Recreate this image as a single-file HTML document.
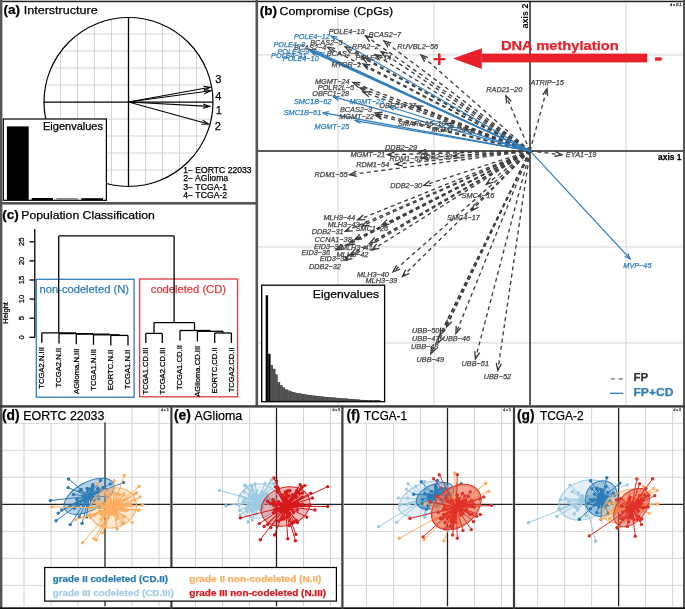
<!DOCTYPE html>
<html><head><meta charset="utf-8"><style>
html,body{margin:0;padding:0;background:#fff;}
svg{display:block;font-family:"Liberation Sans",Arial,sans-serif;}
</style></head><body>
<svg width="685" height="609" viewBox="0 0 685 609">
<rect width="685" height="609" fill="#fff"/>
<clipPath id="cc"><circle cx="128.5" cy="102.0" r="84.5"/></clipPath>
<g clip-path="url(#cc)">
<line x1="43.5" y1="17.5" x2="43.5" y2="186.5" stroke="#d4d4d4" stroke-width="1"/>
<line x1="44.0" y1="17.0" x2="213.0" y2="17.0" stroke="#d4d4d4" stroke-width="1"/>
<line x1="60.5" y1="17.5" x2="60.5" y2="186.5" stroke="#d4d4d4" stroke-width="1"/>
<line x1="44.0" y1="34.0" x2="213.0" y2="34.0" stroke="#d4d4d4" stroke-width="1"/>
<line x1="77.5" y1="17.5" x2="77.5" y2="186.5" stroke="#d4d4d4" stroke-width="1"/>
<line x1="44.0" y1="51.0" x2="213.0" y2="51.0" stroke="#d4d4d4" stroke-width="1"/>
<line x1="94.5" y1="17.5" x2="94.5" y2="186.5" stroke="#d4d4d4" stroke-width="1"/>
<line x1="44.0" y1="68.0" x2="213.0" y2="68.0" stroke="#d4d4d4" stroke-width="1"/>
<line x1="111.5" y1="17.5" x2="111.5" y2="186.5" stroke="#d4d4d4" stroke-width="1"/>
<line x1="44.0" y1="85.0" x2="213.0" y2="85.0" stroke="#d4d4d4" stroke-width="1"/>
<line x1="145.5" y1="17.5" x2="145.5" y2="186.5" stroke="#d4d4d4" stroke-width="1"/>
<line x1="44.0" y1="119.0" x2="213.0" y2="119.0" stroke="#d4d4d4" stroke-width="1"/>
<line x1="162.5" y1="17.5" x2="162.5" y2="186.5" stroke="#d4d4d4" stroke-width="1"/>
<line x1="44.0" y1="136.0" x2="213.0" y2="136.0" stroke="#d4d4d4" stroke-width="1"/>
<line x1="179.5" y1="17.5" x2="179.5" y2="186.5" stroke="#d4d4d4" stroke-width="1"/>
<line x1="44.0" y1="153.0" x2="213.0" y2="153.0" stroke="#d4d4d4" stroke-width="1"/>
<line x1="196.5" y1="17.5" x2="196.5" y2="186.5" stroke="#d4d4d4" stroke-width="1"/>
<line x1="44.0" y1="170.0" x2="213.0" y2="170.0" stroke="#d4d4d4" stroke-width="1"/>
<line x1="213.5" y1="17.5" x2="213.5" y2="186.5" stroke="#d4d4d4" stroke-width="1"/>
<line x1="44.0" y1="187.0" x2="213.0" y2="187.0" stroke="#d4d4d4" stroke-width="1"/>
</g>
<circle cx="128.5" cy="102.0" r="84.5" fill="none" stroke="#000" stroke-width="1.2"/>
<line x1="44.0" y1="102.1" x2="213.0" y2="102.1" stroke="#000" stroke-width="1.4"/>
<line x1="128.5" y1="17.5" x2="128.5" y2="186.5" stroke="#000" stroke-width="1.3"/>
<line x1="128.5" y1="102.0" x2="210.2" y2="87.2" stroke="#000" stroke-width="1.1"/>
<polyline points="203.3,86.3 210.2,87.2 204.0,90.5" fill="none" stroke="#000" stroke-width="1.1"/>
<line x1="128.5" y1="102.0" x2="210.7" y2="90.7" stroke="#000" stroke-width="1.1"/>
<polyline points="203.8,89.5 210.7,90.7 204.4,93.7" fill="none" stroke="#000" stroke-width="1.1"/>
<line x1="128.5" y1="102.0" x2="209.7" y2="106.4" stroke="#000" stroke-width="1.1"/>
<polyline points="203.2,103.9 209.7,106.4 202.9,108.2" fill="none" stroke="#000" stroke-width="1.1"/>
<line x1="128.5" y1="102.0" x2="208.5" y2="124.0" stroke="#000" stroke-width="1.1"/>
<polyline points="202.7,120.1 208.5,124.0 201.5,124.3" fill="none" stroke="#000" stroke-width="1.1"/>
<text x="215.3" y="82.9" font-size="11" fill="#000" stroke="#000" stroke-width="0.25">3</text>
<text x="215.3" y="99.5" font-size="11" fill="#000" stroke="#000" stroke-width="0.25">4</text>
<text x="215.8" y="113.5" font-size="11" fill="#000" stroke="#000" stroke-width="0.25">1</text>
<text x="214.8" y="130.4" font-size="11" fill="#000" stroke="#000" stroke-width="0.25">2</text>
<text x="3.4" y="14.3" font-size="13.5" font-weight="bold" fill="#000" stroke="#000" stroke-width="0.25">(a)</text>
<text x="23.7" y="14.3" font-size="11.8" fill="#000" stroke="#000" stroke-width="0.25" textLength="74.0" lengthAdjust="spacingAndGlyphs">Interstructure</text>
<rect x="3.3" y="119.0" width="103.1" height="81.3" fill="#fff" stroke="#000" stroke-width="1.2"/>
<rect x="6.9" y="126.4" width="21.8" height="73.6" fill="#000" stroke="none" stroke-width="1"/>
<rect x="31.7" y="198.0" width="21.3" height="2.0" fill="#000" stroke="none" stroke-width="1"/>
<rect x="56.3" y="198.0" width="21.4" height="2.0" fill="#888" stroke="none" stroke-width="1"/>
<rect x="81.3" y="198.2" width="21.7" height="1.8" fill="#000" stroke="none" stroke-width="1"/>
<text x="43.0" y="130.2" font-size="10" fill="#000" stroke="#000" stroke-width="0.25" textLength="60.0" lengthAdjust="spacingAndGlyphs">Eigenvalues</text>
<text x="183.2" y="172.7" font-size="8.4" fill="#000" stroke="#000" stroke-width="0.25" textLength="68.4" lengthAdjust="spacingAndGlyphs">1− EORTC 22033</text>
<text x="183.2" y="181.4" font-size="8.4" fill="#000" stroke="#000" stroke-width="0.25" textLength="45.0" lengthAdjust="spacingAndGlyphs">2− AGlioma</text>
<text x="183.2" y="189.8" font-size="8.4" fill="#000" stroke="#000" stroke-width="0.25" textLength="44.0" lengthAdjust="spacingAndGlyphs">3− TCGA-1</text>
<text x="183.2" y="198.2" font-size="8.4" fill="#000" stroke="#000" stroke-width="0.25" textLength="44.0" lengthAdjust="spacingAndGlyphs">4− TCGA-2</text>
<text x="2.3" y="219.0" font-size="13.5" font-weight="bold" fill="#000" stroke="#000" stroke-width="0.25">(c)</text>
<text x="21.3" y="219.2" font-size="11.8" fill="#000" stroke="#000" stroke-width="0.25" textLength="133.5" lengthAdjust="spacingAndGlyphs">Population Classification</text>
<line x1="34.8" y1="229.0" x2="34.8" y2="337.3" stroke="#000" stroke-width="1.3"/>
<line x1="29.5" y1="337.3" x2="34.8" y2="337.3" stroke="#000" stroke-width="1.3"/>
<text transform="translate(24.2,337.3) rotate(-90)" font-size="7.6" text-anchor="middle" fill="#000" stroke="#000" stroke-width="0.25">0</text>
<line x1="29.5" y1="318.2" x2="34.8" y2="318.2" stroke="#000" stroke-width="1.3"/>
<text transform="translate(24.2,318.2) rotate(-90)" font-size="7.6" text-anchor="middle" fill="#000" stroke="#000" stroke-width="0.25">5</text>
<line x1="29.5" y1="299.1" x2="34.8" y2="299.1" stroke="#000" stroke-width="1.3"/>
<text transform="translate(24.2,299.1) rotate(-90)" font-size="7.6" text-anchor="middle" fill="#000" stroke="#000" stroke-width="0.25">10</text>
<line x1="29.5" y1="280.0" x2="34.8" y2="280.0" stroke="#000" stroke-width="1.3"/>
<text transform="translate(24.2,280.0) rotate(-90)" font-size="7.6" text-anchor="middle" fill="#000" stroke="#000" stroke-width="0.25">15</text>
<line x1="29.5" y1="260.9" x2="34.8" y2="260.9" stroke="#000" stroke-width="1.3"/>
<text transform="translate(24.2,260.9) rotate(-90)" font-size="7.6" text-anchor="middle" fill="#000" stroke="#000" stroke-width="0.25">20</text>
<line x1="29.5" y1="241.8" x2="34.8" y2="241.8" stroke="#000" stroke-width="1.3"/>
<text transform="translate(24.2,241.8) rotate(-90)" font-size="7.6" text-anchor="middle" fill="#000" stroke="#000" stroke-width="0.25">25</text>
<text transform="translate(8.4,312.9) rotate(-90)" font-size="7.5" text-anchor="middle" fill="#000" stroke="#000" stroke-width="0.25">Height</text>
<rect x="36.3" y="279.3" width="97.8" height="117.9" fill="none" stroke="#2f7dbd" stroke-width="1.3"/>
<rect x="139.6" y="279.0" width="98.0" height="117.8" fill="none" stroke="#e0393e" stroke-width="1.3"/>
<text x="39.5" y="293.0" font-size="11" fill="#2f7dbd" stroke="#2f7dbd" stroke-width="0.25" textLength="89.5" lengthAdjust="spacingAndGlyphs">non-codeleted (N)</text>
<text x="150.8" y="293.2" font-size="11" fill="#e0393e" stroke="#e0393e" stroke-width="0.25" textLength="75.2" lengthAdjust="spacingAndGlyphs">codeleted (CD)</text>
<line x1="58.7" y1="235.9" x2="174.1" y2="235.9" stroke="#000" stroke-width="1.3"/>
<line x1="58.7" y1="235.9" x2="58.7" y2="332.8" stroke="#000" stroke-width="1.3"/>
<line x1="174.1" y1="235.9" x2="174.1" y2="322.7" stroke="#000" stroke-width="1.3"/>
<line x1="41.8" y1="332.8" x2="75.8" y2="332.8" stroke="#000" stroke-width="1.3"/>
<line x1="75.8" y1="332.8" x2="75.8" y2="333.6" stroke="#000" stroke-width="1.3"/>
<line x1="59.0" y1="333.6" x2="93.0" y2="333.6" stroke="#000" stroke-width="1.3"/>
<line x1="93.0" y1="333.6" x2="93.0" y2="334.2" stroke="#000" stroke-width="1.3"/>
<line x1="76.3" y1="334.2" x2="109.6" y2="334.2" stroke="#000" stroke-width="1.3"/>
<line x1="109.6" y1="334.2" x2="109.6" y2="334.8" stroke="#000" stroke-width="1.3"/>
<line x1="93.5" y1="334.8" x2="119.4" y2="334.8" stroke="#000" stroke-width="1.3"/>
<line x1="119.4" y1="334.8" x2="119.4" y2="335.4" stroke="#000" stroke-width="1.3"/>
<line x1="110.8" y1="335.4" x2="128.0" y2="335.4" stroke="#000" stroke-width="1.3"/>
<line x1="41.8" y1="332.8" x2="41.8" y2="342.8" stroke="#000" stroke-width="1.3"/>
<line x1="59.0" y1="333.6" x2="59.0" y2="343.6" stroke="#000" stroke-width="1.3"/>
<line x1="76.3" y1="334.2" x2="76.3" y2="344.2" stroke="#000" stroke-width="1.3"/>
<line x1="93.5" y1="334.8" x2="93.5" y2="344.8" stroke="#000" stroke-width="1.3"/>
<line x1="110.8" y1="335.4" x2="110.8" y2="345.4" stroke="#000" stroke-width="1.3"/>
<line x1="128.0" y1="335.4" x2="128.0" y2="345.4" stroke="#000" stroke-width="1.3"/>
<line x1="154.0" y1="322.7" x2="194.5" y2="322.7" stroke="#000" stroke-width="1.3"/>
<line x1="154.0" y1="322.7" x2="154.0" y2="333.4" stroke="#000" stroke-width="1.3"/>
<line x1="145.8" y1="333.4" x2="162.3" y2="333.4" stroke="#000" stroke-width="1.3"/>
<line x1="194.5" y1="322.7" x2="194.5" y2="330.5" stroke="#000" stroke-width="1.3"/>
<line x1="180.0" y1="330.5" x2="210.2" y2="330.5" stroke="#000" stroke-width="1.3"/>
<line x1="210.2" y1="330.5" x2="210.2" y2="331.3" stroke="#000" stroke-width="1.3"/>
<line x1="197.4" y1="331.3" x2="223.0" y2="331.3" stroke="#000" stroke-width="1.3"/>
<line x1="223.0" y1="331.3" x2="223.0" y2="333.0" stroke="#000" stroke-width="1.3"/>
<line x1="214.7" y1="333.0" x2="231.4" y2="333.0" stroke="#000" stroke-width="1.3"/>
<line x1="145.8" y1="333.4" x2="145.8" y2="343.1" stroke="#000" stroke-width="1.3"/>
<line x1="162.3" y1="333.4" x2="162.3" y2="343.1" stroke="#000" stroke-width="1.3"/>
<line x1="180.0" y1="330.5" x2="180.0" y2="340.8" stroke="#000" stroke-width="1.3"/>
<line x1="197.4" y1="331.3" x2="197.4" y2="341.5" stroke="#000" stroke-width="1.3"/>
<line x1="214.7" y1="333.0" x2="214.7" y2="343.0" stroke="#000" stroke-width="1.3"/>
<line x1="231.4" y1="333.0" x2="231.4" y2="343.0" stroke="#000" stroke-width="1.3"/>
<text transform="translate(44.0,347.1) rotate(-90)" font-size="7.65" text-anchor="end" fill="#000" stroke="#000" stroke-width="0.25">TCGA2.N.III</text>
<text transform="translate(61.2,347.9) rotate(-90)" font-size="7.65" text-anchor="end" fill="#000" stroke="#000" stroke-width="0.25">TCGA2.N.II</text>
<text transform="translate(78.5,348.5) rotate(-90)" font-size="7.65" text-anchor="end" fill="#000" stroke="#000" stroke-width="0.25">AGlioma.N.III</text>
<text transform="translate(95.7,349.1) rotate(-90)" font-size="7.65" text-anchor="end" fill="#000" stroke="#000" stroke-width="0.25">TCGA1.N.III</text>
<text transform="translate(113.0,349.7) rotate(-90)" font-size="7.65" text-anchor="end" fill="#000" stroke="#000" stroke-width="0.25">EORTC.N.II</text>
<text transform="translate(130.2,349.7) rotate(-90)" font-size="7.65" text-anchor="end" fill="#000" stroke="#000" stroke-width="0.25">TCGA1.N.II</text>
<text transform="translate(148.0,347.4) rotate(-90)" font-size="7.65" text-anchor="end" fill="#000" stroke="#000" stroke-width="0.25">TCGA1.CD.III</text>
<text transform="translate(164.5,347.4) rotate(-90)" font-size="7.65" text-anchor="end" fill="#000" stroke="#000" stroke-width="0.25">TCGA2.CD.III</text>
<text transform="translate(182.2,345.1) rotate(-90)" font-size="7.65" text-anchor="end" fill="#000" stroke="#000" stroke-width="0.25">TCGA1.CD.II</text>
<text transform="translate(199.6,345.8) rotate(-90)" font-size="7.65" text-anchor="end" fill="#000" stroke="#000" stroke-width="0.25">AGlioma.CD.III</text>
<text transform="translate(216.9,347.3) rotate(-90)" font-size="7.65" text-anchor="end" fill="#000" stroke="#000" stroke-width="0.25">EORTC.CD.II</text>
<text transform="translate(233.6,347.3) rotate(-90)" font-size="7.65" text-anchor="end" fill="#000" stroke="#000" stroke-width="0.25">TCGA2.CD.II</text>
<clipPath id="cb"><rect x="258.0" y="2.0" width="425.0" height="403.0"/></clipPath>
<g clip-path="url(#cb)">
<line x1="338.0" y1="2.0" x2="338.0" y2="405.0" stroke="#d4d4d4" stroke-width="1"/>
<line x1="434.0" y1="2.0" x2="434.0" y2="405.0" stroke="#d4d4d4" stroke-width="1"/>
<line x1="626.0" y1="2.0" x2="626.0" y2="405.0" stroke="#d4d4d4" stroke-width="1"/>
<line x1="258.0" y1="54.9" x2="683.0" y2="54.9" stroke="#d4d4d4" stroke-width="1"/>
<line x1="258.0" y1="246.9" x2="683.0" y2="246.9" stroke="#d4d4d4" stroke-width="1"/>
<line x1="258.0" y1="342.9" x2="683.0" y2="342.9" stroke="#d4d4d4" stroke-width="1"/>
</g>
<line x1="530.0" y1="2.0" x2="530.0" y2="405.0" stroke="#262626" stroke-width="1.5"/>
<line x1="258.0" y1="150.9" x2="683.0" y2="150.9" stroke="#262626" stroke-width="1.5"/>
<line x1="530.0" y1="150.9" x2="365.5" y2="35.8" stroke="#404040" stroke-width="1.35" stroke-dasharray="4,3.3"/>
<polyline points="369.8,41.9 365.5,35.8 372.7,37.7" fill="none" stroke="#383838" stroke-width="1.3"/>
<line x1="530.0" y1="150.9" x2="384.0" y2="41.0" stroke="#404040" stroke-width="1.35" stroke-dasharray="4,3.3"/>
<polyline points="388.1,47.3 384.0,41.0 391.2,43.2" fill="none" stroke="#383838" stroke-width="1.3"/>
<line x1="530.0" y1="150.9" x2="345.0" y2="46.6" stroke="#404040" stroke-width="1.35" stroke-dasharray="4,3.3"/>
<polyline points="349.9,52.3 345.0,46.6 352.4,47.8" fill="none" stroke="#383838" stroke-width="1.3"/>
<line x1="530.0" y1="150.9" x2="327.7" y2="47.4" stroke="#404040" stroke-width="1.35" stroke-dasharray="4,3.3"/>
<polyline points="332.8,52.9 327.7,47.4 335.1,48.3" fill="none" stroke="#383838" stroke-width="1.3"/>
<line x1="530.0" y1="150.9" x2="381.0" y2="51.5" stroke="#404040" stroke-width="1.35" stroke-dasharray="4,3.3"/>
<polyline points="385.4,57.5 381.0,51.5 388.3,53.3" fill="none" stroke="#383838" stroke-width="1.3"/>
<line x1="530.0" y1="150.9" x2="421.0" y2="55.0" stroke="#404040" stroke-width="1.35" stroke-dasharray="4,3.3"/>
<polyline points="424.6,61.6 421.0,55.0 428.0,57.7" fill="none" stroke="#383838" stroke-width="1.3"/>
<line x1="530.0" y1="150.9" x2="362.0" y2="57.5" stroke="#404040" stroke-width="1.35" stroke-dasharray="4,3.3"/>
<polyline points="366.9,63.2 362.0,57.5 369.4,58.7" fill="none" stroke="#383838" stroke-width="1.3"/>
<line x1="530.0" y1="150.9" x2="375.0" y2="54.5" stroke="#404040" stroke-width="1.35" stroke-dasharray="4,3.3"/>
<polyline points="379.6,60.4 375.0,54.5 382.3,56.0" fill="none" stroke="#383838" stroke-width="1.3"/>
<line x1="530.0" y1="150.9" x2="363.0" y2="64.0" stroke="#404040" stroke-width="1.35" stroke-dasharray="4,3.3"/>
<polyline points="368.1,69.5 363.0,64.0 370.4,65.0" fill="none" stroke="#383838" stroke-width="1.3"/>
<line x1="530.0" y1="150.9" x2="353.0" y2="82.5" stroke="#404040" stroke-width="1.35" stroke-dasharray="4,3.3"/>
<polyline points="358.6,87.4 353.0,82.5 360.5,82.6" fill="none" stroke="#383838" stroke-width="1.3"/>
<line x1="530.0" y1="150.9" x2="360.0" y2="88.0" stroke="#404040" stroke-width="1.35" stroke-dasharray="4,3.3"/>
<polyline points="365.7,92.9 360.0,88.0 367.5,88.0" fill="none" stroke="#383838" stroke-width="1.3"/>
<line x1="530.0" y1="150.9" x2="363.0" y2="92.0" stroke="#404040" stroke-width="1.35" stroke-dasharray="4,3.3"/>
<polyline points="368.8,96.8 363.0,92.0 370.5,91.9" fill="none" stroke="#383838" stroke-width="1.3"/>
<line x1="530.0" y1="150.9" x2="375.0" y2="113.0" stroke="#404040" stroke-width="1.35" stroke-dasharray="4,3.3"/>
<polyline points="381.2,117.2 375.0,113.0 382.5,112.2" fill="none" stroke="#383838" stroke-width="1.3"/>
<line x1="530.0" y1="150.9" x2="375.3" y2="115.3" stroke="#404040" stroke-width="1.35" stroke-dasharray="4,3.3"/>
<polyline points="381.6,119.4 375.3,115.3 382.7,114.4" fill="none" stroke="#383838" stroke-width="1.3"/>
<line x1="530.0" y1="150.9" x2="416.0" y2="106.0" stroke="#404040" stroke-width="1.35" stroke-dasharray="4,3.3"/>
<polyline points="421.6,111.0 416.0,106.0 423.5,106.2" fill="none" stroke="#383838" stroke-width="1.3"/>
<line x1="530.0" y1="150.9" x2="446.0" y2="123.5" stroke="#404040" stroke-width="1.35" stroke-dasharray="4,3.3"/>
<polyline points="451.9,128.1 446.0,123.5 453.5,123.2" fill="none" stroke="#383838" stroke-width="1.3"/>
<line x1="530.0" y1="150.9" x2="466.0" y2="130.0" stroke="#404040" stroke-width="1.35" stroke-dasharray="4,3.3"/>
<polyline points="471.9,134.6 466.0,130.0 473.5,129.7" fill="none" stroke="#383838" stroke-width="1.3"/>
<line x1="530.0" y1="150.9" x2="506.0" y2="95.9" stroke="#404040" stroke-width="1.35" stroke-dasharray="4,3.3"/>
<polyline points="506.5,103.4 506.0,95.9 511.2,101.3" fill="none" stroke="#383838" stroke-width="1.3"/>
<line x1="530.0" y1="150.9" x2="547.0" y2="88.7" stroke="#404040" stroke-width="1.35" stroke-dasharray="4,3.3"/>
<polyline points="542.7,94.8 547.0,88.7 547.6,96.2" fill="none" stroke="#383838" stroke-width="1.3"/>
<line x1="530.0" y1="150.9" x2="419.0" y2="152.0" stroke="#404040" stroke-width="1.35" stroke-dasharray="4,3.3"/>
<polyline points="426.1,154.5 419.0,152.0 426.0,149.4" fill="none" stroke="#383838" stroke-width="1.3"/>
<line x1="530.0" y1="150.9" x2="387.6" y2="154.7" stroke="#404040" stroke-width="1.35" stroke-dasharray="4,3.3"/>
<polyline points="394.7,157.1 387.6,154.7 394.6,151.9" fill="none" stroke="#383838" stroke-width="1.3"/>
<line x1="530.0" y1="150.9" x2="422.0" y2="158.0" stroke="#404040" stroke-width="1.35" stroke-dasharray="4,3.3"/>
<polyline points="429.2,160.1 422.0,158.0 428.9,155.0" fill="none" stroke="#383838" stroke-width="1.3"/>
<line x1="530.0" y1="150.9" x2="453.0" y2="156.0" stroke="#404040" stroke-width="1.35" stroke-dasharray="4,3.3"/>
<polyline points="460.2,158.1 453.0,156.0 459.9,153.0" fill="none" stroke="#383838" stroke-width="1.3"/>
<line x1="530.0" y1="150.9" x2="395.6" y2="164.2" stroke="#404040" stroke-width="1.35" stroke-dasharray="4,3.3"/>
<polyline points="402.9,166.1 395.6,164.2 402.4,161.0" fill="none" stroke="#383838" stroke-width="1.3"/>
<line x1="530.0" y1="150.9" x2="349.6" y2="174.7" stroke="#404040" stroke-width="1.35" stroke-dasharray="4,3.3"/>
<polyline points="356.9,176.3 349.6,174.7 356.3,171.2" fill="none" stroke="#383838" stroke-width="1.3"/>
<line x1="530.0" y1="150.9" x2="423.8" y2="185.4" stroke="#404040" stroke-width="1.35" stroke-dasharray="4,3.3"/>
<polyline points="431.3,185.7 423.8,185.4 429.7,180.8" fill="none" stroke="#383838" stroke-width="1.3"/>
<line x1="530.0" y1="150.9" x2="486.3" y2="184.3" stroke="#404040" stroke-width="1.35" stroke-dasharray="4,3.3"/>
<polyline points="493.5,182.1 486.3,184.3 490.3,178.0" fill="none" stroke="#383838" stroke-width="1.3"/>
<line x1="530.0" y1="150.9" x2="471.5" y2="210.6" stroke="#404040" stroke-width="1.35" stroke-dasharray="4,3.3"/>
<polyline points="478.3,207.4 471.5,210.6 474.6,203.8" fill="none" stroke="#383838" stroke-width="1.3"/>
<line x1="530.0" y1="150.9" x2="357.7" y2="219.9" stroke="#404040" stroke-width="1.35" stroke-dasharray="4,3.3"/>
<polyline points="365.2,219.7 357.7,219.9 363.3,214.9" fill="none" stroke="#383838" stroke-width="1.3"/>
<line x1="530.0" y1="150.9" x2="362.0" y2="226.0" stroke="#404040" stroke-width="1.35" stroke-dasharray="4,3.3"/>
<polyline points="369.5,225.5 362.0,226.0 367.4,220.8" fill="none" stroke="#383838" stroke-width="1.3"/>
<line x1="530.0" y1="150.9" x2="382.0" y2="225.0" stroke="#404040" stroke-width="1.35" stroke-dasharray="4,3.3"/>
<polyline points="389.5,224.1 382.0,225.0 387.2,219.6" fill="none" stroke="#383838" stroke-width="1.3"/>
<line x1="530.0" y1="150.9" x2="345.3" y2="231.3" stroke="#404040" stroke-width="1.35" stroke-dasharray="4,3.3"/>
<polyline points="352.8,230.8 345.3,231.3 350.7,226.1" fill="none" stroke="#383838" stroke-width="1.3"/>
<line x1="530.0" y1="150.9" x2="354.7" y2="239.7" stroke="#404040" stroke-width="1.35" stroke-dasharray="4,3.3"/>
<polyline points="362.1,238.8 354.7,239.7 359.8,234.2" fill="none" stroke="#383838" stroke-width="1.3"/>
<line x1="530.0" y1="150.9" x2="348.0" y2="245.0" stroke="#404040" stroke-width="1.35" stroke-dasharray="4,3.3"/>
<polyline points="355.4,244.0 348.0,245.0 353.1,239.5" fill="none" stroke="#383838" stroke-width="1.3"/>
<line x1="530.0" y1="150.9" x2="370.0" y2="243.0" stroke="#404040" stroke-width="1.35" stroke-dasharray="4,3.3"/>
<polyline points="377.4,241.7 370.0,243.0 374.8,237.3" fill="none" stroke="#383838" stroke-width="1.3"/>
<line x1="530.0" y1="150.9" x2="336.0" y2="250.0" stroke="#404040" stroke-width="1.35" stroke-dasharray="4,3.3"/>
<polyline points="343.4,249.1 336.0,250.0 341.1,244.5" fill="none" stroke="#383838" stroke-width="1.3"/>
<line x1="530.0" y1="150.9" x2="372.0" y2="250.0" stroke="#404040" stroke-width="1.35" stroke-dasharray="4,3.3"/>
<polyline points="379.3,248.4 372.0,250.0 376.6,244.1" fill="none" stroke="#383838" stroke-width="1.3"/>
<line x1="530.0" y1="150.9" x2="350.0" y2="255.0" stroke="#404040" stroke-width="1.35" stroke-dasharray="4,3.3"/>
<polyline points="357.4,253.7 350.0,255.0 354.8,249.3" fill="none" stroke="#383838" stroke-width="1.3"/>
<line x1="530.0" y1="150.9" x2="345.0" y2="260.0" stroke="#404040" stroke-width="1.35" stroke-dasharray="4,3.3"/>
<polyline points="352.4,258.6 345.0,260.0 349.8,254.2" fill="none" stroke="#383838" stroke-width="1.3"/>
<line x1="530.0" y1="150.9" x2="393.1" y2="271.8" stroke="#404040" stroke-width="1.35" stroke-dasharray="4,3.3"/>
<polyline points="400.1,269.1 393.1,271.8 396.7,265.2" fill="none" stroke="#383838" stroke-width="1.3"/>
<line x1="530.0" y1="150.9" x2="402.5" y2="276.5" stroke="#404040" stroke-width="1.35" stroke-dasharray="4,3.3"/>
<polyline points="409.3,273.4 402.5,276.5 405.7,269.7" fill="none" stroke="#383838" stroke-width="1.3"/>
<line x1="530.0" y1="150.9" x2="446.5" y2="327.0" stroke="#404040" stroke-width="1.35" stroke-dasharray="4,3.3"/>
<polyline points="451.8,321.7 446.5,327.0 447.2,319.5" fill="none" stroke="#383838" stroke-width="1.3"/>
<line x1="530.0" y1="150.9" x2="440.0" y2="335.0" stroke="#404040" stroke-width="1.35" stroke-dasharray="4,3.3"/>
<polyline points="445.4,329.8 440.0,335.0 440.8,327.5" fill="none" stroke="#383838" stroke-width="1.3"/>
<line x1="530.0" y1="150.9" x2="455.9" y2="333.4" stroke="#404040" stroke-width="1.35" stroke-dasharray="4,3.3"/>
<polyline points="460.9,327.8 455.9,333.4 456.2,325.9" fill="none" stroke="#383838" stroke-width="1.3"/>
<line x1="530.0" y1="150.9" x2="438.0" y2="343.0" stroke="#404040" stroke-width="1.35" stroke-dasharray="4,3.3"/>
<polyline points="443.4,337.8 438.0,343.0 438.7,335.5" fill="none" stroke="#383838" stroke-width="1.3"/>
<line x1="530.0" y1="150.9" x2="430.8" y2="353.8" stroke="#404040" stroke-width="1.35" stroke-dasharray="4,3.3"/>
<polyline points="436.2,348.6 430.8,353.8 431.6,346.3" fill="none" stroke="#383838" stroke-width="1.3"/>
<line x1="530.0" y1="150.9" x2="475.4" y2="358.8" stroke="#404040" stroke-width="1.35" stroke-dasharray="4,3.3"/>
<polyline points="479.7,352.6 475.4,358.8 474.7,351.3" fill="none" stroke="#383838" stroke-width="1.3"/>
<line x1="530.0" y1="150.9" x2="497.8" y2="370.3" stroke="#404040" stroke-width="1.35" stroke-dasharray="4,3.3"/>
<polyline points="501.4,363.7 497.8,370.3 496.3,363.0" fill="none" stroke="#383838" stroke-width="1.3"/>
<line x1="530.0" y1="150.9" x2="561.8" y2="154.8" stroke="#404040" stroke-width="1.35" stroke-dasharray="4,3.3"/>
<polyline points="555.1,151.4 561.8,154.8 554.5,156.5" fill="none" stroke="#383838" stroke-width="1.3"/>
<line x1="530.0" y1="150.9" x2="331.2" y2="36.1" stroke="#2f7dbd" stroke-width="1.2"/>
<polyline points="335.1,40.7 331.2,36.1 337.1,37.1" fill="none" stroke="#2f7dbd" stroke-width="1.2"/>
<line x1="530.0" y1="150.9" x2="309.0" y2="49.5" stroke="#2f7dbd" stroke-width="1.2"/>
<polyline points="313.3,53.7 309.0,49.5 315.0,50.0" fill="none" stroke="#2f7dbd" stroke-width="1.2"/>
<line x1="530.0" y1="150.9" x2="313.0" y2="51.0" stroke="#2f7dbd" stroke-width="1.2"/>
<polyline points="317.3,55.2 313.0,51.0 319.0,51.5" fill="none" stroke="#2f7dbd" stroke-width="1.2"/>
<line x1="530.0" y1="150.9" x2="311.0" y2="51.5" stroke="#2f7dbd" stroke-width="1.2"/>
<polyline points="315.3,55.7 311.0,51.5 317.0,52.0" fill="none" stroke="#2f7dbd" stroke-width="1.2"/>
<line x1="530.0" y1="150.9" x2="319.0" y2="52.5" stroke="#2f7dbd" stroke-width="1.2"/>
<polyline points="323.2,56.7 319.0,52.5 325.0,53.0" fill="none" stroke="#2f7dbd" stroke-width="1.2"/>
<line x1="530.0" y1="150.9" x2="333.6" y2="96.9" stroke="#2f7dbd" stroke-width="1.2"/>
<polyline points="338.5,100.4 333.6,96.9 339.6,96.4" fill="none" stroke="#2f7dbd" stroke-width="1.2"/>
<line x1="530.0" y1="150.9" x2="323.0" y2="112.7" stroke="#2f7dbd" stroke-width="1.2"/>
<polyline points="328.2,115.7 323.0,112.7 328.9,111.7" fill="none" stroke="#2f7dbd" stroke-width="1.2"/>
<line x1="530.0" y1="150.9" x2="355.3" y2="120.6" stroke="#2f7dbd" stroke-width="1.2"/>
<polyline points="360.5,123.6 355.3,120.6 361.2,119.5" fill="none" stroke="#2f7dbd" stroke-width="1.2"/>
<line x1="530.0" y1="150.9" x2="389.0" y2="106.5" stroke="#2f7dbd" stroke-width="1.2"/>
<polyline points="393.8,110.2 389.0,106.5 395.0,106.2" fill="none" stroke="#2f7dbd" stroke-width="1.2"/>
<line x1="530.0" y1="150.9" x2="630.2" y2="258.9" stroke="#2f7dbd" stroke-width="1.2"/>
<polyline points="627.9,253.4 630.2,258.9 624.9,256.2" fill="none" stroke="#2f7dbd" stroke-width="1.2"/>
<text x="328.7" y="33.8" font-size="7.3" font-style="italic" fill="#444" stroke="#444" stroke-width="0.25">POLE4−13</text>
<text x="368.8" y="37.3" font-size="7.3" font-style="italic" fill="#444" stroke="#444" stroke-width="0.25">BCAS2−7</text>
<text x="310.2" y="45.3" font-size="7.3" font-style="italic" fill="#444" stroke="#444" stroke-width="0.25">BCAS2−5</text>
<text x="294.0" y="49.5" font-size="7.3" font-style="italic" fill="#444" stroke="#444" stroke-width="0.25">BCAS2−4</text>
<text x="351.9" y="48.6" font-size="7.3" font-style="italic" fill="#444" stroke="#444" stroke-width="0.25">RPA2−2</text>
<text x="397.3" y="49.3" font-size="7.3" font-style="italic" fill="#444" stroke="#444" stroke-width="0.25">RUVBL2−56</text>
<text x="326.8" y="55.6" font-size="7.3" font-style="italic" fill="#444" stroke="#444" stroke-width="0.25">BCAS2−6</text>
<text x="355.4" y="59.7" font-size="7.3" font-style="italic" fill="#444" stroke="#444" stroke-width="0.25">POLE4−14</text>
<text x="331.4" y="67.3" font-size="7.3" font-style="italic" fill="#444" stroke="#444" stroke-width="0.25">MTOR−1</text>
<text x="314.9" y="84.2" font-size="7.3" font-style="italic" fill="#444" stroke="#444" stroke-width="0.25">MGMT−24</text>
<text x="317.8" y="90.4" font-size="7.3" font-style="italic" fill="#444" stroke="#444" stroke-width="0.25">POLR2L−5</text>
<text x="312.3" y="96.0" font-size="7.3" font-style="italic" fill="#444" stroke="#444" stroke-width="0.25">OBFC1−28</text>
<text x="339.9" y="111.8" font-size="7.3" font-style="italic" fill="#444" stroke="#444" stroke-width="0.25">BCAS2−3</text>
<text x="339.2" y="118.9" font-size="7.3" font-style="italic" fill="#444" stroke="#444" stroke-width="0.25">MGMT−22</text>
<text x="379.3" y="108.1" font-size="7.3" font-style="italic" fill="#444" stroke="#444" stroke-width="0.25">OBFC1−27</text>
<text x="398.0" y="125.5" font-size="7.3" font-style="italic" fill="#444" stroke="#444" stroke-width="0.25">SMARCA5−10</text>
<text x="431.4" y="132.3" font-size="7.3" font-style="italic" fill="#444" stroke="#444" stroke-width="0.25">MGMT−26</text>
<text x="486.3" y="92.0" font-size="7.3" font-style="italic" fill="#444" stroke="#444" stroke-width="0.25">RAD21−20</text>
<text x="530.6" y="85.4" font-size="7.3" font-style="italic" fill="#444" stroke="#444" stroke-width="0.25">ATRIP−15</text>
<text x="385.1" y="149.6" font-size="7.3" font-style="italic" fill="#444" stroke="#444" stroke-width="0.25">DDB2−29</text>
<text x="350.4" y="157.3" font-size="7.3" font-style="italic" fill="#444" stroke="#444" stroke-width="0.25">MGMT−21</text>
<text x="389.5" y="161.3" font-size="7.3" font-style="italic" fill="#444" stroke="#444" stroke-width="0.25">RDM1−53</text>
<text x="420.1" y="159.1" font-size="7.3" font-style="italic" fill="#444" stroke="#444" stroke-width="0.25">DDB2−33</text>
<text x="356.2" y="166.8" font-size="7.3" font-style="italic" fill="#444" stroke="#444" stroke-width="0.25">RDM1−54</text>
<text x="314.6" y="177.3" font-size="7.3" font-style="italic" fill="#444" stroke="#444" stroke-width="0.25">RDM1−55</text>
<text x="390.2" y="187.6" font-size="7.3" font-style="italic" fill="#444" stroke="#444" stroke-width="0.25">DDB2−30</text>
<text x="461.6" y="197.5" font-size="7.3" font-style="italic" fill="#444" stroke="#444" stroke-width="0.25">SMC4−16</text>
<text x="447.1" y="220.0" font-size="7.3" font-style="italic" fill="#444" stroke="#444" stroke-width="0.25">SMC4−17</text>
<text x="323.4" y="219.6" font-size="7.3" font-style="italic" fill="#444" stroke="#444" stroke-width="0.25">MLH3−44</text>
<text x="327.7" y="226.6" font-size="7.3" font-style="italic" fill="#444" stroke="#444" stroke-width="0.25">MLH3−43</text>
<text x="355.5" y="231.0" font-size="7.3" font-style="italic" fill="#444" stroke="#444" stroke-width="0.25">SMC1−26</text>
<text x="311.7" y="233.5" font-size="7.3" font-style="italic" fill="#444" stroke="#444" stroke-width="0.25">DDB2−31</text>
<text x="314.6" y="241.5" font-size="7.3" font-style="italic" fill="#444" stroke="#444" stroke-width="0.25">CCNA1−38</text>
<text x="313.9" y="248.8" font-size="7.3" font-style="italic" fill="#444" stroke="#444" stroke-width="0.25">EID3−34</text>
<text x="340.9" y="249.5" font-size="7.3" font-style="italic" fill="#444" stroke="#444" stroke-width="0.25">MLH3−41</text>
<text x="301.5" y="254.9" font-size="7.3" font-style="italic" fill="#444" stroke="#444" stroke-width="0.25">EID3−36</text>
<text x="336.5" y="256.8" font-size="7.3" font-style="italic" fill="#444" stroke="#444" stroke-width="0.25">MLH3−42</text>
<text x="319.7" y="261.2" font-size="7.3" font-style="italic" fill="#444" stroke="#444" stroke-width="0.25">EID3−35</text>
<text x="309.0" y="269.3" font-size="7.3" font-style="italic" fill="#444" stroke="#444" stroke-width="0.25">DDB2−32</text>
<text x="357.0" y="276.8" font-size="7.3" font-style="italic" fill="#444" stroke="#444" stroke-width="0.25">MLH3−40</text>
<text x="365.5" y="282.8" font-size="7.3" font-style="italic" fill="#444" stroke="#444" stroke-width="0.25">MLH3−39</text>
<text x="412.0" y="332.7" font-size="7.3" font-style="italic" fill="#444" stroke="#444" stroke-width="0.25">UBB−50</text>
<text x="412.0" y="341.2" font-size="7.3" font-style="italic" fill="#444" stroke="#444" stroke-width="0.25">UBB−47</text>
<text x="442.7" y="341.2" font-size="7.3" font-style="italic" fill="#444" stroke="#444" stroke-width="0.25">UBB−46</text>
<text x="411.0" y="349.0" font-size="7.3" font-style="italic" fill="#444" stroke="#444" stroke-width="0.25">UBB−48</text>
<text x="416.6" y="361.6" font-size="7.3" font-style="italic" fill="#444" stroke="#444" stroke-width="0.25">UBB−49</text>
<text x="461.6" y="366.1" font-size="7.3" font-style="italic" fill="#444" stroke="#444" stroke-width="0.25">UBB−51</text>
<text x="483.7" y="378.6" font-size="7.3" font-style="italic" fill="#444" stroke="#444" stroke-width="0.25">UBB−52</text>
<text x="565.8" y="157.1" font-size="7.3" font-style="italic" fill="#444" stroke="#444" stroke-width="0.25">EYA1−19</text>
<text x="293.9" y="38.8" font-size="7.3" font-style="italic" fill="#2f7dbd" stroke="#2f7dbd" stroke-width="0.25">POLE4−12</text>
<text x="273.4" y="47.0" font-size="7.3" font-style="italic" fill="#2f7dbd" stroke="#2f7dbd" stroke-width="0.25">POLE4−8</text>
<text x="277.5" y="54.2" font-size="7.3" font-style="italic" fill="#2f7dbd" stroke="#2f7dbd" stroke-width="0.25">POLE4−9</text>
<text x="271.1" y="58.0" font-size="7.3" font-style="italic" fill="#2f7dbd" stroke="#2f7dbd" stroke-width="0.25">POLE4−11</text>
<text x="282.8" y="61.0" font-size="7.3" font-style="italic" fill="#2f7dbd" stroke="#2f7dbd" stroke-width="0.25">POLE4−10</text>
<text x="293.9" y="104.4" font-size="7.3" font-style="italic" fill="#2f7dbd" stroke="#2f7dbd" stroke-width="0.25">SMC1B−62</text>
<text x="283.7" y="115.3" font-size="7.3" font-style="italic" fill="#2f7dbd" stroke="#2f7dbd" stroke-width="0.25">SMC1B−61</text>
<text x="314.6" y="128.9" font-size="7.3" font-style="italic" fill="#2f7dbd" stroke="#2f7dbd" stroke-width="0.25">MGMT−25</text>
<text x="349.5" y="103.5" font-size="7.3" font-style="italic" fill="#2f7dbd" stroke="#2f7dbd" stroke-width="0.25">MGMT−23</text>
<text x="623.3" y="268.1" font-size="7.3" font-style="italic" fill="#2f7dbd" stroke="#2f7dbd" stroke-width="0.25">MVP−45</text>
<rect x="481.8" y="53.6" width="165.4" height="8.8" fill="#e8202a"/>
<polygon points="453.0,58.5 481.8,48.2 481.8,69.1" fill="#e8202a"/>
<rect x="433.5" y="58.0" width="11.7" height="2.3" fill="#e8202a" stroke="none" stroke-width="1"/>
<rect x="438.0" y="53.4" width="2.5" height="11.6" fill="#e8202a" stroke="none" stroke-width="1"/>
<rect x="655.1" y="57.3" width="6.6" height="3.4" fill="#e8202a" stroke="none" stroke-width="1"/>
<text x="500.9" y="49.8" font-size="13" font-weight="bold" fill="#e8202a" stroke="#e8202a" stroke-width="0.25" textLength="117.8" lengthAdjust="spacingAndGlyphs">DNA methylation</text>
<text transform="translate(528.3,28.5) rotate(-90)" font-size="9" font-weight="bold" fill="#000" textLength="24.9" lengthAdjust="spacingAndGlyphs">axis 2</text>
<text x="658.1" y="159.5" font-size="8.8" font-weight="bold" fill="#000" stroke="#000" stroke-width="0.25" textLength="23.3" lengthAdjust="spacingAndGlyphs">axis 1</text>
<rect x="668.5" y="2.2" width="14.5" height="5.2" fill="#fff" stroke="none" stroke-width="1"/>
<text x="669.9" y="6.0" font-size="3.6" fill="#333" stroke="#333" stroke-width="0.25" textLength="11.8" lengthAdjust="spacingAndGlyphs">d = 0.1</text>
<rect x="258.2" y="2.2" width="137.0" height="14.6" fill="#fff" stroke="none" stroke-width="1"/>
<text x="259.8" y="14.6" font-size="13.5" font-weight="bold" fill="#000" stroke="#000" stroke-width="0.25">(b)</text>
<text x="279.5" y="14.6" font-size="11.8" fill="#000" stroke="#000" stroke-width="0.25" textLength="113.6" lengthAdjust="spacingAndGlyphs">Compromise (CpGs)</text>
<rect x="261.7" y="285.2" width="122.9" height="116.5" fill="#fff" stroke="#000" stroke-width="1.3"/>
<rect x="265.90" y="295.5" width="2.05" height="105.5" fill="#000" stroke="#111" stroke-width="0.35"/>
<rect x="268.30" y="354.0" width="2.05" height="47.0" fill="#000" stroke="#111" stroke-width="0.35"/>
<rect x="270.70" y="365.2" width="2.05" height="35.8" fill="#555" stroke="#111" stroke-width="0.35"/>
<rect x="273.10" y="369.0" width="2.05" height="32.0" fill="#555" stroke="#111" stroke-width="0.35"/>
<rect x="275.50" y="374.8" width="2.05" height="26.2" fill="#555" stroke="#111" stroke-width="0.35"/>
<rect x="277.90" y="382.4" width="2.05" height="18.6" fill="#555" stroke="#111" stroke-width="0.35"/>
<rect x="280.30" y="385.5" width="2.05" height="15.5" fill="#555" stroke="#111" stroke-width="0.35"/>
<rect x="282.70" y="387.6" width="2.05" height="13.4" fill="#555" stroke="#111" stroke-width="0.35"/>
<rect x="285.10" y="389.7" width="2.05" height="11.3" fill="#555" stroke="#111" stroke-width="0.35"/>
<rect x="287.50" y="390.8" width="2.05" height="10.2" fill="#555" stroke="#111" stroke-width="0.35"/>
<rect x="289.90" y="391.6" width="2.05" height="9.4" fill="#555" stroke="#111" stroke-width="0.35"/>
<rect x="292.30" y="392.3" width="2.05" height="8.7" fill="#555" stroke="#111" stroke-width="0.35"/>
<rect x="294.70" y="392.9" width="2.05" height="8.1" fill="#555" stroke="#111" stroke-width="0.35"/>
<rect x="297.10" y="393.4" width="2.05" height="7.6" fill="#555" stroke="#111" stroke-width="0.35"/>
<rect x="299.50" y="393.8" width="2.05" height="7.2" fill="#555" stroke="#111" stroke-width="0.35"/>
<rect x="301.90" y="394.2" width="2.05" height="6.8" fill="#555" stroke="#111" stroke-width="0.35"/>
<rect x="304.30" y="394.6" width="2.05" height="6.4" fill="#555" stroke="#111" stroke-width="0.35"/>
<rect x="306.70" y="395.0" width="2.05" height="6.0" fill="#555" stroke="#111" stroke-width="0.35"/>
<rect x="309.10" y="395.3" width="2.05" height="5.7" fill="#555" stroke="#111" stroke-width="0.35"/>
<rect x="311.50" y="395.6" width="2.05" height="5.4" fill="#555" stroke="#111" stroke-width="0.35"/>
<rect x="313.90" y="395.9" width="2.05" height="5.1" fill="#555" stroke="#111" stroke-width="0.35"/>
<rect x="316.30" y="396.2" width="2.05" height="4.8" fill="#555" stroke="#111" stroke-width="0.35"/>
<rect x="318.70" y="396.5" width="2.05" height="4.5" fill="#555" stroke="#111" stroke-width="0.35"/>
<rect x="321.10" y="396.8" width="2.05" height="4.2" fill="#555" stroke="#111" stroke-width="0.35"/>
<rect x="323.50" y="397.0" width="2.05" height="4.0" fill="#555" stroke="#111" stroke-width="0.35"/>
<rect x="325.90" y="397.2" width="2.05" height="3.8" fill="#555" stroke="#111" stroke-width="0.35"/>
<rect x="328.30" y="397.4" width="2.05" height="3.6" fill="#555" stroke="#111" stroke-width="0.35"/>
<rect x="330.70" y="397.6" width="2.05" height="3.4" fill="#555" stroke="#111" stroke-width="0.35"/>
<rect x="333.10" y="397.8" width="2.05" height="3.2" fill="#555" stroke="#111" stroke-width="0.35"/>
<rect x="335.50" y="398.0" width="2.05" height="3.0" fill="#555" stroke="#111" stroke-width="0.35"/>
<rect x="337.90" y="398.2" width="2.05" height="2.8" fill="#555" stroke="#111" stroke-width="0.35"/>
<rect x="340.30" y="398.4" width="2.05" height="2.6" fill="#555" stroke="#111" stroke-width="0.35"/>
<rect x="342.70" y="398.6" width="2.05" height="2.4" fill="#555" stroke="#111" stroke-width="0.35"/>
<rect x="345.10" y="398.8" width="2.05" height="2.2" fill="#555" stroke="#111" stroke-width="0.35"/>
<rect x="347.50" y="399.0" width="2.05" height="2.0" fill="#555" stroke="#111" stroke-width="0.35"/>
<rect x="349.90" y="399.2" width="2.05" height="1.8" fill="#555" stroke="#111" stroke-width="0.35"/>
<rect x="352.30" y="399.4" width="2.05" height="1.6" fill="#555" stroke="#111" stroke-width="0.35"/>
<rect x="354.70" y="399.6" width="2.05" height="1.4" fill="#555" stroke="#111" stroke-width="0.35"/>
<rect x="357.10" y="399.8" width="2.05" height="1.2" fill="#555" stroke="#111" stroke-width="0.35"/>
<rect x="359.50" y="400.0" width="2.05" height="1.0" fill="#555" stroke="#111" stroke-width="0.35"/>
<rect x="361.90" y="400.1" width="2.05" height="0.9" fill="#555" stroke="#111" stroke-width="0.35"/>
<rect x="364.30" y="400.2" width="2.05" height="0.8" fill="#555" stroke="#111" stroke-width="0.35"/>
<rect x="366.70" y="400.3" width="2.05" height="0.7" fill="#555" stroke="#111" stroke-width="0.35"/>
<rect x="369.10" y="400.4" width="2.05" height="0.6" fill="#555" stroke="#111" stroke-width="0.35"/>
<rect x="371.50" y="400.5" width="2.05" height="0.5" fill="#555" stroke="#111" stroke-width="0.35"/>
<rect x="373.90" y="400.6" width="2.05" height="0.4" fill="#555" stroke="#111" stroke-width="0.35"/>
<rect x="376.30" y="400.7" width="2.05" height="0.3" fill="#555" stroke="#111" stroke-width="0.35"/>
<rect x="378.70" y="400.8" width="2.05" height="0.2" fill="#555" stroke="#111" stroke-width="0.35"/>
<text x="312.8" y="297.6" font-size="11.5" fill="#000" stroke="#000" stroke-width="0.25" textLength="66.2" lengthAdjust="spacingAndGlyphs">Eigenvalues</text>
<line x1="610.9" y1="378.9" x2="614.9" y2="378.9" stroke="#666" stroke-width="1.2"/>
<line x1="618.6" y1="378.9" x2="622.7" y2="378.9" stroke="#666" stroke-width="1.2"/>
<text x="633.5" y="381.3" font-size="11.3" font-weight="bold" fill="#333" stroke="#333" stroke-width="0.25" textLength="14.6" lengthAdjust="spacingAndGlyphs">FP</text>
<line x1="609.9" y1="393.3" x2="623.2" y2="393.3" stroke="#2f7dbd" stroke-width="1.3"/>
<text x="633.5" y="396.0" font-size="11.3" font-weight="bold" fill="#2f7dbd" stroke="#2f7dbd" stroke-width="0.25" textLength="39.9" lengthAdjust="spacingAndGlyphs">FP+CD</text>
<clipPath id="cpd"><rect x="2.0" y="407.5" width="168.5" height="199.0"/></clipPath>
<g clip-path="url(#cpd)">
<line x1="-3.0" y1="407.5" x2="-3.0" y2="606.5" stroke="#d4d4d4" stroke-width="1"/>
<line x1="24.0" y1="407.5" x2="24.0" y2="606.5" stroke="#d4d4d4" stroke-width="1"/>
<line x1="51.0" y1="407.5" x2="51.0" y2="606.5" stroke="#d4d4d4" stroke-width="1"/>
<line x1="78.0" y1="407.5" x2="78.0" y2="606.5" stroke="#d4d4d4" stroke-width="1"/>
<line x1="132.0" y1="407.5" x2="132.0" y2="606.5" stroke="#d4d4d4" stroke-width="1"/>
<line x1="159.0" y1="407.5" x2="159.0" y2="606.5" stroke="#d4d4d4" stroke-width="1"/>
<line x1="186.0" y1="407.5" x2="186.0" y2="606.5" stroke="#d4d4d4" stroke-width="1"/>
<line x1="2.0" y1="396.3" x2="170.5" y2="396.3" stroke="#d4d4d4" stroke-width="1"/>
<line x1="2.0" y1="423.3" x2="170.5" y2="423.3" stroke="#d4d4d4" stroke-width="1"/>
<line x1="2.0" y1="450.3" x2="170.5" y2="450.3" stroke="#d4d4d4" stroke-width="1"/>
<line x1="2.0" y1="477.3" x2="170.5" y2="477.3" stroke="#d4d4d4" stroke-width="1"/>
<line x1="2.0" y1="531.3" x2="170.5" y2="531.3" stroke="#d4d4d4" stroke-width="1"/>
<line x1="2.0" y1="558.3" x2="170.5" y2="558.3" stroke="#d4d4d4" stroke-width="1"/>
<line x1="2.0" y1="585.3" x2="170.5" y2="585.3" stroke="#d4d4d4" stroke-width="1"/>
<line x1="105.0" y1="407.5" x2="105.0" y2="606.5" stroke="#222" stroke-width="1.3"/>
<line x1="2.0" y1="504.3" x2="170.5" y2="504.3" stroke="#222" stroke-width="1.3"/>
</g>
<clipPath id="cpe"><rect x="172.3" y="407.5" width="169.7" height="199.0"/></clipPath>
<g clip-path="url(#cpe)">
<line x1="168.5" y1="407.5" x2="168.5" y2="606.5" stroke="#d4d4d4" stroke-width="1"/>
<line x1="195.5" y1="407.5" x2="195.5" y2="606.5" stroke="#d4d4d4" stroke-width="1"/>
<line x1="222.5" y1="407.5" x2="222.5" y2="606.5" stroke="#d4d4d4" stroke-width="1"/>
<line x1="249.5" y1="407.5" x2="249.5" y2="606.5" stroke="#d4d4d4" stroke-width="1"/>
<line x1="303.5" y1="407.5" x2="303.5" y2="606.5" stroke="#d4d4d4" stroke-width="1"/>
<line x1="330.5" y1="407.5" x2="330.5" y2="606.5" stroke="#d4d4d4" stroke-width="1"/>
<line x1="357.5" y1="407.5" x2="357.5" y2="606.5" stroke="#d4d4d4" stroke-width="1"/>
<line x1="172.3" y1="396.3" x2="342.0" y2="396.3" stroke="#d4d4d4" stroke-width="1"/>
<line x1="172.3" y1="423.3" x2="342.0" y2="423.3" stroke="#d4d4d4" stroke-width="1"/>
<line x1="172.3" y1="450.3" x2="342.0" y2="450.3" stroke="#d4d4d4" stroke-width="1"/>
<line x1="172.3" y1="477.3" x2="342.0" y2="477.3" stroke="#d4d4d4" stroke-width="1"/>
<line x1="172.3" y1="531.3" x2="342.0" y2="531.3" stroke="#d4d4d4" stroke-width="1"/>
<line x1="172.3" y1="558.3" x2="342.0" y2="558.3" stroke="#d4d4d4" stroke-width="1"/>
<line x1="172.3" y1="585.3" x2="342.0" y2="585.3" stroke="#d4d4d4" stroke-width="1"/>
<line x1="276.5" y1="407.5" x2="276.5" y2="606.5" stroke="#222" stroke-width="1.3"/>
<line x1="172.3" y1="504.3" x2="342.0" y2="504.3" stroke="#222" stroke-width="1.3"/>
</g>
<clipPath id="cpf"><rect x="343.6" y="407.5" width="169.19999999999993" height="199.0"/></clipPath>
<g clip-path="url(#cpf)">
<line x1="339.5" y1="407.5" x2="339.5" y2="606.5" stroke="#d4d4d4" stroke-width="1"/>
<line x1="366.5" y1="407.5" x2="366.5" y2="606.5" stroke="#d4d4d4" stroke-width="1"/>
<line x1="393.5" y1="407.5" x2="393.5" y2="606.5" stroke="#d4d4d4" stroke-width="1"/>
<line x1="420.5" y1="407.5" x2="420.5" y2="606.5" stroke="#d4d4d4" stroke-width="1"/>
<line x1="474.5" y1="407.5" x2="474.5" y2="606.5" stroke="#d4d4d4" stroke-width="1"/>
<line x1="501.5" y1="407.5" x2="501.5" y2="606.5" stroke="#d4d4d4" stroke-width="1"/>
<line x1="528.5" y1="407.5" x2="528.5" y2="606.5" stroke="#d4d4d4" stroke-width="1"/>
<line x1="343.6" y1="396.3" x2="512.8" y2="396.3" stroke="#d4d4d4" stroke-width="1"/>
<line x1="343.6" y1="423.3" x2="512.8" y2="423.3" stroke="#d4d4d4" stroke-width="1"/>
<line x1="343.6" y1="450.3" x2="512.8" y2="450.3" stroke="#d4d4d4" stroke-width="1"/>
<line x1="343.6" y1="477.3" x2="512.8" y2="477.3" stroke="#d4d4d4" stroke-width="1"/>
<line x1="343.6" y1="531.3" x2="512.8" y2="531.3" stroke="#d4d4d4" stroke-width="1"/>
<line x1="343.6" y1="558.3" x2="512.8" y2="558.3" stroke="#d4d4d4" stroke-width="1"/>
<line x1="343.6" y1="585.3" x2="512.8" y2="585.3" stroke="#d4d4d4" stroke-width="1"/>
<line x1="447.5" y1="407.5" x2="447.5" y2="606.5" stroke="#222" stroke-width="1.3"/>
<line x1="343.6" y1="504.3" x2="512.8" y2="504.3" stroke="#222" stroke-width="1.3"/>
</g>
<clipPath id="cpg"><rect x="514.5" y="407.5" width="168.5" height="199.0"/></clipPath>
<g clip-path="url(#cpg)">
<line x1="510.6" y1="407.5" x2="510.6" y2="606.5" stroke="#d4d4d4" stroke-width="1"/>
<line x1="537.6" y1="407.5" x2="537.6" y2="606.5" stroke="#d4d4d4" stroke-width="1"/>
<line x1="564.6" y1="407.5" x2="564.6" y2="606.5" stroke="#d4d4d4" stroke-width="1"/>
<line x1="591.6" y1="407.5" x2="591.6" y2="606.5" stroke="#d4d4d4" stroke-width="1"/>
<line x1="645.6" y1="407.5" x2="645.6" y2="606.5" stroke="#d4d4d4" stroke-width="1"/>
<line x1="672.6" y1="407.5" x2="672.6" y2="606.5" stroke="#d4d4d4" stroke-width="1"/>
<line x1="699.6" y1="407.5" x2="699.6" y2="606.5" stroke="#d4d4d4" stroke-width="1"/>
<line x1="514.5" y1="396.3" x2="683.0" y2="396.3" stroke="#d4d4d4" stroke-width="1"/>
<line x1="514.5" y1="423.3" x2="683.0" y2="423.3" stroke="#d4d4d4" stroke-width="1"/>
<line x1="514.5" y1="450.3" x2="683.0" y2="450.3" stroke="#d4d4d4" stroke-width="1"/>
<line x1="514.5" y1="477.3" x2="683.0" y2="477.3" stroke="#d4d4d4" stroke-width="1"/>
<line x1="514.5" y1="531.3" x2="683.0" y2="531.3" stroke="#d4d4d4" stroke-width="1"/>
<line x1="514.5" y1="558.3" x2="683.0" y2="558.3" stroke="#d4d4d4" stroke-width="1"/>
<line x1="514.5" y1="585.3" x2="683.0" y2="585.3" stroke="#d4d4d4" stroke-width="1"/>
<line x1="618.6" y1="407.5" x2="618.6" y2="606.5" stroke="#222" stroke-width="1.3"/>
<line x1="514.5" y1="504.3" x2="683.0" y2="504.3" stroke="#222" stroke-width="1.3"/>
</g>
<ellipse cx="89.0" cy="496.3" rx="27.5" ry="14.0" transform="rotate(-29 89.0 496.3)" fill="#2c7bb6" fill-opacity="0.35" stroke="#2c7bb6" stroke-width="1"/>
<line x1="89.0" y1="496.3" x2="107.4" y2="496.6" stroke="#2c7bb6" stroke-width="1"/>
<line x1="89.0" y1="496.3" x2="87.4" y2="491.7" stroke="#2c7bb6" stroke-width="1"/>
<line x1="89.0" y1="496.3" x2="77.3" y2="503.0" stroke="#2c7bb6" stroke-width="1"/>
<line x1="89.0" y1="496.3" x2="73.5" y2="494.5" stroke="#2c7bb6" stroke-width="1"/>
<line x1="89.0" y1="496.3" x2="91.6" y2="495.8" stroke="#2c7bb6" stroke-width="1"/>
<line x1="89.0" y1="496.3" x2="92.1" y2="488.0" stroke="#2c7bb6" stroke-width="1"/>
<line x1="89.0" y1="496.3" x2="88.9" y2="495.9" stroke="#2c7bb6" stroke-width="1"/>
<line x1="89.0" y1="496.3" x2="74.3" y2="508.3" stroke="#2c7bb6" stroke-width="1"/>
<line x1="89.0" y1="496.3" x2="99.8" y2="507.5" stroke="#2c7bb6" stroke-width="1"/>
<line x1="89.0" y1="496.3" x2="90.8" y2="494.3" stroke="#2c7bb6" stroke-width="1"/>
<line x1="89.0" y1="496.3" x2="102.9" y2="490.0" stroke="#2c7bb6" stroke-width="1"/>
<line x1="89.0" y1="496.3" x2="97.7" y2="488.8" stroke="#2c7bb6" stroke-width="1"/>
<line x1="89.0" y1="496.3" x2="94.5" y2="500.6" stroke="#2c7bb6" stroke-width="1"/>
<line x1="89.0" y1="496.3" x2="96.9" y2="492.8" stroke="#2c7bb6" stroke-width="1"/>
<line x1="89.0" y1="496.3" x2="78.6" y2="505.2" stroke="#2c7bb6" stroke-width="1"/>
<line x1="89.0" y1="496.3" x2="92.0" y2="499.8" stroke="#2c7bb6" stroke-width="1"/>
<line x1="89.0" y1="496.3" x2="94.7" y2="501.0" stroke="#2c7bb6" stroke-width="1"/>
<line x1="89.0" y1="496.3" x2="89.1" y2="497.7" stroke="#2c7bb6" stroke-width="1"/>
<line x1="89.0" y1="496.3" x2="92.9" y2="486.3" stroke="#2c7bb6" stroke-width="1"/>
<line x1="89.0" y1="496.3" x2="83.1" y2="496.0" stroke="#2c7bb6" stroke-width="1"/>
<line x1="89.0" y1="496.3" x2="110.2" y2="483.9" stroke="#2c7bb6" stroke-width="1"/>
<line x1="89.0" y1="496.3" x2="98.0" y2="495.8" stroke="#2c7bb6" stroke-width="1"/>
<line x1="89.0" y1="496.3" x2="81.2" y2="489.4" stroke="#2c7bb6" stroke-width="1"/>
<line x1="89.0" y1="496.3" x2="98.2" y2="488.3" stroke="#2c7bb6" stroke-width="1"/>
<line x1="89.0" y1="496.3" x2="92.8" y2="484.8" stroke="#2c7bb6" stroke-width="1"/>
<line x1="89.0" y1="496.3" x2="88.1" y2="505.9" stroke="#2c7bb6" stroke-width="1"/>
<line x1="89.0" y1="496.3" x2="100.5" y2="480.5" stroke="#2c7bb6" stroke-width="1"/>
<line x1="89.0" y1="496.3" x2="74.4" y2="504.1" stroke="#2c7bb6" stroke-width="1"/>
<line x1="89.0" y1="496.3" x2="97.4" y2="492.8" stroke="#2c7bb6" stroke-width="1"/>
<line x1="89.0" y1="496.3" x2="89.3" y2="489.0" stroke="#2c7bb6" stroke-width="1"/>
<line x1="89.0" y1="496.3" x2="98.8" y2="498.9" stroke="#2c7bb6" stroke-width="1"/>
<line x1="89.0" y1="496.3" x2="79.9" y2="491.0" stroke="#2c7bb6" stroke-width="1"/>
<line x1="89.0" y1="496.3" x2="83.1" y2="505.0" stroke="#2c7bb6" stroke-width="1"/>
<line x1="89.0" y1="496.3" x2="70.0" y2="506.2" stroke="#2c7bb6" stroke-width="1"/>
<line x1="89.0" y1="496.3" x2="77.9" y2="501.5" stroke="#2c7bb6" stroke-width="1"/>
<line x1="89.0" y1="496.3" x2="86.4" y2="497.9" stroke="#2c7bb6" stroke-width="1"/>
<line x1="89.0" y1="496.3" x2="106.5" y2="489.6" stroke="#2c7bb6" stroke-width="1"/>
<line x1="89.0" y1="496.3" x2="103.0" y2="487.5" stroke="#2c7bb6" stroke-width="1"/>
<line x1="89.0" y1="496.3" x2="85.0" y2="501.3" stroke="#2c7bb6" stroke-width="1"/>
<line x1="89.0" y1="496.3" x2="58.2" y2="513.1" stroke="#2c7bb6" stroke-width="1"/>
<line x1="89.0" y1="496.3" x2="87.0" y2="488.5" stroke="#2c7bb6" stroke-width="1"/>
<line x1="89.0" y1="496.3" x2="92.3" y2="490.4" stroke="#2c7bb6" stroke-width="1"/>
<line x1="89.0" y1="496.3" x2="61.7" y2="509.9" stroke="#2c7bb6" stroke-width="1"/>
<line x1="89.0" y1="496.3" x2="76.8" y2="499.3" stroke="#2c7bb6" stroke-width="1"/>
<line x1="89.0" y1="496.3" x2="91.2" y2="504.1" stroke="#2c7bb6" stroke-width="1"/>
<line x1="89.0" y1="496.3" x2="68.6" y2="479.0" stroke="#2c7bb6" stroke-width="1"/>
<line x1="89.0" y1="496.3" x2="68.1" y2="487.6" stroke="#2c7bb6" stroke-width="1"/>
<line x1="89.0" y1="496.3" x2="50.4" y2="500.5" stroke="#2c7bb6" stroke-width="1"/>
<line x1="89.0" y1="496.3" x2="56.1" y2="520.7" stroke="#2c7bb6" stroke-width="1"/>
<line x1="89.0" y1="496.3" x2="70.2" y2="524.6" stroke="#2c7bb6" stroke-width="1"/>
<line x1="89.0" y1="496.3" x2="82.1" y2="523.4" stroke="#2c7bb6" stroke-width="1"/>
<line x1="89.0" y1="496.3" x2="79.3" y2="517.0" stroke="#2c7bb6" stroke-width="1"/>
<line x1="89.0" y1="496.3" x2="86.6" y2="517.0" stroke="#2c7bb6" stroke-width="1"/>
<line x1="89.0" y1="496.3" x2="123.5" y2="482.5" stroke="#2c7bb6" stroke-width="1"/>
<circle cx="107.4" cy="496.6" r="1.7" fill="#2c7bb6"/>
<circle cx="87.4" cy="491.7" r="1.7" fill="#2c7bb6"/>
<circle cx="77.3" cy="503.0" r="1.7" fill="#2c7bb6"/>
<circle cx="73.5" cy="494.5" r="1.7" fill="#2c7bb6"/>
<circle cx="91.6" cy="495.8" r="1.7" fill="#2c7bb6"/>
<circle cx="92.1" cy="488.0" r="1.7" fill="#2c7bb6"/>
<circle cx="88.9" cy="495.9" r="1.7" fill="#2c7bb6"/>
<circle cx="74.3" cy="508.3" r="1.7" fill="#2c7bb6"/>
<circle cx="99.8" cy="507.5" r="1.7" fill="#2c7bb6"/>
<circle cx="90.8" cy="494.3" r="1.7" fill="#2c7bb6"/>
<circle cx="102.9" cy="490.0" r="1.7" fill="#2c7bb6"/>
<circle cx="97.7" cy="488.8" r="1.7" fill="#2c7bb6"/>
<circle cx="94.5" cy="500.6" r="1.7" fill="#2c7bb6"/>
<circle cx="96.9" cy="492.8" r="1.7" fill="#2c7bb6"/>
<circle cx="78.6" cy="505.2" r="1.7" fill="#2c7bb6"/>
<circle cx="92.0" cy="499.8" r="1.7" fill="#2c7bb6"/>
<circle cx="94.7" cy="501.0" r="1.7" fill="#2c7bb6"/>
<circle cx="89.1" cy="497.7" r="1.7" fill="#2c7bb6"/>
<circle cx="92.9" cy="486.3" r="1.7" fill="#2c7bb6"/>
<circle cx="83.1" cy="496.0" r="1.7" fill="#2c7bb6"/>
<circle cx="110.2" cy="483.9" r="1.7" fill="#2c7bb6"/>
<circle cx="98.0" cy="495.8" r="1.7" fill="#2c7bb6"/>
<circle cx="81.2" cy="489.4" r="1.7" fill="#2c7bb6"/>
<circle cx="98.2" cy="488.3" r="1.7" fill="#2c7bb6"/>
<circle cx="92.8" cy="484.8" r="1.7" fill="#2c7bb6"/>
<circle cx="88.1" cy="505.9" r="1.7" fill="#2c7bb6"/>
<circle cx="100.5" cy="480.5" r="1.7" fill="#2c7bb6"/>
<circle cx="74.4" cy="504.1" r="1.7" fill="#2c7bb6"/>
<circle cx="97.4" cy="492.8" r="1.7" fill="#2c7bb6"/>
<circle cx="89.3" cy="489.0" r="1.7" fill="#2c7bb6"/>
<circle cx="98.8" cy="498.9" r="1.7" fill="#2c7bb6"/>
<circle cx="79.9" cy="491.0" r="1.7" fill="#2c7bb6"/>
<circle cx="83.1" cy="505.0" r="1.7" fill="#2c7bb6"/>
<circle cx="70.0" cy="506.2" r="1.7" fill="#2c7bb6"/>
<circle cx="77.9" cy="501.5" r="1.7" fill="#2c7bb6"/>
<circle cx="86.4" cy="497.9" r="1.7" fill="#2c7bb6"/>
<circle cx="106.5" cy="489.6" r="1.7" fill="#2c7bb6"/>
<circle cx="103.0" cy="487.5" r="1.7" fill="#2c7bb6"/>
<circle cx="85.0" cy="501.3" r="1.7" fill="#2c7bb6"/>
<circle cx="58.2" cy="513.1" r="1.7" fill="#2c7bb6"/>
<circle cx="87.0" cy="488.5" r="1.7" fill="#2c7bb6"/>
<circle cx="92.3" cy="490.4" r="1.7" fill="#2c7bb6"/>
<circle cx="61.7" cy="509.9" r="1.7" fill="#2c7bb6"/>
<circle cx="76.8" cy="499.3" r="1.7" fill="#2c7bb6"/>
<circle cx="91.2" cy="504.1" r="1.7" fill="#2c7bb6"/>
<circle cx="68.6" cy="479.0" r="1.7" fill="#2c7bb6"/>
<circle cx="68.1" cy="487.6" r="1.7" fill="#2c7bb6"/>
<circle cx="50.4" cy="500.5" r="1.7" fill="#2c7bb6"/>
<circle cx="56.1" cy="520.7" r="1.7" fill="#2c7bb6"/>
<circle cx="70.2" cy="524.6" r="1.7" fill="#2c7bb6"/>
<circle cx="82.1" cy="523.4" r="1.7" fill="#2c7bb6"/>
<circle cx="79.3" cy="517.0" r="1.7" fill="#2c7bb6"/>
<circle cx="86.6" cy="517.0" r="1.7" fill="#2c7bb6"/>
<circle cx="123.5" cy="482.5" r="1.7" fill="#2c7bb6"/>
<ellipse cx="113.0" cy="508.0" rx="24.0" ry="19.5" transform="rotate(-20 113.0 508.0)" fill="#fdae61" fill-opacity="0.3" stroke="#fdae61" stroke-width="1"/>
<line x1="113.0" y1="508.0" x2="134.7" y2="493.9" stroke="#fdae61" stroke-width="1"/>
<line x1="113.0" y1="508.0" x2="117.4" y2="507.7" stroke="#fdae61" stroke-width="1"/>
<line x1="113.0" y1="508.0" x2="117.3" y2="493.4" stroke="#fdae61" stroke-width="1"/>
<line x1="113.0" y1="508.0" x2="106.5" y2="503.3" stroke="#fdae61" stroke-width="1"/>
<line x1="113.0" y1="508.0" x2="99.6" y2="505.0" stroke="#fdae61" stroke-width="1"/>
<line x1="113.0" y1="508.0" x2="106.9" y2="507.5" stroke="#fdae61" stroke-width="1"/>
<line x1="113.0" y1="508.0" x2="105.1" y2="514.8" stroke="#fdae61" stroke-width="1"/>
<line x1="113.0" y1="508.0" x2="97.8" y2="483.7" stroke="#fdae61" stroke-width="1"/>
<line x1="113.0" y1="508.0" x2="123.9" y2="500.4" stroke="#fdae61" stroke-width="1"/>
<line x1="113.0" y1="508.0" x2="106.3" y2="513.0" stroke="#fdae61" stroke-width="1"/>
<line x1="113.0" y1="508.0" x2="115.5" y2="507.6" stroke="#fdae61" stroke-width="1"/>
<line x1="113.0" y1="508.0" x2="104.9" y2="512.7" stroke="#fdae61" stroke-width="1"/>
<line x1="113.0" y1="508.0" x2="101.7" y2="525.6" stroke="#fdae61" stroke-width="1"/>
<line x1="113.0" y1="508.0" x2="99.5" y2="511.0" stroke="#fdae61" stroke-width="1"/>
<line x1="113.0" y1="508.0" x2="113.9" y2="509.7" stroke="#fdae61" stroke-width="1"/>
<line x1="113.0" y1="508.0" x2="111.9" y2="512.9" stroke="#fdae61" stroke-width="1"/>
<line x1="113.0" y1="508.0" x2="75.4" y2="519.5" stroke="#fdae61" stroke-width="1"/>
<line x1="113.0" y1="508.0" x2="108.4" y2="504.4" stroke="#fdae61" stroke-width="1"/>
<line x1="113.0" y1="508.0" x2="123.9" y2="493.7" stroke="#fdae61" stroke-width="1"/>
<line x1="113.0" y1="508.0" x2="104.3" y2="490.9" stroke="#fdae61" stroke-width="1"/>
<line x1="113.0" y1="508.0" x2="109.2" y2="493.0" stroke="#fdae61" stroke-width="1"/>
<line x1="113.0" y1="508.0" x2="102.4" y2="532.8" stroke="#fdae61" stroke-width="1"/>
<line x1="113.0" y1="508.0" x2="118.4" y2="504.7" stroke="#fdae61" stroke-width="1"/>
<line x1="113.0" y1="508.0" x2="108.6" y2="494.8" stroke="#fdae61" stroke-width="1"/>
<line x1="113.0" y1="508.0" x2="101.8" y2="514.8" stroke="#fdae61" stroke-width="1"/>
<line x1="113.0" y1="508.0" x2="90.4" y2="517.6" stroke="#fdae61" stroke-width="1"/>
<line x1="113.0" y1="508.0" x2="93.8" y2="514.9" stroke="#fdae61" stroke-width="1"/>
<line x1="113.0" y1="508.0" x2="105.2" y2="526.2" stroke="#fdae61" stroke-width="1"/>
<line x1="113.0" y1="508.0" x2="120.1" y2="499.3" stroke="#fdae61" stroke-width="1"/>
<line x1="113.0" y1="508.0" x2="89.4" y2="507.9" stroke="#fdae61" stroke-width="1"/>
<line x1="113.0" y1="508.0" x2="107.7" y2="499.3" stroke="#fdae61" stroke-width="1"/>
<line x1="113.0" y1="508.0" x2="117.2" y2="514.6" stroke="#fdae61" stroke-width="1"/>
<line x1="113.0" y1="508.0" x2="109.4" y2="504.0" stroke="#fdae61" stroke-width="1"/>
<line x1="113.0" y1="508.0" x2="118.4" y2="502.0" stroke="#fdae61" stroke-width="1"/>
<line x1="113.0" y1="508.0" x2="119.1" y2="501.5" stroke="#fdae61" stroke-width="1"/>
<line x1="113.0" y1="508.0" x2="127.1" y2="499.0" stroke="#fdae61" stroke-width="1"/>
<line x1="113.0" y1="508.0" x2="100.7" y2="512.2" stroke="#fdae61" stroke-width="1"/>
<line x1="113.0" y1="508.0" x2="101.9" y2="501.9" stroke="#fdae61" stroke-width="1"/>
<line x1="113.0" y1="508.0" x2="112.3" y2="514.2" stroke="#fdae61" stroke-width="1"/>
<line x1="113.0" y1="508.0" x2="88.9" y2="515.2" stroke="#fdae61" stroke-width="1"/>
<line x1="113.0" y1="508.0" x2="109.3" y2="506.8" stroke="#fdae61" stroke-width="1"/>
<line x1="113.0" y1="508.0" x2="115.6" y2="493.5" stroke="#fdae61" stroke-width="1"/>
<line x1="113.0" y1="508.0" x2="117.5" y2="503.0" stroke="#fdae61" stroke-width="1"/>
<line x1="113.0" y1="508.0" x2="111.8" y2="505.2" stroke="#fdae61" stroke-width="1"/>
<line x1="113.0" y1="508.0" x2="106.4" y2="504.3" stroke="#fdae61" stroke-width="1"/>
<line x1="113.0" y1="508.0" x2="122.1" y2="523.5" stroke="#fdae61" stroke-width="1"/>
<line x1="113.0" y1="508.0" x2="124.9" y2="510.7" stroke="#fdae61" stroke-width="1"/>
<line x1="113.0" y1="508.0" x2="115.8" y2="501.4" stroke="#fdae61" stroke-width="1"/>
<line x1="113.0" y1="508.0" x2="124.1" y2="522.6" stroke="#fdae61" stroke-width="1"/>
<line x1="113.0" y1="508.0" x2="101.0" y2="519.3" stroke="#fdae61" stroke-width="1"/>
<line x1="113.0" y1="508.0" x2="123.0" y2="506.1" stroke="#fdae61" stroke-width="1"/>
<line x1="113.0" y1="508.0" x2="124.1" y2="516.3" stroke="#fdae61" stroke-width="1"/>
<line x1="113.0" y1="508.0" x2="138.6" y2="510.2" stroke="#fdae61" stroke-width="1"/>
<line x1="113.0" y1="508.0" x2="130.0" y2="504.2" stroke="#fdae61" stroke-width="1"/>
<line x1="113.0" y1="508.0" x2="121.0" y2="506.0" stroke="#fdae61" stroke-width="1"/>
<line x1="113.0" y1="508.0" x2="113.7" y2="502.7" stroke="#fdae61" stroke-width="1"/>
<line x1="113.0" y1="508.0" x2="123.5" y2="517.3" stroke="#fdae61" stroke-width="1"/>
<line x1="113.0" y1="508.0" x2="111.3" y2="510.4" stroke="#fdae61" stroke-width="1"/>
<line x1="113.0" y1="508.0" x2="118.7" y2="505.6" stroke="#fdae61" stroke-width="1"/>
<line x1="113.0" y1="508.0" x2="122.7" y2="506.4" stroke="#fdae61" stroke-width="1"/>
<line x1="113.0" y1="508.0" x2="97.2" y2="503.6" stroke="#fdae61" stroke-width="1"/>
<line x1="113.0" y1="508.0" x2="121.8" y2="510.3" stroke="#fdae61" stroke-width="1"/>
<line x1="113.0" y1="508.0" x2="124.5" y2="505.8" stroke="#fdae61" stroke-width="1"/>
<line x1="113.0" y1="508.0" x2="109.8" y2="493.9" stroke="#fdae61" stroke-width="1"/>
<line x1="113.0" y1="508.0" x2="124.0" y2="494.9" stroke="#fdae61" stroke-width="1"/>
<line x1="113.0" y1="508.0" x2="119.7" y2="494.4" stroke="#fdae61" stroke-width="1"/>
<line x1="113.0" y1="508.0" x2="106.2" y2="511.6" stroke="#fdae61" stroke-width="1"/>
<line x1="113.0" y1="508.0" x2="106.1" y2="503.6" stroke="#fdae61" stroke-width="1"/>
<line x1="113.0" y1="508.0" x2="123.8" y2="510.1" stroke="#fdae61" stroke-width="1"/>
<line x1="113.0" y1="508.0" x2="115.6" y2="503.6" stroke="#fdae61" stroke-width="1"/>
<line x1="113.0" y1="508.0" x2="102.7" y2="507.0" stroke="#fdae61" stroke-width="1"/>
<line x1="113.0" y1="508.0" x2="107.2" y2="509.6" stroke="#fdae61" stroke-width="1"/>
<line x1="113.0" y1="508.0" x2="120.0" y2="503.6" stroke="#fdae61" stroke-width="1"/>
<line x1="113.0" y1="508.0" x2="102.7" y2="505.7" stroke="#fdae61" stroke-width="1"/>
<line x1="113.0" y1="508.0" x2="126.3" y2="504.5" stroke="#fdae61" stroke-width="1"/>
<line x1="113.0" y1="508.0" x2="116.0" y2="509.4" stroke="#fdae61" stroke-width="1"/>
<line x1="113.0" y1="508.0" x2="119.3" y2="506.9" stroke="#fdae61" stroke-width="1"/>
<line x1="113.0" y1="508.0" x2="127.3" y2="510.3" stroke="#fdae61" stroke-width="1"/>
<line x1="113.0" y1="508.0" x2="83.5" y2="517.3" stroke="#fdae61" stroke-width="1"/>
<line x1="113.0" y1="508.0" x2="139.1" y2="486.4" stroke="#fdae61" stroke-width="1"/>
<line x1="113.0" y1="508.0" x2="117.4" y2="516.4" stroke="#fdae61" stroke-width="1"/>
<line x1="113.0" y1="508.0" x2="116.9" y2="519.1" stroke="#fdae61" stroke-width="1"/>
<line x1="113.0" y1="508.0" x2="96.3" y2="502.3" stroke="#fdae61" stroke-width="1"/>
<line x1="113.0" y1="508.0" x2="108.8" y2="502.6" stroke="#fdae61" stroke-width="1"/>
<line x1="113.0" y1="508.0" x2="103.7" y2="516.7" stroke="#fdae61" stroke-width="1"/>
<line x1="113.0" y1="508.0" x2="115.8" y2="507.1" stroke="#fdae61" stroke-width="1"/>
<line x1="113.0" y1="508.0" x2="109.7" y2="511.7" stroke="#fdae61" stroke-width="1"/>
<line x1="113.0" y1="508.0" x2="109.6" y2="502.4" stroke="#fdae61" stroke-width="1"/>
<line x1="113.0" y1="508.0" x2="119.3" y2="509.2" stroke="#fdae61" stroke-width="1"/>
<line x1="113.0" y1="508.0" x2="115.9" y2="513.4" stroke="#fdae61" stroke-width="1"/>
<line x1="113.0" y1="508.0" x2="124.3" y2="475.3" stroke="#fdae61" stroke-width="1"/>
<line x1="113.0" y1="508.0" x2="114.2" y2="480.6" stroke="#fdae61" stroke-width="1"/>
<line x1="113.0" y1="508.0" x2="52.0" y2="506.9" stroke="#fdae61" stroke-width="1"/>
<line x1="113.0" y1="508.0" x2="82.6" y2="542.7" stroke="#fdae61" stroke-width="1"/>
<line x1="113.0" y1="508.0" x2="93.8" y2="538.7" stroke="#fdae61" stroke-width="1"/>
<line x1="113.0" y1="508.0" x2="96.2" y2="540.0" stroke="#fdae61" stroke-width="1"/>
<line x1="113.0" y1="508.0" x2="132.3" y2="522.6" stroke="#fdae61" stroke-width="1"/>
<line x1="113.0" y1="508.0" x2="117.1" y2="529.0" stroke="#fdae61" stroke-width="1"/>
<line x1="113.0" y1="508.0" x2="136.4" y2="493.0" stroke="#fdae61" stroke-width="1"/>
<line x1="113.0" y1="508.0" x2="140.0" y2="497.0" stroke="#fdae61" stroke-width="1"/>
<line x1="113.0" y1="508.0" x2="142.8" y2="505.0" stroke="#fdae61" stroke-width="1"/>
<line x1="113.0" y1="508.0" x2="139.0" y2="510.0" stroke="#fdae61" stroke-width="1"/>
<line x1="113.0" y1="508.0" x2="135.0" y2="500.0" stroke="#fdae61" stroke-width="1"/>
<circle cx="134.7" cy="493.9" r="1.7" fill="#fdae61"/>
<circle cx="117.4" cy="507.7" r="1.7" fill="#fdae61"/>
<circle cx="117.3" cy="493.4" r="1.7" fill="#fdae61"/>
<circle cx="106.5" cy="503.3" r="1.7" fill="#fdae61"/>
<circle cx="99.6" cy="505.0" r="1.7" fill="#fdae61"/>
<circle cx="106.9" cy="507.5" r="1.7" fill="#fdae61"/>
<circle cx="105.1" cy="514.8" r="1.7" fill="#fdae61"/>
<circle cx="97.8" cy="483.7" r="1.7" fill="#fdae61"/>
<circle cx="123.9" cy="500.4" r="1.7" fill="#fdae61"/>
<circle cx="106.3" cy="513.0" r="1.7" fill="#fdae61"/>
<circle cx="115.5" cy="507.6" r="1.7" fill="#fdae61"/>
<circle cx="104.9" cy="512.7" r="1.7" fill="#fdae61"/>
<circle cx="101.7" cy="525.6" r="1.7" fill="#fdae61"/>
<circle cx="99.5" cy="511.0" r="1.7" fill="#fdae61"/>
<circle cx="113.9" cy="509.7" r="1.7" fill="#fdae61"/>
<circle cx="111.9" cy="512.9" r="1.7" fill="#fdae61"/>
<circle cx="75.4" cy="519.5" r="1.7" fill="#fdae61"/>
<circle cx="108.4" cy="504.4" r="1.7" fill="#fdae61"/>
<circle cx="123.9" cy="493.7" r="1.7" fill="#fdae61"/>
<circle cx="104.3" cy="490.9" r="1.7" fill="#fdae61"/>
<circle cx="109.2" cy="493.0" r="1.7" fill="#fdae61"/>
<circle cx="102.4" cy="532.8" r="1.7" fill="#fdae61"/>
<circle cx="118.4" cy="504.7" r="1.7" fill="#fdae61"/>
<circle cx="108.6" cy="494.8" r="1.7" fill="#fdae61"/>
<circle cx="101.8" cy="514.8" r="1.7" fill="#fdae61"/>
<circle cx="90.4" cy="517.6" r="1.7" fill="#fdae61"/>
<circle cx="93.8" cy="514.9" r="1.7" fill="#fdae61"/>
<circle cx="105.2" cy="526.2" r="1.7" fill="#fdae61"/>
<circle cx="120.1" cy="499.3" r="1.7" fill="#fdae61"/>
<circle cx="89.4" cy="507.9" r="1.7" fill="#fdae61"/>
<circle cx="107.7" cy="499.3" r="1.7" fill="#fdae61"/>
<circle cx="117.2" cy="514.6" r="1.7" fill="#fdae61"/>
<circle cx="109.4" cy="504.0" r="1.7" fill="#fdae61"/>
<circle cx="118.4" cy="502.0" r="1.7" fill="#fdae61"/>
<circle cx="119.1" cy="501.5" r="1.7" fill="#fdae61"/>
<circle cx="127.1" cy="499.0" r="1.7" fill="#fdae61"/>
<circle cx="100.7" cy="512.2" r="1.7" fill="#fdae61"/>
<circle cx="101.9" cy="501.9" r="1.7" fill="#fdae61"/>
<circle cx="112.3" cy="514.2" r="1.7" fill="#fdae61"/>
<circle cx="88.9" cy="515.2" r="1.7" fill="#fdae61"/>
<circle cx="109.3" cy="506.8" r="1.7" fill="#fdae61"/>
<circle cx="115.6" cy="493.5" r="1.7" fill="#fdae61"/>
<circle cx="117.5" cy="503.0" r="1.7" fill="#fdae61"/>
<circle cx="111.8" cy="505.2" r="1.7" fill="#fdae61"/>
<circle cx="106.4" cy="504.3" r="1.7" fill="#fdae61"/>
<circle cx="122.1" cy="523.5" r="1.7" fill="#fdae61"/>
<circle cx="124.9" cy="510.7" r="1.7" fill="#fdae61"/>
<circle cx="115.8" cy="501.4" r="1.7" fill="#fdae61"/>
<circle cx="124.1" cy="522.6" r="1.7" fill="#fdae61"/>
<circle cx="101.0" cy="519.3" r="1.7" fill="#fdae61"/>
<circle cx="123.0" cy="506.1" r="1.7" fill="#fdae61"/>
<circle cx="124.1" cy="516.3" r="1.7" fill="#fdae61"/>
<circle cx="138.6" cy="510.2" r="1.7" fill="#fdae61"/>
<circle cx="130.0" cy="504.2" r="1.7" fill="#fdae61"/>
<circle cx="121.0" cy="506.0" r="1.7" fill="#fdae61"/>
<circle cx="113.7" cy="502.7" r="1.7" fill="#fdae61"/>
<circle cx="123.5" cy="517.3" r="1.7" fill="#fdae61"/>
<circle cx="111.3" cy="510.4" r="1.7" fill="#fdae61"/>
<circle cx="118.7" cy="505.6" r="1.7" fill="#fdae61"/>
<circle cx="122.7" cy="506.4" r="1.7" fill="#fdae61"/>
<circle cx="97.2" cy="503.6" r="1.7" fill="#fdae61"/>
<circle cx="121.8" cy="510.3" r="1.7" fill="#fdae61"/>
<circle cx="124.5" cy="505.8" r="1.7" fill="#fdae61"/>
<circle cx="109.8" cy="493.9" r="1.7" fill="#fdae61"/>
<circle cx="124.0" cy="494.9" r="1.7" fill="#fdae61"/>
<circle cx="119.7" cy="494.4" r="1.7" fill="#fdae61"/>
<circle cx="106.2" cy="511.6" r="1.7" fill="#fdae61"/>
<circle cx="106.1" cy="503.6" r="1.7" fill="#fdae61"/>
<circle cx="123.8" cy="510.1" r="1.7" fill="#fdae61"/>
<circle cx="115.6" cy="503.6" r="1.7" fill="#fdae61"/>
<circle cx="102.7" cy="507.0" r="1.7" fill="#fdae61"/>
<circle cx="107.2" cy="509.6" r="1.7" fill="#fdae61"/>
<circle cx="120.0" cy="503.6" r="1.7" fill="#fdae61"/>
<circle cx="102.7" cy="505.7" r="1.7" fill="#fdae61"/>
<circle cx="126.3" cy="504.5" r="1.7" fill="#fdae61"/>
<circle cx="116.0" cy="509.4" r="1.7" fill="#fdae61"/>
<circle cx="119.3" cy="506.9" r="1.7" fill="#fdae61"/>
<circle cx="127.3" cy="510.3" r="1.7" fill="#fdae61"/>
<circle cx="83.5" cy="517.3" r="1.7" fill="#fdae61"/>
<circle cx="139.1" cy="486.4" r="1.7" fill="#fdae61"/>
<circle cx="117.4" cy="516.4" r="1.7" fill="#fdae61"/>
<circle cx="116.9" cy="519.1" r="1.7" fill="#fdae61"/>
<circle cx="96.3" cy="502.3" r="1.7" fill="#fdae61"/>
<circle cx="108.8" cy="502.6" r="1.7" fill="#fdae61"/>
<circle cx="103.7" cy="516.7" r="1.7" fill="#fdae61"/>
<circle cx="115.8" cy="507.1" r="1.7" fill="#fdae61"/>
<circle cx="109.7" cy="511.7" r="1.7" fill="#fdae61"/>
<circle cx="109.6" cy="502.4" r="1.7" fill="#fdae61"/>
<circle cx="119.3" cy="509.2" r="1.7" fill="#fdae61"/>
<circle cx="115.9" cy="513.4" r="1.7" fill="#fdae61"/>
<circle cx="124.3" cy="475.3" r="1.7" fill="#fdae61"/>
<circle cx="114.2" cy="480.6" r="1.7" fill="#fdae61"/>
<circle cx="52.0" cy="506.9" r="1.7" fill="#fdae61"/>
<circle cx="82.6" cy="542.7" r="1.7" fill="#fdae61"/>
<circle cx="93.8" cy="538.7" r="1.7" fill="#fdae61"/>
<circle cx="96.2" cy="540.0" r="1.7" fill="#fdae61"/>
<circle cx="132.3" cy="522.6" r="1.7" fill="#fdae61"/>
<circle cx="117.1" cy="529.0" r="1.7" fill="#fdae61"/>
<circle cx="136.4" cy="493.0" r="1.7" fill="#fdae61"/>
<circle cx="140.0" cy="497.0" r="1.7" fill="#fdae61"/>
<circle cx="142.8" cy="505.0" r="1.7" fill="#fdae61"/>
<circle cx="139.0" cy="510.0" r="1.7" fill="#fdae61"/>
<circle cx="135.0" cy="500.0" r="1.7" fill="#fdae61"/>
<ellipse cx="258.0" cy="501.0" rx="20.0" ry="17.0" transform="rotate(-10 258.0 501.0)" fill="#9ecae1" fill-opacity="0.25" stroke="#9ecae1" stroke-width="1"/>
<line x1="258.0" y1="501.0" x2="260.5" y2="510.3" stroke="#9ecae1" stroke-width="1"/>
<line x1="258.0" y1="501.0" x2="251.1" y2="509.9" stroke="#9ecae1" stroke-width="1"/>
<line x1="258.0" y1="501.0" x2="255.4" y2="499.4" stroke="#9ecae1" stroke-width="1"/>
<line x1="258.0" y1="501.0" x2="275.0" y2="499.2" stroke="#9ecae1" stroke-width="1"/>
<line x1="258.0" y1="501.0" x2="258.6" y2="506.6" stroke="#9ecae1" stroke-width="1"/>
<line x1="258.0" y1="501.0" x2="267.9" y2="499.0" stroke="#9ecae1" stroke-width="1"/>
<line x1="258.0" y1="501.0" x2="261.9" y2="492.7" stroke="#9ecae1" stroke-width="1"/>
<line x1="258.0" y1="501.0" x2="254.2" y2="498.3" stroke="#9ecae1" stroke-width="1"/>
<line x1="258.0" y1="501.0" x2="244.2" y2="491.7" stroke="#9ecae1" stroke-width="1"/>
<line x1="258.0" y1="501.0" x2="243.3" y2="501.7" stroke="#9ecae1" stroke-width="1"/>
<line x1="258.0" y1="501.0" x2="256.0" y2="498.9" stroke="#9ecae1" stroke-width="1"/>
<line x1="258.0" y1="501.0" x2="256.8" y2="490.8" stroke="#9ecae1" stroke-width="1"/>
<line x1="258.0" y1="501.0" x2="257.6" y2="502.9" stroke="#9ecae1" stroke-width="1"/>
<line x1="258.0" y1="501.0" x2="263.5" y2="493.5" stroke="#9ecae1" stroke-width="1"/>
<line x1="258.0" y1="501.0" x2="251.8" y2="486.4" stroke="#9ecae1" stroke-width="1"/>
<line x1="258.0" y1="501.0" x2="250.6" y2="485.2" stroke="#9ecae1" stroke-width="1"/>
<line x1="258.0" y1="501.0" x2="246.9" y2="511.5" stroke="#9ecae1" stroke-width="1"/>
<line x1="258.0" y1="501.0" x2="239.5" y2="510.5" stroke="#9ecae1" stroke-width="1"/>
<line x1="258.0" y1="501.0" x2="260.5" y2="498.1" stroke="#9ecae1" stroke-width="1"/>
<line x1="258.0" y1="501.0" x2="262.8" y2="504.3" stroke="#9ecae1" stroke-width="1"/>
<line x1="258.0" y1="501.0" x2="267.0" y2="497.6" stroke="#9ecae1" stroke-width="1"/>
<line x1="258.0" y1="501.0" x2="251.9" y2="497.4" stroke="#9ecae1" stroke-width="1"/>
<line x1="258.0" y1="501.0" x2="249.2" y2="502.2" stroke="#9ecae1" stroke-width="1"/>
<line x1="258.0" y1="501.0" x2="252.5" y2="510.3" stroke="#9ecae1" stroke-width="1"/>
<line x1="258.0" y1="501.0" x2="240.0" y2="495.7" stroke="#9ecae1" stroke-width="1"/>
<line x1="258.0" y1="501.0" x2="246.8" y2="486.7" stroke="#9ecae1" stroke-width="1"/>
<line x1="258.0" y1="501.0" x2="271.7" y2="479.9" stroke="#9ecae1" stroke-width="1"/>
<line x1="258.0" y1="501.0" x2="254.8" y2="497.5" stroke="#9ecae1" stroke-width="1"/>
<line x1="258.0" y1="501.0" x2="270.0" y2="483.5" stroke="#9ecae1" stroke-width="1"/>
<line x1="258.0" y1="501.0" x2="266.5" y2="493.8" stroke="#9ecae1" stroke-width="1"/>
<line x1="258.0" y1="501.0" x2="255.7" y2="496.2" stroke="#9ecae1" stroke-width="1"/>
<line x1="258.0" y1="501.0" x2="262.2" y2="491.4" stroke="#9ecae1" stroke-width="1"/>
<line x1="258.0" y1="501.0" x2="257.8" y2="503.8" stroke="#9ecae1" stroke-width="1"/>
<line x1="258.0" y1="501.0" x2="271.1" y2="480.0" stroke="#9ecae1" stroke-width="1"/>
<line x1="258.0" y1="501.0" x2="272.8" y2="505.8" stroke="#9ecae1" stroke-width="1"/>
<line x1="258.0" y1="501.0" x2="254.1" y2="504.1" stroke="#9ecae1" stroke-width="1"/>
<line x1="258.0" y1="501.0" x2="256.1" y2="514.1" stroke="#9ecae1" stroke-width="1"/>
<line x1="258.0" y1="501.0" x2="259.6" y2="499.0" stroke="#9ecae1" stroke-width="1"/>
<line x1="258.0" y1="501.0" x2="255.7" y2="499.9" stroke="#9ecae1" stroke-width="1"/>
<line x1="258.0" y1="501.0" x2="255.3" y2="494.7" stroke="#9ecae1" stroke-width="1"/>
<line x1="258.0" y1="501.0" x2="273.7" y2="483.4" stroke="#9ecae1" stroke-width="1"/>
<line x1="258.0" y1="501.0" x2="225.9" y2="505.7" stroke="#9ecae1" stroke-width="1"/>
<line x1="258.0" y1="501.0" x2="257.2" y2="504.0" stroke="#9ecae1" stroke-width="1"/>
<line x1="258.0" y1="501.0" x2="256.0" y2="500.2" stroke="#9ecae1" stroke-width="1"/>
<line x1="258.0" y1="501.0" x2="262.2" y2="507.8" stroke="#9ecae1" stroke-width="1"/>
<line x1="258.0" y1="501.0" x2="253.5" y2="498.9" stroke="#9ecae1" stroke-width="1"/>
<line x1="258.0" y1="501.0" x2="275.9" y2="502.0" stroke="#9ecae1" stroke-width="1"/>
<line x1="258.0" y1="501.0" x2="252.4" y2="520.0" stroke="#9ecae1" stroke-width="1"/>
<line x1="258.0" y1="501.0" x2="264.1" y2="495.3" stroke="#9ecae1" stroke-width="1"/>
<line x1="258.0" y1="501.0" x2="248.0" y2="505.1" stroke="#9ecae1" stroke-width="1"/>
<line x1="258.0" y1="501.0" x2="249.2" y2="494.3" stroke="#9ecae1" stroke-width="1"/>
<line x1="258.0" y1="501.0" x2="245.8" y2="499.2" stroke="#9ecae1" stroke-width="1"/>
<line x1="258.0" y1="501.0" x2="267.2" y2="496.0" stroke="#9ecae1" stroke-width="1"/>
<line x1="258.0" y1="501.0" x2="246.0" y2="508.3" stroke="#9ecae1" stroke-width="1"/>
<line x1="258.0" y1="501.0" x2="259.7" y2="507.3" stroke="#9ecae1" stroke-width="1"/>
<line x1="258.0" y1="501.0" x2="268.4" y2="497.9" stroke="#9ecae1" stroke-width="1"/>
<line x1="258.0" y1="501.0" x2="256.7" y2="500.9" stroke="#9ecae1" stroke-width="1"/>
<line x1="258.0" y1="501.0" x2="248.8" y2="507.8" stroke="#9ecae1" stroke-width="1"/>
<line x1="258.0" y1="501.0" x2="270.4" y2="500.2" stroke="#9ecae1" stroke-width="1"/>
<line x1="258.0" y1="501.0" x2="255.6" y2="499.4" stroke="#9ecae1" stroke-width="1"/>
<line x1="258.0" y1="501.0" x2="250.0" y2="496.2" stroke="#9ecae1" stroke-width="1"/>
<line x1="258.0" y1="501.0" x2="253.3" y2="495.3" stroke="#9ecae1" stroke-width="1"/>
<line x1="258.0" y1="501.0" x2="252.0" y2="489.8" stroke="#9ecae1" stroke-width="1"/>
<line x1="258.0" y1="501.0" x2="261.2" y2="500.8" stroke="#9ecae1" stroke-width="1"/>
<line x1="258.0" y1="501.0" x2="244.7" y2="485.5" stroke="#9ecae1" stroke-width="1"/>
<line x1="258.0" y1="501.0" x2="259.4" y2="509.3" stroke="#9ecae1" stroke-width="1"/>
<line x1="258.0" y1="501.0" x2="250.9" y2="498.5" stroke="#9ecae1" stroke-width="1"/>
<line x1="258.0" y1="501.0" x2="253.8" y2="506.8" stroke="#9ecae1" stroke-width="1"/>
<line x1="258.0" y1="501.0" x2="251.2" y2="509.9" stroke="#9ecae1" stroke-width="1"/>
<line x1="258.0" y1="501.0" x2="256.5" y2="508.4" stroke="#9ecae1" stroke-width="1"/>
<line x1="258.0" y1="501.0" x2="258.0" y2="499.2" stroke="#9ecae1" stroke-width="1"/>
<line x1="258.0" y1="501.0" x2="244.0" y2="498.1" stroke="#9ecae1" stroke-width="1"/>
<line x1="258.0" y1="501.0" x2="256.6" y2="506.4" stroke="#9ecae1" stroke-width="1"/>
<line x1="258.0" y1="501.0" x2="259.2" y2="495.4" stroke="#9ecae1" stroke-width="1"/>
<line x1="258.0" y1="501.0" x2="262.9" y2="507.8" stroke="#9ecae1" stroke-width="1"/>
<line x1="258.0" y1="501.0" x2="256.1" y2="497.9" stroke="#9ecae1" stroke-width="1"/>
<line x1="258.0" y1="501.0" x2="255.6" y2="507.7" stroke="#9ecae1" stroke-width="1"/>
<line x1="258.0" y1="501.0" x2="261.5" y2="493.2" stroke="#9ecae1" stroke-width="1"/>
<line x1="258.0" y1="501.0" x2="260.7" y2="496.8" stroke="#9ecae1" stroke-width="1"/>
<line x1="258.0" y1="501.0" x2="253.0" y2="511.5" stroke="#9ecae1" stroke-width="1"/>
<line x1="258.0" y1="501.0" x2="219.5" y2="490.4" stroke="#9ecae1" stroke-width="1"/>
<line x1="258.0" y1="501.0" x2="238.5" y2="505.0" stroke="#9ecae1" stroke-width="1"/>
<line x1="258.0" y1="501.0" x2="240.0" y2="515.0" stroke="#9ecae1" stroke-width="1"/>
<line x1="258.0" y1="501.0" x2="248.0" y2="522.0" stroke="#9ecae1" stroke-width="1"/>
<line x1="258.0" y1="501.0" x2="245.0" y2="485.0" stroke="#9ecae1" stroke-width="1"/>
<line x1="258.0" y1="501.0" x2="255.0" y2="484.0" stroke="#9ecae1" stroke-width="1"/>
<line x1="258.0" y1="501.0" x2="265.0" y2="483.7" stroke="#9ecae1" stroke-width="1"/>
<line x1="258.0" y1="501.0" x2="275.0" y2="486.0" stroke="#9ecae1" stroke-width="1"/>
<circle cx="260.5" cy="510.3" r="1.7" fill="#9ecae1"/>
<circle cx="251.1" cy="509.9" r="1.7" fill="#9ecae1"/>
<circle cx="255.4" cy="499.4" r="1.7" fill="#9ecae1"/>
<circle cx="275.0" cy="499.2" r="1.7" fill="#9ecae1"/>
<circle cx="258.6" cy="506.6" r="1.7" fill="#9ecae1"/>
<circle cx="267.9" cy="499.0" r="1.7" fill="#9ecae1"/>
<circle cx="261.9" cy="492.7" r="1.7" fill="#9ecae1"/>
<circle cx="254.2" cy="498.3" r="1.7" fill="#9ecae1"/>
<circle cx="244.2" cy="491.7" r="1.7" fill="#9ecae1"/>
<circle cx="243.3" cy="501.7" r="1.7" fill="#9ecae1"/>
<circle cx="256.0" cy="498.9" r="1.7" fill="#9ecae1"/>
<circle cx="256.8" cy="490.8" r="1.7" fill="#9ecae1"/>
<circle cx="257.6" cy="502.9" r="1.7" fill="#9ecae1"/>
<circle cx="263.5" cy="493.5" r="1.7" fill="#9ecae1"/>
<circle cx="251.8" cy="486.4" r="1.7" fill="#9ecae1"/>
<circle cx="250.6" cy="485.2" r="1.7" fill="#9ecae1"/>
<circle cx="246.9" cy="511.5" r="1.7" fill="#9ecae1"/>
<circle cx="239.5" cy="510.5" r="1.7" fill="#9ecae1"/>
<circle cx="260.5" cy="498.1" r="1.7" fill="#9ecae1"/>
<circle cx="262.8" cy="504.3" r="1.7" fill="#9ecae1"/>
<circle cx="267.0" cy="497.6" r="1.7" fill="#9ecae1"/>
<circle cx="251.9" cy="497.4" r="1.7" fill="#9ecae1"/>
<circle cx="249.2" cy="502.2" r="1.7" fill="#9ecae1"/>
<circle cx="252.5" cy="510.3" r="1.7" fill="#9ecae1"/>
<circle cx="240.0" cy="495.7" r="1.7" fill="#9ecae1"/>
<circle cx="246.8" cy="486.7" r="1.7" fill="#9ecae1"/>
<circle cx="271.7" cy="479.9" r="1.7" fill="#9ecae1"/>
<circle cx="254.8" cy="497.5" r="1.7" fill="#9ecae1"/>
<circle cx="270.0" cy="483.5" r="1.7" fill="#9ecae1"/>
<circle cx="266.5" cy="493.8" r="1.7" fill="#9ecae1"/>
<circle cx="255.7" cy="496.2" r="1.7" fill="#9ecae1"/>
<circle cx="262.2" cy="491.4" r="1.7" fill="#9ecae1"/>
<circle cx="257.8" cy="503.8" r="1.7" fill="#9ecae1"/>
<circle cx="271.1" cy="480.0" r="1.7" fill="#9ecae1"/>
<circle cx="272.8" cy="505.8" r="1.7" fill="#9ecae1"/>
<circle cx="254.1" cy="504.1" r="1.7" fill="#9ecae1"/>
<circle cx="256.1" cy="514.1" r="1.7" fill="#9ecae1"/>
<circle cx="259.6" cy="499.0" r="1.7" fill="#9ecae1"/>
<circle cx="255.7" cy="499.9" r="1.7" fill="#9ecae1"/>
<circle cx="255.3" cy="494.7" r="1.7" fill="#9ecae1"/>
<circle cx="273.7" cy="483.4" r="1.7" fill="#9ecae1"/>
<circle cx="225.9" cy="505.7" r="1.7" fill="#9ecae1"/>
<circle cx="257.2" cy="504.0" r="1.7" fill="#9ecae1"/>
<circle cx="256.0" cy="500.2" r="1.7" fill="#9ecae1"/>
<circle cx="262.2" cy="507.8" r="1.7" fill="#9ecae1"/>
<circle cx="253.5" cy="498.9" r="1.7" fill="#9ecae1"/>
<circle cx="275.9" cy="502.0" r="1.7" fill="#9ecae1"/>
<circle cx="252.4" cy="520.0" r="1.7" fill="#9ecae1"/>
<circle cx="264.1" cy="495.3" r="1.7" fill="#9ecae1"/>
<circle cx="248.0" cy="505.1" r="1.7" fill="#9ecae1"/>
<circle cx="249.2" cy="494.3" r="1.7" fill="#9ecae1"/>
<circle cx="245.8" cy="499.2" r="1.7" fill="#9ecae1"/>
<circle cx="267.2" cy="496.0" r="1.7" fill="#9ecae1"/>
<circle cx="246.0" cy="508.3" r="1.7" fill="#9ecae1"/>
<circle cx="259.7" cy="507.3" r="1.7" fill="#9ecae1"/>
<circle cx="268.4" cy="497.9" r="1.7" fill="#9ecae1"/>
<circle cx="256.7" cy="500.9" r="1.7" fill="#9ecae1"/>
<circle cx="248.8" cy="507.8" r="1.7" fill="#9ecae1"/>
<circle cx="270.4" cy="500.2" r="1.7" fill="#9ecae1"/>
<circle cx="255.6" cy="499.4" r="1.7" fill="#9ecae1"/>
<circle cx="250.0" cy="496.2" r="1.7" fill="#9ecae1"/>
<circle cx="253.3" cy="495.3" r="1.7" fill="#9ecae1"/>
<circle cx="252.0" cy="489.8" r="1.7" fill="#9ecae1"/>
<circle cx="261.2" cy="500.8" r="1.7" fill="#9ecae1"/>
<circle cx="244.7" cy="485.5" r="1.7" fill="#9ecae1"/>
<circle cx="259.4" cy="509.3" r="1.7" fill="#9ecae1"/>
<circle cx="250.9" cy="498.5" r="1.7" fill="#9ecae1"/>
<circle cx="253.8" cy="506.8" r="1.7" fill="#9ecae1"/>
<circle cx="251.2" cy="509.9" r="1.7" fill="#9ecae1"/>
<circle cx="256.5" cy="508.4" r="1.7" fill="#9ecae1"/>
<circle cx="258.0" cy="499.2" r="1.7" fill="#9ecae1"/>
<circle cx="244.0" cy="498.1" r="1.7" fill="#9ecae1"/>
<circle cx="256.6" cy="506.4" r="1.7" fill="#9ecae1"/>
<circle cx="259.2" cy="495.4" r="1.7" fill="#9ecae1"/>
<circle cx="262.9" cy="507.8" r="1.7" fill="#9ecae1"/>
<circle cx="256.1" cy="497.9" r="1.7" fill="#9ecae1"/>
<circle cx="255.6" cy="507.7" r="1.7" fill="#9ecae1"/>
<circle cx="261.5" cy="493.2" r="1.7" fill="#9ecae1"/>
<circle cx="260.7" cy="496.8" r="1.7" fill="#9ecae1"/>
<circle cx="253.0" cy="511.5" r="1.7" fill="#9ecae1"/>
<circle cx="219.5" cy="490.4" r="1.7" fill="#9ecae1"/>
<circle cx="238.5" cy="505.0" r="1.7" fill="#9ecae1"/>
<circle cx="240.0" cy="515.0" r="1.7" fill="#9ecae1"/>
<circle cx="248.0" cy="522.0" r="1.7" fill="#9ecae1"/>
<circle cx="245.0" cy="485.0" r="1.7" fill="#9ecae1"/>
<circle cx="255.0" cy="484.0" r="1.7" fill="#9ecae1"/>
<circle cx="265.0" cy="483.7" r="1.7" fill="#9ecae1"/>
<circle cx="275.0" cy="486.0" r="1.7" fill="#9ecae1"/>
<ellipse cx="285.5" cy="506.5" rx="25.0" ry="19.0" transform="rotate(-20 285.5 506.5)" fill="#d7191c" fill-opacity="0.3" stroke="#d7191c" stroke-width="1"/>
<line x1="285.5" y1="506.5" x2="287.3" y2="510.1" stroke="#d7191c" stroke-width="1"/>
<line x1="285.5" y1="506.5" x2="281.7" y2="511.1" stroke="#d7191c" stroke-width="1"/>
<line x1="285.5" y1="506.5" x2="296.5" y2="506.2" stroke="#d7191c" stroke-width="1"/>
<line x1="285.5" y1="506.5" x2="299.4" y2="493.4" stroke="#d7191c" stroke-width="1"/>
<line x1="285.5" y1="506.5" x2="284.2" y2="500.6" stroke="#d7191c" stroke-width="1"/>
<line x1="285.5" y1="506.5" x2="276.7" y2="508.0" stroke="#d7191c" stroke-width="1"/>
<line x1="285.5" y1="506.5" x2="289.1" y2="509.0" stroke="#d7191c" stroke-width="1"/>
<line x1="285.5" y1="506.5" x2="297.4" y2="522.5" stroke="#d7191c" stroke-width="1"/>
<line x1="285.5" y1="506.5" x2="290.0" y2="490.4" stroke="#d7191c" stroke-width="1"/>
<line x1="285.5" y1="506.5" x2="285.8" y2="500.7" stroke="#d7191c" stroke-width="1"/>
<line x1="285.5" y1="506.5" x2="283.9" y2="519.0" stroke="#d7191c" stroke-width="1"/>
<line x1="285.5" y1="506.5" x2="277.4" y2="491.7" stroke="#d7191c" stroke-width="1"/>
<line x1="285.5" y1="506.5" x2="287.9" y2="503.0" stroke="#d7191c" stroke-width="1"/>
<line x1="285.5" y1="506.5" x2="270.4" y2="503.6" stroke="#d7191c" stroke-width="1"/>
<line x1="285.5" y1="506.5" x2="278.8" y2="508.7" stroke="#d7191c" stroke-width="1"/>
<line x1="285.5" y1="506.5" x2="281.2" y2="508.7" stroke="#d7191c" stroke-width="1"/>
<line x1="285.5" y1="506.5" x2="302.6" y2="493.0" stroke="#d7191c" stroke-width="1"/>
<line x1="285.5" y1="506.5" x2="276.2" y2="507.6" stroke="#d7191c" stroke-width="1"/>
<line x1="285.5" y1="506.5" x2="295.0" y2="496.6" stroke="#d7191c" stroke-width="1"/>
<line x1="285.5" y1="506.5" x2="296.8" y2="490.5" stroke="#d7191c" stroke-width="1"/>
<line x1="285.5" y1="506.5" x2="274.4" y2="510.0" stroke="#d7191c" stroke-width="1"/>
<line x1="285.5" y1="506.5" x2="274.6" y2="504.9" stroke="#d7191c" stroke-width="1"/>
<line x1="285.5" y1="506.5" x2="292.4" y2="510.6" stroke="#d7191c" stroke-width="1"/>
<line x1="285.5" y1="506.5" x2="285.9" y2="503.9" stroke="#d7191c" stroke-width="1"/>
<line x1="285.5" y1="506.5" x2="300.9" y2="504.6" stroke="#d7191c" stroke-width="1"/>
<line x1="285.5" y1="506.5" x2="286.6" y2="517.2" stroke="#d7191c" stroke-width="1"/>
<line x1="285.5" y1="506.5" x2="276.5" y2="511.3" stroke="#d7191c" stroke-width="1"/>
<line x1="285.5" y1="506.5" x2="292.4" y2="503.9" stroke="#d7191c" stroke-width="1"/>
<line x1="285.5" y1="506.5" x2="280.5" y2="511.5" stroke="#d7191c" stroke-width="1"/>
<line x1="285.5" y1="506.5" x2="278.0" y2="503.8" stroke="#d7191c" stroke-width="1"/>
<line x1="285.5" y1="506.5" x2="278.5" y2="520.9" stroke="#d7191c" stroke-width="1"/>
<line x1="285.5" y1="506.5" x2="283.1" y2="517.9" stroke="#d7191c" stroke-width="1"/>
<line x1="285.5" y1="506.5" x2="288.8" y2="502.9" stroke="#d7191c" stroke-width="1"/>
<line x1="285.5" y1="506.5" x2="293.4" y2="506.1" stroke="#d7191c" stroke-width="1"/>
<line x1="285.5" y1="506.5" x2="282.9" y2="494.9" stroke="#d7191c" stroke-width="1"/>
<line x1="285.5" y1="506.5" x2="288.9" y2="513.4" stroke="#d7191c" stroke-width="1"/>
<line x1="285.5" y1="506.5" x2="293.6" y2="512.6" stroke="#d7191c" stroke-width="1"/>
<line x1="285.5" y1="506.5" x2="302.5" y2="504.1" stroke="#d7191c" stroke-width="1"/>
<line x1="285.5" y1="506.5" x2="302.0" y2="486.7" stroke="#d7191c" stroke-width="1"/>
<line x1="285.5" y1="506.5" x2="275.6" y2="487.1" stroke="#d7191c" stroke-width="1"/>
<line x1="285.5" y1="506.5" x2="294.4" y2="504.1" stroke="#d7191c" stroke-width="1"/>
<line x1="285.5" y1="506.5" x2="302.3" y2="497.1" stroke="#d7191c" stroke-width="1"/>
<line x1="285.5" y1="506.5" x2="267.8" y2="524.6" stroke="#d7191c" stroke-width="1"/>
<line x1="285.5" y1="506.5" x2="267.6" y2="501.5" stroke="#d7191c" stroke-width="1"/>
<line x1="285.5" y1="506.5" x2="285.5" y2="512.2" stroke="#d7191c" stroke-width="1"/>
<line x1="285.5" y1="506.5" x2="280.7" y2="510.0" stroke="#d7191c" stroke-width="1"/>
<line x1="285.5" y1="506.5" x2="270.7" y2="527.6" stroke="#d7191c" stroke-width="1"/>
<line x1="285.5" y1="506.5" x2="285.1" y2="507.7" stroke="#d7191c" stroke-width="1"/>
<line x1="285.5" y1="506.5" x2="292.2" y2="505.6" stroke="#d7191c" stroke-width="1"/>
<line x1="285.5" y1="506.5" x2="284.9" y2="498.3" stroke="#d7191c" stroke-width="1"/>
<line x1="285.5" y1="506.5" x2="285.6" y2="510.5" stroke="#d7191c" stroke-width="1"/>
<line x1="285.5" y1="506.5" x2="296.2" y2="501.5" stroke="#d7191c" stroke-width="1"/>
<line x1="285.5" y1="506.5" x2="287.5" y2="508.9" stroke="#d7191c" stroke-width="1"/>
<line x1="285.5" y1="506.5" x2="292.1" y2="506.0" stroke="#d7191c" stroke-width="1"/>
<line x1="285.5" y1="506.5" x2="281.3" y2="503.4" stroke="#d7191c" stroke-width="1"/>
<line x1="285.5" y1="506.5" x2="298.2" y2="504.5" stroke="#d7191c" stroke-width="1"/>
<line x1="285.5" y1="506.5" x2="295.9" y2="534.4" stroke="#d7191c" stroke-width="1"/>
<line x1="285.5" y1="506.5" x2="297.3" y2="510.0" stroke="#d7191c" stroke-width="1"/>
<line x1="285.5" y1="506.5" x2="284.1" y2="497.8" stroke="#d7191c" stroke-width="1"/>
<line x1="285.5" y1="506.5" x2="297.3" y2="501.4" stroke="#d7191c" stroke-width="1"/>
<line x1="285.5" y1="506.5" x2="289.1" y2="514.5" stroke="#d7191c" stroke-width="1"/>
<line x1="285.5" y1="506.5" x2="297.0" y2="504.5" stroke="#d7191c" stroke-width="1"/>
<line x1="285.5" y1="506.5" x2="291.8" y2="523.3" stroke="#d7191c" stroke-width="1"/>
<line x1="285.5" y1="506.5" x2="288.6" y2="496.1" stroke="#d7191c" stroke-width="1"/>
<line x1="285.5" y1="506.5" x2="293.9" y2="504.8" stroke="#d7191c" stroke-width="1"/>
<line x1="285.5" y1="506.5" x2="287.8" y2="511.9" stroke="#d7191c" stroke-width="1"/>
<line x1="285.5" y1="506.5" x2="293.8" y2="521.7" stroke="#d7191c" stroke-width="1"/>
<line x1="285.5" y1="506.5" x2="288.4" y2="507.7" stroke="#d7191c" stroke-width="1"/>
<line x1="285.5" y1="506.5" x2="296.1" y2="497.5" stroke="#d7191c" stroke-width="1"/>
<line x1="285.5" y1="506.5" x2="296.0" y2="502.1" stroke="#d7191c" stroke-width="1"/>
<line x1="285.5" y1="506.5" x2="295.5" y2="495.1" stroke="#d7191c" stroke-width="1"/>
<line x1="285.5" y1="506.5" x2="285.3" y2="492.0" stroke="#d7191c" stroke-width="1"/>
<line x1="285.5" y1="506.5" x2="280.9" y2="508.3" stroke="#d7191c" stroke-width="1"/>
<line x1="285.5" y1="506.5" x2="296.5" y2="520.5" stroke="#d7191c" stroke-width="1"/>
<line x1="285.5" y1="506.5" x2="301.0" y2="488.7" stroke="#d7191c" stroke-width="1"/>
<line x1="285.5" y1="506.5" x2="281.2" y2="519.5" stroke="#d7191c" stroke-width="1"/>
<line x1="285.5" y1="506.5" x2="286.1" y2="493.8" stroke="#d7191c" stroke-width="1"/>
<line x1="285.5" y1="506.5" x2="287.3" y2="495.6" stroke="#d7191c" stroke-width="1"/>
<line x1="285.5" y1="506.5" x2="272.8" y2="499.7" stroke="#d7191c" stroke-width="1"/>
<line x1="285.5" y1="506.5" x2="289.3" y2="525.6" stroke="#d7191c" stroke-width="1"/>
<line x1="285.5" y1="506.5" x2="289.2" y2="504.2" stroke="#d7191c" stroke-width="1"/>
<line x1="285.5" y1="506.5" x2="310.7" y2="493.1" stroke="#d7191c" stroke-width="1"/>
<line x1="285.5" y1="506.5" x2="283.2" y2="505.0" stroke="#d7191c" stroke-width="1"/>
<line x1="285.5" y1="506.5" x2="289.0" y2="502.4" stroke="#d7191c" stroke-width="1"/>
<line x1="285.5" y1="506.5" x2="300.0" y2="498.6" stroke="#d7191c" stroke-width="1"/>
<line x1="285.5" y1="506.5" x2="292.1" y2="506.1" stroke="#d7191c" stroke-width="1"/>
<line x1="285.5" y1="506.5" x2="273.6" y2="502.0" stroke="#d7191c" stroke-width="1"/>
<line x1="285.5" y1="506.5" x2="278.3" y2="488.3" stroke="#d7191c" stroke-width="1"/>
<line x1="285.5" y1="506.5" x2="285.9" y2="507.1" stroke="#d7191c" stroke-width="1"/>
<line x1="285.5" y1="506.5" x2="286.8" y2="505.3" stroke="#d7191c" stroke-width="1"/>
<line x1="285.5" y1="506.5" x2="288.2" y2="502.3" stroke="#d7191c" stroke-width="1"/>
<line x1="285.5" y1="506.5" x2="287.5" y2="491.0" stroke="#d7191c" stroke-width="1"/>
<line x1="285.5" y1="506.5" x2="292.6" y2="495.9" stroke="#d7191c" stroke-width="1"/>
<line x1="285.5" y1="506.5" x2="289.3" y2="500.9" stroke="#d7191c" stroke-width="1"/>
<line x1="285.5" y1="506.5" x2="278.7" y2="501.8" stroke="#d7191c" stroke-width="1"/>
<line x1="285.5" y1="506.5" x2="296.5" y2="492.6" stroke="#d7191c" stroke-width="1"/>
<line x1="285.5" y1="506.5" x2="273.4" y2="512.9" stroke="#d7191c" stroke-width="1"/>
<line x1="285.5" y1="506.5" x2="288.4" y2="505.8" stroke="#d7191c" stroke-width="1"/>
<line x1="285.5" y1="506.5" x2="273.5" y2="505.0" stroke="#d7191c" stroke-width="1"/>
<line x1="285.5" y1="506.5" x2="292.0" y2="494.8" stroke="#d7191c" stroke-width="1"/>
<line x1="285.5" y1="506.5" x2="276.4" y2="480.9" stroke="#d7191c" stroke-width="1"/>
<line x1="285.5" y1="506.5" x2="327.7" y2="486.6" stroke="#d7191c" stroke-width="1"/>
<line x1="285.5" y1="506.5" x2="327.7" y2="506.5" stroke="#d7191c" stroke-width="1"/>
<line x1="285.5" y1="506.5" x2="240.4" y2="517.9" stroke="#d7191c" stroke-width="1"/>
<line x1="285.5" y1="506.5" x2="260.3" y2="539.7" stroke="#d7191c" stroke-width="1"/>
<line x1="285.5" y1="506.5" x2="274.5" y2="535.0" stroke="#d7191c" stroke-width="1"/>
<line x1="285.5" y1="506.5" x2="287.8" y2="538.8" stroke="#d7191c" stroke-width="1"/>
<line x1="285.5" y1="506.5" x2="295.4" y2="540.7" stroke="#d7191c" stroke-width="1"/>
<line x1="285.5" y1="506.5" x2="300.1" y2="484.7" stroke="#d7191c" stroke-width="1"/>
<line x1="285.5" y1="506.5" x2="304.9" y2="485.6" stroke="#d7191c" stroke-width="1"/>
<line x1="285.5" y1="506.5" x2="312.5" y2="498.0" stroke="#d7191c" stroke-width="1"/>
<line x1="285.5" y1="506.5" x2="306.8" y2="517.0" stroke="#d7191c" stroke-width="1"/>
<line x1="285.5" y1="506.5" x2="259.3" y2="523.6" stroke="#d7191c" stroke-width="1"/>
<line x1="285.5" y1="506.5" x2="264.1" y2="526.4" stroke="#d7191c" stroke-width="1"/>
<line x1="285.5" y1="506.5" x2="274.0" y2="478.0" stroke="#d7191c" stroke-width="1"/>
<line x1="285.5" y1="506.5" x2="310.0" y2="505.0" stroke="#d7191c" stroke-width="1"/>
<line x1="285.5" y1="506.5" x2="315.0" y2="510.0" stroke="#d7191c" stroke-width="1"/>
<circle cx="287.3" cy="510.1" r="1.7" fill="#d7191c"/>
<circle cx="281.7" cy="511.1" r="1.7" fill="#d7191c"/>
<circle cx="296.5" cy="506.2" r="1.7" fill="#d7191c"/>
<circle cx="299.4" cy="493.4" r="1.7" fill="#d7191c"/>
<circle cx="284.2" cy="500.6" r="1.7" fill="#d7191c"/>
<circle cx="276.7" cy="508.0" r="1.7" fill="#d7191c"/>
<circle cx="289.1" cy="509.0" r="1.7" fill="#d7191c"/>
<circle cx="297.4" cy="522.5" r="1.7" fill="#d7191c"/>
<circle cx="290.0" cy="490.4" r="1.7" fill="#d7191c"/>
<circle cx="285.8" cy="500.7" r="1.7" fill="#d7191c"/>
<circle cx="283.9" cy="519.0" r="1.7" fill="#d7191c"/>
<circle cx="277.4" cy="491.7" r="1.7" fill="#d7191c"/>
<circle cx="287.9" cy="503.0" r="1.7" fill="#d7191c"/>
<circle cx="270.4" cy="503.6" r="1.7" fill="#d7191c"/>
<circle cx="278.8" cy="508.7" r="1.7" fill="#d7191c"/>
<circle cx="281.2" cy="508.7" r="1.7" fill="#d7191c"/>
<circle cx="302.6" cy="493.0" r="1.7" fill="#d7191c"/>
<circle cx="276.2" cy="507.6" r="1.7" fill="#d7191c"/>
<circle cx="295.0" cy="496.6" r="1.7" fill="#d7191c"/>
<circle cx="296.8" cy="490.5" r="1.7" fill="#d7191c"/>
<circle cx="274.4" cy="510.0" r="1.7" fill="#d7191c"/>
<circle cx="274.6" cy="504.9" r="1.7" fill="#d7191c"/>
<circle cx="292.4" cy="510.6" r="1.7" fill="#d7191c"/>
<circle cx="285.9" cy="503.9" r="1.7" fill="#d7191c"/>
<circle cx="300.9" cy="504.6" r="1.7" fill="#d7191c"/>
<circle cx="286.6" cy="517.2" r="1.7" fill="#d7191c"/>
<circle cx="276.5" cy="511.3" r="1.7" fill="#d7191c"/>
<circle cx="292.4" cy="503.9" r="1.7" fill="#d7191c"/>
<circle cx="280.5" cy="511.5" r="1.7" fill="#d7191c"/>
<circle cx="278.0" cy="503.8" r="1.7" fill="#d7191c"/>
<circle cx="278.5" cy="520.9" r="1.7" fill="#d7191c"/>
<circle cx="283.1" cy="517.9" r="1.7" fill="#d7191c"/>
<circle cx="288.8" cy="502.9" r="1.7" fill="#d7191c"/>
<circle cx="293.4" cy="506.1" r="1.7" fill="#d7191c"/>
<circle cx="282.9" cy="494.9" r="1.7" fill="#d7191c"/>
<circle cx="288.9" cy="513.4" r="1.7" fill="#d7191c"/>
<circle cx="293.6" cy="512.6" r="1.7" fill="#d7191c"/>
<circle cx="302.5" cy="504.1" r="1.7" fill="#d7191c"/>
<circle cx="302.0" cy="486.7" r="1.7" fill="#d7191c"/>
<circle cx="275.6" cy="487.1" r="1.7" fill="#d7191c"/>
<circle cx="294.4" cy="504.1" r="1.7" fill="#d7191c"/>
<circle cx="302.3" cy="497.1" r="1.7" fill="#d7191c"/>
<circle cx="267.8" cy="524.6" r="1.7" fill="#d7191c"/>
<circle cx="267.6" cy="501.5" r="1.7" fill="#d7191c"/>
<circle cx="285.5" cy="512.2" r="1.7" fill="#d7191c"/>
<circle cx="280.7" cy="510.0" r="1.7" fill="#d7191c"/>
<circle cx="270.7" cy="527.6" r="1.7" fill="#d7191c"/>
<circle cx="285.1" cy="507.7" r="1.7" fill="#d7191c"/>
<circle cx="292.2" cy="505.6" r="1.7" fill="#d7191c"/>
<circle cx="284.9" cy="498.3" r="1.7" fill="#d7191c"/>
<circle cx="285.6" cy="510.5" r="1.7" fill="#d7191c"/>
<circle cx="296.2" cy="501.5" r="1.7" fill="#d7191c"/>
<circle cx="287.5" cy="508.9" r="1.7" fill="#d7191c"/>
<circle cx="292.1" cy="506.0" r="1.7" fill="#d7191c"/>
<circle cx="281.3" cy="503.4" r="1.7" fill="#d7191c"/>
<circle cx="298.2" cy="504.5" r="1.7" fill="#d7191c"/>
<circle cx="295.9" cy="534.4" r="1.7" fill="#d7191c"/>
<circle cx="297.3" cy="510.0" r="1.7" fill="#d7191c"/>
<circle cx="284.1" cy="497.8" r="1.7" fill="#d7191c"/>
<circle cx="297.3" cy="501.4" r="1.7" fill="#d7191c"/>
<circle cx="289.1" cy="514.5" r="1.7" fill="#d7191c"/>
<circle cx="297.0" cy="504.5" r="1.7" fill="#d7191c"/>
<circle cx="291.8" cy="523.3" r="1.7" fill="#d7191c"/>
<circle cx="288.6" cy="496.1" r="1.7" fill="#d7191c"/>
<circle cx="293.9" cy="504.8" r="1.7" fill="#d7191c"/>
<circle cx="287.8" cy="511.9" r="1.7" fill="#d7191c"/>
<circle cx="293.8" cy="521.7" r="1.7" fill="#d7191c"/>
<circle cx="288.4" cy="507.7" r="1.7" fill="#d7191c"/>
<circle cx="296.1" cy="497.5" r="1.7" fill="#d7191c"/>
<circle cx="296.0" cy="502.1" r="1.7" fill="#d7191c"/>
<circle cx="295.5" cy="495.1" r="1.7" fill="#d7191c"/>
<circle cx="285.3" cy="492.0" r="1.7" fill="#d7191c"/>
<circle cx="280.9" cy="508.3" r="1.7" fill="#d7191c"/>
<circle cx="296.5" cy="520.5" r="1.7" fill="#d7191c"/>
<circle cx="301.0" cy="488.7" r="1.7" fill="#d7191c"/>
<circle cx="281.2" cy="519.5" r="1.7" fill="#d7191c"/>
<circle cx="286.1" cy="493.8" r="1.7" fill="#d7191c"/>
<circle cx="287.3" cy="495.6" r="1.7" fill="#d7191c"/>
<circle cx="272.8" cy="499.7" r="1.7" fill="#d7191c"/>
<circle cx="289.3" cy="525.6" r="1.7" fill="#d7191c"/>
<circle cx="289.2" cy="504.2" r="1.7" fill="#d7191c"/>
<circle cx="310.7" cy="493.1" r="1.7" fill="#d7191c"/>
<circle cx="283.2" cy="505.0" r="1.7" fill="#d7191c"/>
<circle cx="289.0" cy="502.4" r="1.7" fill="#d7191c"/>
<circle cx="300.0" cy="498.6" r="1.7" fill="#d7191c"/>
<circle cx="292.1" cy="506.1" r="1.7" fill="#d7191c"/>
<circle cx="273.6" cy="502.0" r="1.7" fill="#d7191c"/>
<circle cx="278.3" cy="488.3" r="1.7" fill="#d7191c"/>
<circle cx="285.9" cy="507.1" r="1.7" fill="#d7191c"/>
<circle cx="286.8" cy="505.3" r="1.7" fill="#d7191c"/>
<circle cx="288.2" cy="502.3" r="1.7" fill="#d7191c"/>
<circle cx="287.5" cy="491.0" r="1.7" fill="#d7191c"/>
<circle cx="292.6" cy="495.9" r="1.7" fill="#d7191c"/>
<circle cx="289.3" cy="500.9" r="1.7" fill="#d7191c"/>
<circle cx="278.7" cy="501.8" r="1.7" fill="#d7191c"/>
<circle cx="296.5" cy="492.6" r="1.7" fill="#d7191c"/>
<circle cx="273.4" cy="512.9" r="1.7" fill="#d7191c"/>
<circle cx="288.4" cy="505.8" r="1.7" fill="#d7191c"/>
<circle cx="273.5" cy="505.0" r="1.7" fill="#d7191c"/>
<circle cx="292.0" cy="494.8" r="1.7" fill="#d7191c"/>
<circle cx="276.4" cy="480.9" r="1.7" fill="#d7191c"/>
<circle cx="327.7" cy="486.6" r="1.7" fill="#d7191c"/>
<circle cx="327.7" cy="506.5" r="1.7" fill="#d7191c"/>
<circle cx="240.4" cy="517.9" r="1.7" fill="#d7191c"/>
<circle cx="260.3" cy="539.7" r="1.7" fill="#d7191c"/>
<circle cx="274.5" cy="535.0" r="1.7" fill="#d7191c"/>
<circle cx="287.8" cy="538.8" r="1.7" fill="#d7191c"/>
<circle cx="295.4" cy="540.7" r="1.7" fill="#d7191c"/>
<circle cx="300.1" cy="484.7" r="1.7" fill="#d7191c"/>
<circle cx="304.9" cy="485.6" r="1.7" fill="#d7191c"/>
<circle cx="312.5" cy="498.0" r="1.7" fill="#d7191c"/>
<circle cx="306.8" cy="517.0" r="1.7" fill="#d7191c"/>
<circle cx="259.3" cy="523.6" r="1.7" fill="#d7191c"/>
<circle cx="264.1" cy="526.4" r="1.7" fill="#d7191c"/>
<circle cx="274.0" cy="478.0" r="1.7" fill="#d7191c"/>
<circle cx="310.0" cy="505.0" r="1.7" fill="#d7191c"/>
<circle cx="315.0" cy="510.0" r="1.7" fill="#d7191c"/>
<ellipse cx="424.0" cy="499.0" rx="27.0" ry="15.0" transform="rotate(-26 424.0 499.0)" fill="#9ecae1" fill-opacity="0.3" stroke="#9ecae1" stroke-width="1"/>
<line x1="424.0" y1="499.0" x2="407.7" y2="498.3" stroke="#9ecae1" stroke-width="1"/>
<line x1="424.0" y1="499.0" x2="424.5" y2="481.5" stroke="#9ecae1" stroke-width="1"/>
<line x1="424.0" y1="499.0" x2="415.8" y2="486.1" stroke="#9ecae1" stroke-width="1"/>
<line x1="424.0" y1="499.0" x2="436.6" y2="494.4" stroke="#9ecae1" stroke-width="1"/>
<line x1="424.0" y1="499.0" x2="437.3" y2="488.7" stroke="#9ecae1" stroke-width="1"/>
<line x1="424.0" y1="499.0" x2="427.5" y2="495.1" stroke="#9ecae1" stroke-width="1"/>
<line x1="424.0" y1="499.0" x2="416.4" y2="503.8" stroke="#9ecae1" stroke-width="1"/>
<line x1="424.0" y1="499.0" x2="409.2" y2="503.5" stroke="#9ecae1" stroke-width="1"/>
<line x1="424.0" y1="499.0" x2="431.8" y2="495.6" stroke="#9ecae1" stroke-width="1"/>
<line x1="424.0" y1="499.0" x2="426.0" y2="514.5" stroke="#9ecae1" stroke-width="1"/>
<line x1="424.0" y1="499.0" x2="422.9" y2="495.1" stroke="#9ecae1" stroke-width="1"/>
<line x1="424.0" y1="499.0" x2="424.2" y2="495.0" stroke="#9ecae1" stroke-width="1"/>
<line x1="424.0" y1="499.0" x2="418.8" y2="498.9" stroke="#9ecae1" stroke-width="1"/>
<line x1="424.0" y1="499.0" x2="446.2" y2="488.4" stroke="#9ecae1" stroke-width="1"/>
<line x1="424.0" y1="499.0" x2="427.9" y2="502.2" stroke="#9ecae1" stroke-width="1"/>
<line x1="424.0" y1="499.0" x2="445.4" y2="486.9" stroke="#9ecae1" stroke-width="1"/>
<line x1="424.0" y1="499.0" x2="424.5" y2="517.3" stroke="#9ecae1" stroke-width="1"/>
<line x1="424.0" y1="499.0" x2="407.0" y2="504.5" stroke="#9ecae1" stroke-width="1"/>
<line x1="424.0" y1="499.0" x2="438.0" y2="509.3" stroke="#9ecae1" stroke-width="1"/>
<line x1="424.0" y1="499.0" x2="406.4" y2="489.3" stroke="#9ecae1" stroke-width="1"/>
<line x1="424.0" y1="499.0" x2="429.7" y2="492.3" stroke="#9ecae1" stroke-width="1"/>
<line x1="424.0" y1="499.0" x2="421.1" y2="503.9" stroke="#9ecae1" stroke-width="1"/>
<line x1="424.0" y1="499.0" x2="427.3" y2="499.6" stroke="#9ecae1" stroke-width="1"/>
<line x1="424.0" y1="499.0" x2="423.1" y2="509.1" stroke="#9ecae1" stroke-width="1"/>
<line x1="424.0" y1="499.0" x2="440.5" y2="491.2" stroke="#9ecae1" stroke-width="1"/>
<line x1="424.0" y1="499.0" x2="421.2" y2="505.9" stroke="#9ecae1" stroke-width="1"/>
<line x1="424.0" y1="499.0" x2="426.1" y2="490.1" stroke="#9ecae1" stroke-width="1"/>
<line x1="424.0" y1="499.0" x2="422.1" y2="507.8" stroke="#9ecae1" stroke-width="1"/>
<line x1="424.0" y1="499.0" x2="422.0" y2="497.5" stroke="#9ecae1" stroke-width="1"/>
<line x1="424.0" y1="499.0" x2="426.2" y2="497.7" stroke="#9ecae1" stroke-width="1"/>
<line x1="424.0" y1="499.0" x2="378.5" y2="526.8" stroke="#9ecae1" stroke-width="1"/>
<line x1="424.0" y1="499.0" x2="396.6" y2="522.3" stroke="#9ecae1" stroke-width="1"/>
<line x1="424.0" y1="499.0" x2="408.0" y2="483.7" stroke="#9ecae1" stroke-width="1"/>
<line x1="424.0" y1="499.0" x2="398.1" y2="498.0" stroke="#9ecae1" stroke-width="1"/>
<line x1="424.0" y1="499.0" x2="400.0" y2="505.0" stroke="#9ecae1" stroke-width="1"/>
<circle cx="407.7" cy="498.3" r="1.7" fill="#9ecae1"/>
<circle cx="424.5" cy="481.5" r="1.7" fill="#9ecae1"/>
<circle cx="415.8" cy="486.1" r="1.7" fill="#9ecae1"/>
<circle cx="436.6" cy="494.4" r="1.7" fill="#9ecae1"/>
<circle cx="437.3" cy="488.7" r="1.7" fill="#9ecae1"/>
<circle cx="427.5" cy="495.1" r="1.7" fill="#9ecae1"/>
<circle cx="416.4" cy="503.8" r="1.7" fill="#9ecae1"/>
<circle cx="409.2" cy="503.5" r="1.7" fill="#9ecae1"/>
<circle cx="431.8" cy="495.6" r="1.7" fill="#9ecae1"/>
<circle cx="426.0" cy="514.5" r="1.7" fill="#9ecae1"/>
<circle cx="422.9" cy="495.1" r="1.7" fill="#9ecae1"/>
<circle cx="424.2" cy="495.0" r="1.7" fill="#9ecae1"/>
<circle cx="418.8" cy="498.9" r="1.7" fill="#9ecae1"/>
<circle cx="446.2" cy="488.4" r="1.7" fill="#9ecae1"/>
<circle cx="427.9" cy="502.2" r="1.7" fill="#9ecae1"/>
<circle cx="445.4" cy="486.9" r="1.7" fill="#9ecae1"/>
<circle cx="424.5" cy="517.3" r="1.7" fill="#9ecae1"/>
<circle cx="407.0" cy="504.5" r="1.7" fill="#9ecae1"/>
<circle cx="438.0" cy="509.3" r="1.7" fill="#9ecae1"/>
<circle cx="406.4" cy="489.3" r="1.7" fill="#9ecae1"/>
<circle cx="429.7" cy="492.3" r="1.7" fill="#9ecae1"/>
<circle cx="421.1" cy="503.9" r="1.7" fill="#9ecae1"/>
<circle cx="427.3" cy="499.6" r="1.7" fill="#9ecae1"/>
<circle cx="423.1" cy="509.1" r="1.7" fill="#9ecae1"/>
<circle cx="440.5" cy="491.2" r="1.7" fill="#9ecae1"/>
<circle cx="421.2" cy="505.9" r="1.7" fill="#9ecae1"/>
<circle cx="426.1" cy="490.1" r="1.7" fill="#9ecae1"/>
<circle cx="422.1" cy="507.8" r="1.7" fill="#9ecae1"/>
<circle cx="422.0" cy="497.5" r="1.7" fill="#9ecae1"/>
<circle cx="426.2" cy="497.7" r="1.7" fill="#9ecae1"/>
<circle cx="378.5" cy="526.8" r="1.7" fill="#9ecae1"/>
<circle cx="396.6" cy="522.3" r="1.7" fill="#9ecae1"/>
<circle cx="408.0" cy="483.7" r="1.7" fill="#9ecae1"/>
<circle cx="398.1" cy="498.0" r="1.7" fill="#9ecae1"/>
<circle cx="400.0" cy="505.0" r="1.7" fill="#9ecae1"/>
<ellipse cx="435.0" cy="495.5" rx="20.0" ry="11.0" transform="rotate(-25 435.0 495.5)" fill="#2c7bb6" fill-opacity="0.35" stroke="#2c7bb6" stroke-width="1"/>
<line x1="435.0" y1="495.5" x2="435.3" y2="485.6" stroke="#2c7bb6" stroke-width="1"/>
<line x1="435.0" y1="495.5" x2="428.8" y2="498.8" stroke="#2c7bb6" stroke-width="1"/>
<line x1="435.0" y1="495.5" x2="447.0" y2="489.9" stroke="#2c7bb6" stroke-width="1"/>
<line x1="435.0" y1="495.5" x2="422.1" y2="503.2" stroke="#2c7bb6" stroke-width="1"/>
<line x1="435.0" y1="495.5" x2="427.8" y2="505.6" stroke="#2c7bb6" stroke-width="1"/>
<line x1="435.0" y1="495.5" x2="436.6" y2="504.5" stroke="#2c7bb6" stroke-width="1"/>
<line x1="435.0" y1="495.5" x2="431.8" y2="491.4" stroke="#2c7bb6" stroke-width="1"/>
<line x1="435.0" y1="495.5" x2="422.3" y2="499.5" stroke="#2c7bb6" stroke-width="1"/>
<line x1="435.0" y1="495.5" x2="441.1" y2="499.1" stroke="#2c7bb6" stroke-width="1"/>
<line x1="435.0" y1="495.5" x2="435.6" y2="491.2" stroke="#2c7bb6" stroke-width="1"/>
<line x1="435.0" y1="495.5" x2="436.1" y2="487.2" stroke="#2c7bb6" stroke-width="1"/>
<line x1="435.0" y1="495.5" x2="437.5" y2="490.2" stroke="#2c7bb6" stroke-width="1"/>
<line x1="435.0" y1="495.5" x2="449.3" y2="494.3" stroke="#2c7bb6" stroke-width="1"/>
<line x1="435.0" y1="495.5" x2="435.9" y2="489.5" stroke="#2c7bb6" stroke-width="1"/>
<line x1="435.0" y1="495.5" x2="440.3" y2="495.1" stroke="#2c7bb6" stroke-width="1"/>
<line x1="435.0" y1="495.5" x2="429.2" y2="494.8" stroke="#2c7bb6" stroke-width="1"/>
<line x1="435.0" y1="495.5" x2="444.5" y2="488.9" stroke="#2c7bb6" stroke-width="1"/>
<line x1="435.0" y1="495.5" x2="441.5" y2="500.1" stroke="#2c7bb6" stroke-width="1"/>
<line x1="435.0" y1="495.5" x2="426.6" y2="509.2" stroke="#2c7bb6" stroke-width="1"/>
<line x1="435.0" y1="495.5" x2="441.9" y2="488.7" stroke="#2c7bb6" stroke-width="1"/>
<line x1="435.0" y1="495.5" x2="424.7" y2="493.6" stroke="#2c7bb6" stroke-width="1"/>
<line x1="435.0" y1="495.5" x2="437.2" y2="480.4" stroke="#2c7bb6" stroke-width="1"/>
<line x1="435.0" y1="495.5" x2="443.0" y2="492.7" stroke="#2c7bb6" stroke-width="1"/>
<line x1="435.0" y1="495.5" x2="428.4" y2="495.8" stroke="#2c7bb6" stroke-width="1"/>
<line x1="435.0" y1="495.5" x2="431.5" y2="495.9" stroke="#2c7bb6" stroke-width="1"/>
<line x1="435.0" y1="495.5" x2="440.5" y2="488.4" stroke="#2c7bb6" stroke-width="1"/>
<line x1="435.0" y1="495.5" x2="446.0" y2="495.8" stroke="#2c7bb6" stroke-width="1"/>
<line x1="435.0" y1="495.5" x2="434.2" y2="499.2" stroke="#2c7bb6" stroke-width="1"/>
<line x1="435.0" y1="495.5" x2="430.7" y2="497.8" stroke="#2c7bb6" stroke-width="1"/>
<line x1="435.0" y1="495.5" x2="443.1" y2="502.3" stroke="#2c7bb6" stroke-width="1"/>
<line x1="435.0" y1="495.5" x2="434.3" y2="495.0" stroke="#2c7bb6" stroke-width="1"/>
<line x1="435.0" y1="495.5" x2="434.9" y2="494.6" stroke="#2c7bb6" stroke-width="1"/>
<line x1="435.0" y1="495.5" x2="430.1" y2="508.0" stroke="#2c7bb6" stroke-width="1"/>
<line x1="435.0" y1="495.5" x2="428.7" y2="495.2" stroke="#2c7bb6" stroke-width="1"/>
<line x1="435.0" y1="495.5" x2="430.6" y2="501.3" stroke="#2c7bb6" stroke-width="1"/>
<line x1="435.0" y1="495.5" x2="421.2" y2="481.8" stroke="#2c7bb6" stroke-width="1"/>
<line x1="435.0" y1="495.5" x2="461.1" y2="483.7" stroke="#2c7bb6" stroke-width="1"/>
<line x1="435.0" y1="495.5" x2="413.7" y2="494.2" stroke="#2c7bb6" stroke-width="1"/>
<circle cx="435.3" cy="485.6" r="1.7" fill="#2c7bb6"/>
<circle cx="428.8" cy="498.8" r="1.7" fill="#2c7bb6"/>
<circle cx="447.0" cy="489.9" r="1.7" fill="#2c7bb6"/>
<circle cx="422.1" cy="503.2" r="1.7" fill="#2c7bb6"/>
<circle cx="427.8" cy="505.6" r="1.7" fill="#2c7bb6"/>
<circle cx="436.6" cy="504.5" r="1.7" fill="#2c7bb6"/>
<circle cx="431.8" cy="491.4" r="1.7" fill="#2c7bb6"/>
<circle cx="422.3" cy="499.5" r="1.7" fill="#2c7bb6"/>
<circle cx="441.1" cy="499.1" r="1.7" fill="#2c7bb6"/>
<circle cx="435.6" cy="491.2" r="1.7" fill="#2c7bb6"/>
<circle cx="436.1" cy="487.2" r="1.7" fill="#2c7bb6"/>
<circle cx="437.5" cy="490.2" r="1.7" fill="#2c7bb6"/>
<circle cx="449.3" cy="494.3" r="1.7" fill="#2c7bb6"/>
<circle cx="435.9" cy="489.5" r="1.7" fill="#2c7bb6"/>
<circle cx="440.3" cy="495.1" r="1.7" fill="#2c7bb6"/>
<circle cx="429.2" cy="494.8" r="1.7" fill="#2c7bb6"/>
<circle cx="444.5" cy="488.9" r="1.7" fill="#2c7bb6"/>
<circle cx="441.5" cy="500.1" r="1.7" fill="#2c7bb6"/>
<circle cx="426.6" cy="509.2" r="1.7" fill="#2c7bb6"/>
<circle cx="441.9" cy="488.7" r="1.7" fill="#2c7bb6"/>
<circle cx="424.7" cy="493.6" r="1.7" fill="#2c7bb6"/>
<circle cx="437.2" cy="480.4" r="1.7" fill="#2c7bb6"/>
<circle cx="443.0" cy="492.7" r="1.7" fill="#2c7bb6"/>
<circle cx="428.4" cy="495.8" r="1.7" fill="#2c7bb6"/>
<circle cx="431.5" cy="495.9" r="1.7" fill="#2c7bb6"/>
<circle cx="440.5" cy="488.4" r="1.7" fill="#2c7bb6"/>
<circle cx="446.0" cy="495.8" r="1.7" fill="#2c7bb6"/>
<circle cx="434.2" cy="499.2" r="1.7" fill="#2c7bb6"/>
<circle cx="430.7" cy="497.8" r="1.7" fill="#2c7bb6"/>
<circle cx="443.1" cy="502.3" r="1.7" fill="#2c7bb6"/>
<circle cx="434.3" cy="495.0" r="1.7" fill="#2c7bb6"/>
<circle cx="434.9" cy="494.6" r="1.7" fill="#2c7bb6"/>
<circle cx="430.1" cy="508.0" r="1.7" fill="#2c7bb6"/>
<circle cx="428.7" cy="495.2" r="1.7" fill="#2c7bb6"/>
<circle cx="430.6" cy="501.3" r="1.7" fill="#2c7bb6"/>
<circle cx="421.2" cy="481.8" r="1.7" fill="#2c7bb6"/>
<circle cx="461.1" cy="483.7" r="1.7" fill="#2c7bb6"/>
<circle cx="413.7" cy="494.2" r="1.7" fill="#2c7bb6"/>
<ellipse cx="456.0" cy="507.0" rx="26.0" ry="19.0" transform="rotate(-38 456.0 507.0)" fill="#fdae61" fill-opacity="0.3" stroke="#fdae61" stroke-width="1"/>
<line x1="456.0" y1="507.0" x2="456.3" y2="512.3" stroke="#fdae61" stroke-width="1"/>
<line x1="456.0" y1="507.0" x2="452.3" y2="506.5" stroke="#fdae61" stroke-width="1"/>
<line x1="456.0" y1="507.0" x2="446.3" y2="512.3" stroke="#fdae61" stroke-width="1"/>
<line x1="456.0" y1="507.0" x2="468.5" y2="501.8" stroke="#fdae61" stroke-width="1"/>
<line x1="456.0" y1="507.0" x2="466.9" y2="501.2" stroke="#fdae61" stroke-width="1"/>
<line x1="456.0" y1="507.0" x2="460.6" y2="505.4" stroke="#fdae61" stroke-width="1"/>
<line x1="456.0" y1="507.0" x2="445.1" y2="524.8" stroke="#fdae61" stroke-width="1"/>
<line x1="456.0" y1="507.0" x2="463.3" y2="506.7" stroke="#fdae61" stroke-width="1"/>
<line x1="456.0" y1="507.0" x2="431.2" y2="507.4" stroke="#fdae61" stroke-width="1"/>
<line x1="456.0" y1="507.0" x2="445.3" y2="510.3" stroke="#fdae61" stroke-width="1"/>
<line x1="456.0" y1="507.0" x2="458.6" y2="504.5" stroke="#fdae61" stroke-width="1"/>
<line x1="456.0" y1="507.0" x2="457.4" y2="498.9" stroke="#fdae61" stroke-width="1"/>
<line x1="456.0" y1="507.0" x2="460.9" y2="507.4" stroke="#fdae61" stroke-width="1"/>
<line x1="456.0" y1="507.0" x2="458.9" y2="523.3" stroke="#fdae61" stroke-width="1"/>
<line x1="456.0" y1="507.0" x2="467.4" y2="511.1" stroke="#fdae61" stroke-width="1"/>
<line x1="456.0" y1="507.0" x2="446.4" y2="506.5" stroke="#fdae61" stroke-width="1"/>
<line x1="456.0" y1="507.0" x2="452.3" y2="508.8" stroke="#fdae61" stroke-width="1"/>
<line x1="456.0" y1="507.0" x2="463.1" y2="504.1" stroke="#fdae61" stroke-width="1"/>
<line x1="456.0" y1="507.0" x2="446.8" y2="503.8" stroke="#fdae61" stroke-width="1"/>
<line x1="456.0" y1="507.0" x2="457.6" y2="519.0" stroke="#fdae61" stroke-width="1"/>
<line x1="456.0" y1="507.0" x2="449.8" y2="514.5" stroke="#fdae61" stroke-width="1"/>
<line x1="456.0" y1="507.0" x2="452.1" y2="493.9" stroke="#fdae61" stroke-width="1"/>
<line x1="456.0" y1="507.0" x2="463.3" y2="515.5" stroke="#fdae61" stroke-width="1"/>
<line x1="456.0" y1="507.0" x2="435.7" y2="519.3" stroke="#fdae61" stroke-width="1"/>
<line x1="456.0" y1="507.0" x2="450.7" y2="502.3" stroke="#fdae61" stroke-width="1"/>
<line x1="456.0" y1="507.0" x2="460.3" y2="503.0" stroke="#fdae61" stroke-width="1"/>
<line x1="456.0" y1="507.0" x2="446.9" y2="523.1" stroke="#fdae61" stroke-width="1"/>
<line x1="456.0" y1="507.0" x2="467.1" y2="508.6" stroke="#fdae61" stroke-width="1"/>
<line x1="456.0" y1="507.0" x2="471.2" y2="499.1" stroke="#fdae61" stroke-width="1"/>
<line x1="456.0" y1="507.0" x2="450.3" y2="497.4" stroke="#fdae61" stroke-width="1"/>
<line x1="456.0" y1="507.0" x2="458.5" y2="498.4" stroke="#fdae61" stroke-width="1"/>
<line x1="456.0" y1="507.0" x2="445.2" y2="501.7" stroke="#fdae61" stroke-width="1"/>
<line x1="456.0" y1="507.0" x2="444.3" y2="510.4" stroke="#fdae61" stroke-width="1"/>
<line x1="456.0" y1="507.0" x2="457.2" y2="484.0" stroke="#fdae61" stroke-width="1"/>
<line x1="456.0" y1="507.0" x2="443.8" y2="519.1" stroke="#fdae61" stroke-width="1"/>
<line x1="456.0" y1="507.0" x2="472.4" y2="500.5" stroke="#fdae61" stroke-width="1"/>
<line x1="456.0" y1="507.0" x2="425.2" y2="503.7" stroke="#fdae61" stroke-width="1"/>
<line x1="456.0" y1="507.0" x2="455.4" y2="499.5" stroke="#fdae61" stroke-width="1"/>
<line x1="456.0" y1="507.0" x2="450.8" y2="521.7" stroke="#fdae61" stroke-width="1"/>
<line x1="456.0" y1="507.0" x2="467.0" y2="500.1" stroke="#fdae61" stroke-width="1"/>
<line x1="456.0" y1="507.0" x2="399.4" y2="538.2" stroke="#fdae61" stroke-width="1"/>
<line x1="456.0" y1="507.0" x2="424.1" y2="539.7" stroke="#fdae61" stroke-width="1"/>
<line x1="456.0" y1="507.0" x2="444.0" y2="540.7" stroke="#fdae61" stroke-width="1"/>
<line x1="456.0" y1="507.0" x2="485.8" y2="483.2" stroke="#fdae61" stroke-width="1"/>
<line x1="456.0" y1="507.0" x2="488.6" y2="491.3" stroke="#fdae61" stroke-width="1"/>
<line x1="456.0" y1="507.0" x2="454.5" y2="472.9" stroke="#fdae61" stroke-width="1"/>
<circle cx="456.3" cy="512.3" r="1.7" fill="#fdae61"/>
<circle cx="452.3" cy="506.5" r="1.7" fill="#fdae61"/>
<circle cx="446.3" cy="512.3" r="1.7" fill="#fdae61"/>
<circle cx="468.5" cy="501.8" r="1.7" fill="#fdae61"/>
<circle cx="466.9" cy="501.2" r="1.7" fill="#fdae61"/>
<circle cx="460.6" cy="505.4" r="1.7" fill="#fdae61"/>
<circle cx="445.1" cy="524.8" r="1.7" fill="#fdae61"/>
<circle cx="463.3" cy="506.7" r="1.7" fill="#fdae61"/>
<circle cx="431.2" cy="507.4" r="1.7" fill="#fdae61"/>
<circle cx="445.3" cy="510.3" r="1.7" fill="#fdae61"/>
<circle cx="458.6" cy="504.5" r="1.7" fill="#fdae61"/>
<circle cx="457.4" cy="498.9" r="1.7" fill="#fdae61"/>
<circle cx="460.9" cy="507.4" r="1.7" fill="#fdae61"/>
<circle cx="458.9" cy="523.3" r="1.7" fill="#fdae61"/>
<circle cx="467.4" cy="511.1" r="1.7" fill="#fdae61"/>
<circle cx="446.4" cy="506.5" r="1.7" fill="#fdae61"/>
<circle cx="452.3" cy="508.8" r="1.7" fill="#fdae61"/>
<circle cx="463.1" cy="504.1" r="1.7" fill="#fdae61"/>
<circle cx="446.8" cy="503.8" r="1.7" fill="#fdae61"/>
<circle cx="457.6" cy="519.0" r="1.7" fill="#fdae61"/>
<circle cx="449.8" cy="514.5" r="1.7" fill="#fdae61"/>
<circle cx="452.1" cy="493.9" r="1.7" fill="#fdae61"/>
<circle cx="463.3" cy="515.5" r="1.7" fill="#fdae61"/>
<circle cx="435.7" cy="519.3" r="1.7" fill="#fdae61"/>
<circle cx="450.7" cy="502.3" r="1.7" fill="#fdae61"/>
<circle cx="460.3" cy="503.0" r="1.7" fill="#fdae61"/>
<circle cx="446.9" cy="523.1" r="1.7" fill="#fdae61"/>
<circle cx="467.1" cy="508.6" r="1.7" fill="#fdae61"/>
<circle cx="471.2" cy="499.1" r="1.7" fill="#fdae61"/>
<circle cx="450.3" cy="497.4" r="1.7" fill="#fdae61"/>
<circle cx="458.5" cy="498.4" r="1.7" fill="#fdae61"/>
<circle cx="445.2" cy="501.7" r="1.7" fill="#fdae61"/>
<circle cx="444.3" cy="510.4" r="1.7" fill="#fdae61"/>
<circle cx="457.2" cy="484.0" r="1.7" fill="#fdae61"/>
<circle cx="443.8" cy="519.1" r="1.7" fill="#fdae61"/>
<circle cx="472.4" cy="500.5" r="1.7" fill="#fdae61"/>
<circle cx="425.2" cy="503.7" r="1.7" fill="#fdae61"/>
<circle cx="455.4" cy="499.5" r="1.7" fill="#fdae61"/>
<circle cx="450.8" cy="521.7" r="1.7" fill="#fdae61"/>
<circle cx="467.0" cy="500.1" r="1.7" fill="#fdae61"/>
<circle cx="399.4" cy="538.2" r="1.7" fill="#fdae61"/>
<circle cx="424.1" cy="539.7" r="1.7" fill="#fdae61"/>
<circle cx="444.0" cy="540.7" r="1.7" fill="#fdae61"/>
<circle cx="485.8" cy="483.2" r="1.7" fill="#fdae61"/>
<circle cx="488.6" cy="491.3" r="1.7" fill="#fdae61"/>
<circle cx="454.5" cy="472.9" r="1.7" fill="#fdae61"/>
<ellipse cx="456.2" cy="507.0" rx="27.5" ry="19.5" transform="rotate(-38 456.2 507.0)" fill="#e0312a" fill-opacity="0.38" stroke="#e0312a" stroke-width="1"/>
<line x1="456.2" y1="507.0" x2="473.5" y2="521.7" stroke="#e0312a" stroke-width="1"/>
<line x1="456.2" y1="507.0" x2="472.9" y2="506.4" stroke="#e0312a" stroke-width="1"/>
<line x1="456.2" y1="507.0" x2="464.6" y2="504.7" stroke="#e0312a" stroke-width="1"/>
<line x1="456.2" y1="507.0" x2="462.9" y2="501.8" stroke="#e0312a" stroke-width="1"/>
<line x1="456.2" y1="507.0" x2="444.7" y2="506.3" stroke="#e0312a" stroke-width="1"/>
<line x1="456.2" y1="507.0" x2="447.1" y2="517.9" stroke="#e0312a" stroke-width="1"/>
<line x1="456.2" y1="507.0" x2="472.2" y2="514.1" stroke="#e0312a" stroke-width="1"/>
<line x1="456.2" y1="507.0" x2="464.3" y2="505.0" stroke="#e0312a" stroke-width="1"/>
<line x1="456.2" y1="507.0" x2="464.4" y2="501.7" stroke="#e0312a" stroke-width="1"/>
<line x1="456.2" y1="507.0" x2="445.0" y2="528.9" stroke="#e0312a" stroke-width="1"/>
<line x1="456.2" y1="507.0" x2="454.6" y2="512.1" stroke="#e0312a" stroke-width="1"/>
<line x1="456.2" y1="507.0" x2="471.3" y2="529.6" stroke="#e0312a" stroke-width="1"/>
<line x1="456.2" y1="507.0" x2="471.6" y2="500.9" stroke="#e0312a" stroke-width="1"/>
<line x1="456.2" y1="507.0" x2="451.5" y2="522.1" stroke="#e0312a" stroke-width="1"/>
<line x1="456.2" y1="507.0" x2="455.3" y2="522.2" stroke="#e0312a" stroke-width="1"/>
<line x1="456.2" y1="507.0" x2="442.2" y2="518.2" stroke="#e0312a" stroke-width="1"/>
<line x1="456.2" y1="507.0" x2="462.5" y2="493.5" stroke="#e0312a" stroke-width="1"/>
<line x1="456.2" y1="507.0" x2="460.0" y2="507.2" stroke="#e0312a" stroke-width="1"/>
<line x1="456.2" y1="507.0" x2="464.8" y2="496.0" stroke="#e0312a" stroke-width="1"/>
<line x1="456.2" y1="507.0" x2="476.6" y2="516.3" stroke="#e0312a" stroke-width="1"/>
<line x1="456.2" y1="507.0" x2="438.2" y2="512.5" stroke="#e0312a" stroke-width="1"/>
<line x1="456.2" y1="507.0" x2="459.0" y2="498.6" stroke="#e0312a" stroke-width="1"/>
<line x1="456.2" y1="507.0" x2="452.5" y2="527.8" stroke="#e0312a" stroke-width="1"/>
<line x1="456.2" y1="507.0" x2="474.1" y2="507.2" stroke="#e0312a" stroke-width="1"/>
<line x1="456.2" y1="507.0" x2="473.2" y2="503.6" stroke="#e0312a" stroke-width="1"/>
<line x1="456.2" y1="507.0" x2="436.5" y2="496.4" stroke="#e0312a" stroke-width="1"/>
<line x1="456.2" y1="507.0" x2="457.3" y2="495.2" stroke="#e0312a" stroke-width="1"/>
<line x1="456.2" y1="507.0" x2="460.9" y2="509.3" stroke="#e0312a" stroke-width="1"/>
<line x1="456.2" y1="507.0" x2="443.6" y2="514.5" stroke="#e0312a" stroke-width="1"/>
<line x1="456.2" y1="507.0" x2="480.3" y2="498.6" stroke="#e0312a" stroke-width="1"/>
<line x1="456.2" y1="507.0" x2="440.7" y2="518.3" stroke="#e0312a" stroke-width="1"/>
<line x1="456.2" y1="507.0" x2="461.5" y2="511.0" stroke="#e0312a" stroke-width="1"/>
<line x1="456.2" y1="507.0" x2="465.5" y2="500.5" stroke="#e0312a" stroke-width="1"/>
<line x1="456.2" y1="507.0" x2="460.8" y2="515.1" stroke="#e0312a" stroke-width="1"/>
<line x1="456.2" y1="507.0" x2="450.1" y2="526.5" stroke="#e0312a" stroke-width="1"/>
<line x1="456.2" y1="507.0" x2="458.8" y2="500.6" stroke="#e0312a" stroke-width="1"/>
<line x1="456.2" y1="507.0" x2="453.5" y2="513.2" stroke="#e0312a" stroke-width="1"/>
<line x1="456.2" y1="507.0" x2="429.9" y2="501.7" stroke="#e0312a" stroke-width="1"/>
<line x1="456.2" y1="507.0" x2="470.0" y2="514.4" stroke="#e0312a" stroke-width="1"/>
<line x1="456.2" y1="507.0" x2="456.5" y2="508.5" stroke="#e0312a" stroke-width="1"/>
<line x1="456.2" y1="507.0" x2="452.1" y2="500.1" stroke="#e0312a" stroke-width="1"/>
<line x1="456.2" y1="507.0" x2="466.3" y2="509.6" stroke="#e0312a" stroke-width="1"/>
<line x1="456.2" y1="507.0" x2="462.9" y2="513.2" stroke="#e0312a" stroke-width="1"/>
<line x1="456.2" y1="507.0" x2="448.5" y2="516.9" stroke="#e0312a" stroke-width="1"/>
<line x1="456.2" y1="507.0" x2="447.0" y2="509.3" stroke="#e0312a" stroke-width="1"/>
<line x1="456.2" y1="507.0" x2="460.9" y2="506.0" stroke="#e0312a" stroke-width="1"/>
<line x1="456.2" y1="507.0" x2="469.5" y2="505.0" stroke="#e0312a" stroke-width="1"/>
<line x1="456.2" y1="507.0" x2="452.5" y2="525.5" stroke="#e0312a" stroke-width="1"/>
<line x1="456.2" y1="507.0" x2="440.6" y2="518.6" stroke="#e0312a" stroke-width="1"/>
<line x1="456.2" y1="507.0" x2="459.4" y2="504.0" stroke="#e0312a" stroke-width="1"/>
<line x1="456.2" y1="507.0" x2="461.8" y2="503.2" stroke="#e0312a" stroke-width="1"/>
<line x1="456.2" y1="507.0" x2="451.2" y2="520.4" stroke="#e0312a" stroke-width="1"/>
<line x1="456.2" y1="507.0" x2="450.8" y2="500.8" stroke="#e0312a" stroke-width="1"/>
<line x1="456.2" y1="507.0" x2="456.8" y2="506.3" stroke="#e0312a" stroke-width="1"/>
<line x1="456.2" y1="507.0" x2="456.4" y2="500.2" stroke="#e0312a" stroke-width="1"/>
<line x1="456.2" y1="507.0" x2="457.0" y2="504.3" stroke="#e0312a" stroke-width="1"/>
<line x1="456.2" y1="507.0" x2="470.3" y2="491.9" stroke="#e0312a" stroke-width="1"/>
<line x1="456.2" y1="507.0" x2="468.6" y2="496.4" stroke="#e0312a" stroke-width="1"/>
<line x1="456.2" y1="507.0" x2="480.4" y2="514.6" stroke="#e0312a" stroke-width="1"/>
<line x1="456.2" y1="507.0" x2="453.2" y2="511.0" stroke="#e0312a" stroke-width="1"/>
<line x1="456.2" y1="507.0" x2="443.3" y2="509.1" stroke="#e0312a" stroke-width="1"/>
<line x1="456.2" y1="507.0" x2="451.2" y2="512.0" stroke="#e0312a" stroke-width="1"/>
<line x1="456.2" y1="507.0" x2="470.4" y2="506.1" stroke="#e0312a" stroke-width="1"/>
<line x1="456.2" y1="507.0" x2="452.2" y2="511.8" stroke="#e0312a" stroke-width="1"/>
<line x1="456.2" y1="507.0" x2="444.9" y2="522.5" stroke="#e0312a" stroke-width="1"/>
<line x1="456.2" y1="507.0" x2="447.9" y2="501.2" stroke="#e0312a" stroke-width="1"/>
<line x1="456.2" y1="507.0" x2="452.1" y2="516.7" stroke="#e0312a" stroke-width="1"/>
<line x1="456.2" y1="507.0" x2="460.7" y2="510.8" stroke="#e0312a" stroke-width="1"/>
<line x1="456.2" y1="507.0" x2="452.7" y2="511.5" stroke="#e0312a" stroke-width="1"/>
<line x1="456.2" y1="507.0" x2="445.4" y2="498.1" stroke="#e0312a" stroke-width="1"/>
<line x1="456.2" y1="507.0" x2="439.3" y2="474.8" stroke="#e0312a" stroke-width="1"/>
<line x1="456.2" y1="507.0" x2="457.3" y2="474.8" stroke="#e0312a" stroke-width="1"/>
<line x1="456.2" y1="507.0" x2="433.6" y2="478.6" stroke="#e0312a" stroke-width="1"/>
<line x1="456.2" y1="507.0" x2="491.5" y2="505.5" stroke="#e0312a" stroke-width="1"/>
<line x1="456.2" y1="507.0" x2="423.1" y2="536.9" stroke="#e0312a" stroke-width="1"/>
<line x1="456.2" y1="507.0" x2="452.6" y2="535.0" stroke="#e0312a" stroke-width="1"/>
<line x1="456.2" y1="507.0" x2="457.3" y2="538.2" stroke="#e0312a" stroke-width="1"/>
<line x1="456.2" y1="507.0" x2="463.0" y2="530.6" stroke="#e0312a" stroke-width="1"/>
<line x1="456.2" y1="507.0" x2="409.9" y2="518.5" stroke="#e0312a" stroke-width="1"/>
<line x1="456.2" y1="507.0" x2="483.9" y2="497.0" stroke="#e0312a" stroke-width="1"/>
<circle cx="473.5" cy="521.7" r="1.7" fill="#e0312a"/>
<circle cx="472.9" cy="506.4" r="1.7" fill="#e0312a"/>
<circle cx="464.6" cy="504.7" r="1.7" fill="#e0312a"/>
<circle cx="462.9" cy="501.8" r="1.7" fill="#e0312a"/>
<circle cx="444.7" cy="506.3" r="1.7" fill="#e0312a"/>
<circle cx="447.1" cy="517.9" r="1.7" fill="#e0312a"/>
<circle cx="472.2" cy="514.1" r="1.7" fill="#e0312a"/>
<circle cx="464.3" cy="505.0" r="1.7" fill="#e0312a"/>
<circle cx="464.4" cy="501.7" r="1.7" fill="#e0312a"/>
<circle cx="445.0" cy="528.9" r="1.7" fill="#e0312a"/>
<circle cx="454.6" cy="512.1" r="1.7" fill="#e0312a"/>
<circle cx="471.3" cy="529.6" r="1.7" fill="#e0312a"/>
<circle cx="471.6" cy="500.9" r="1.7" fill="#e0312a"/>
<circle cx="451.5" cy="522.1" r="1.7" fill="#e0312a"/>
<circle cx="455.3" cy="522.2" r="1.7" fill="#e0312a"/>
<circle cx="442.2" cy="518.2" r="1.7" fill="#e0312a"/>
<circle cx="462.5" cy="493.5" r="1.7" fill="#e0312a"/>
<circle cx="460.0" cy="507.2" r="1.7" fill="#e0312a"/>
<circle cx="464.8" cy="496.0" r="1.7" fill="#e0312a"/>
<circle cx="476.6" cy="516.3" r="1.7" fill="#e0312a"/>
<circle cx="438.2" cy="512.5" r="1.7" fill="#e0312a"/>
<circle cx="459.0" cy="498.6" r="1.7" fill="#e0312a"/>
<circle cx="452.5" cy="527.8" r="1.7" fill="#e0312a"/>
<circle cx="474.1" cy="507.2" r="1.7" fill="#e0312a"/>
<circle cx="473.2" cy="503.6" r="1.7" fill="#e0312a"/>
<circle cx="436.5" cy="496.4" r="1.7" fill="#e0312a"/>
<circle cx="457.3" cy="495.2" r="1.7" fill="#e0312a"/>
<circle cx="460.9" cy="509.3" r="1.7" fill="#e0312a"/>
<circle cx="443.6" cy="514.5" r="1.7" fill="#e0312a"/>
<circle cx="480.3" cy="498.6" r="1.7" fill="#e0312a"/>
<circle cx="440.7" cy="518.3" r="1.7" fill="#e0312a"/>
<circle cx="461.5" cy="511.0" r="1.7" fill="#e0312a"/>
<circle cx="465.5" cy="500.5" r="1.7" fill="#e0312a"/>
<circle cx="460.8" cy="515.1" r="1.7" fill="#e0312a"/>
<circle cx="450.1" cy="526.5" r="1.7" fill="#e0312a"/>
<circle cx="458.8" cy="500.6" r="1.7" fill="#e0312a"/>
<circle cx="453.5" cy="513.2" r="1.7" fill="#e0312a"/>
<circle cx="429.9" cy="501.7" r="1.7" fill="#e0312a"/>
<circle cx="470.0" cy="514.4" r="1.7" fill="#e0312a"/>
<circle cx="456.5" cy="508.5" r="1.7" fill="#e0312a"/>
<circle cx="452.1" cy="500.1" r="1.7" fill="#e0312a"/>
<circle cx="466.3" cy="509.6" r="1.7" fill="#e0312a"/>
<circle cx="462.9" cy="513.2" r="1.7" fill="#e0312a"/>
<circle cx="448.5" cy="516.9" r="1.7" fill="#e0312a"/>
<circle cx="447.0" cy="509.3" r="1.7" fill="#e0312a"/>
<circle cx="460.9" cy="506.0" r="1.7" fill="#e0312a"/>
<circle cx="469.5" cy="505.0" r="1.7" fill="#e0312a"/>
<circle cx="452.5" cy="525.5" r="1.7" fill="#e0312a"/>
<circle cx="440.6" cy="518.6" r="1.7" fill="#e0312a"/>
<circle cx="459.4" cy="504.0" r="1.7" fill="#e0312a"/>
<circle cx="461.8" cy="503.2" r="1.7" fill="#e0312a"/>
<circle cx="451.2" cy="520.4" r="1.7" fill="#e0312a"/>
<circle cx="450.8" cy="500.8" r="1.7" fill="#e0312a"/>
<circle cx="456.8" cy="506.3" r="1.7" fill="#e0312a"/>
<circle cx="456.4" cy="500.2" r="1.7" fill="#e0312a"/>
<circle cx="457.0" cy="504.3" r="1.7" fill="#e0312a"/>
<circle cx="470.3" cy="491.9" r="1.7" fill="#e0312a"/>
<circle cx="468.6" cy="496.4" r="1.7" fill="#e0312a"/>
<circle cx="480.4" cy="514.6" r="1.7" fill="#e0312a"/>
<circle cx="453.2" cy="511.0" r="1.7" fill="#e0312a"/>
<circle cx="443.3" cy="509.1" r="1.7" fill="#e0312a"/>
<circle cx="451.2" cy="512.0" r="1.7" fill="#e0312a"/>
<circle cx="470.4" cy="506.1" r="1.7" fill="#e0312a"/>
<circle cx="452.2" cy="511.8" r="1.7" fill="#e0312a"/>
<circle cx="444.9" cy="522.5" r="1.7" fill="#e0312a"/>
<circle cx="447.9" cy="501.2" r="1.7" fill="#e0312a"/>
<circle cx="452.1" cy="516.7" r="1.7" fill="#e0312a"/>
<circle cx="460.7" cy="510.8" r="1.7" fill="#e0312a"/>
<circle cx="452.7" cy="511.5" r="1.7" fill="#e0312a"/>
<circle cx="445.4" cy="498.1" r="1.7" fill="#e0312a"/>
<circle cx="439.3" cy="474.8" r="1.7" fill="#e0312a"/>
<circle cx="457.3" cy="474.8" r="1.7" fill="#e0312a"/>
<circle cx="433.6" cy="478.6" r="1.7" fill="#e0312a"/>
<circle cx="491.5" cy="505.5" r="1.7" fill="#e0312a"/>
<circle cx="423.1" cy="536.9" r="1.7" fill="#e0312a"/>
<circle cx="452.6" cy="535.0" r="1.7" fill="#e0312a"/>
<circle cx="457.3" cy="538.2" r="1.7" fill="#e0312a"/>
<circle cx="463.0" cy="530.6" r="1.7" fill="#e0312a"/>
<circle cx="409.9" cy="518.5" r="1.7" fill="#e0312a"/>
<circle cx="483.9" cy="497.0" r="1.7" fill="#e0312a"/>
<ellipse cx="585.0" cy="500.0" rx="27.0" ry="19.0" transform="rotate(-20 585.0 500.0)" fill="#9ecae1" fill-opacity="0.3" stroke="#9ecae1" stroke-width="1"/>
<line x1="585.0" y1="500.0" x2="574.9" y2="505.7" stroke="#9ecae1" stroke-width="1"/>
<line x1="585.0" y1="500.0" x2="604.3" y2="507.0" stroke="#9ecae1" stroke-width="1"/>
<line x1="585.0" y1="500.0" x2="598.6" y2="495.5" stroke="#9ecae1" stroke-width="1"/>
<line x1="585.0" y1="500.0" x2="588.0" y2="496.7" stroke="#9ecae1" stroke-width="1"/>
<line x1="585.0" y1="500.0" x2="568.7" y2="501.7" stroke="#9ecae1" stroke-width="1"/>
<line x1="585.0" y1="500.0" x2="596.5" y2="498.1" stroke="#9ecae1" stroke-width="1"/>
<line x1="585.0" y1="500.0" x2="578.3" y2="492.9" stroke="#9ecae1" stroke-width="1"/>
<line x1="585.0" y1="500.0" x2="582.3" y2="495.7" stroke="#9ecae1" stroke-width="1"/>
<line x1="585.0" y1="500.0" x2="586.8" y2="503.7" stroke="#9ecae1" stroke-width="1"/>
<line x1="585.0" y1="500.0" x2="558.8" y2="508.7" stroke="#9ecae1" stroke-width="1"/>
<line x1="585.0" y1="500.0" x2="565.7" y2="498.6" stroke="#9ecae1" stroke-width="1"/>
<line x1="585.0" y1="500.0" x2="574.2" y2="514.0" stroke="#9ecae1" stroke-width="1"/>
<line x1="585.0" y1="500.0" x2="594.1" y2="501.2" stroke="#9ecae1" stroke-width="1"/>
<line x1="585.0" y1="500.0" x2="572.4" y2="491.6" stroke="#9ecae1" stroke-width="1"/>
<line x1="585.0" y1="500.0" x2="581.3" y2="503.2" stroke="#9ecae1" stroke-width="1"/>
<line x1="585.0" y1="500.0" x2="586.2" y2="505.8" stroke="#9ecae1" stroke-width="1"/>
<line x1="585.0" y1="500.0" x2="586.2" y2="515.8" stroke="#9ecae1" stroke-width="1"/>
<line x1="585.0" y1="500.0" x2="598.2" y2="513.2" stroke="#9ecae1" stroke-width="1"/>
<line x1="585.0" y1="500.0" x2="587.1" y2="497.1" stroke="#9ecae1" stroke-width="1"/>
<line x1="585.0" y1="500.0" x2="577.7" y2="509.9" stroke="#9ecae1" stroke-width="1"/>
<line x1="585.0" y1="500.0" x2="597.3" y2="496.9" stroke="#9ecae1" stroke-width="1"/>
<line x1="585.0" y1="500.0" x2="588.8" y2="496.1" stroke="#9ecae1" stroke-width="1"/>
<line x1="585.0" y1="500.0" x2="579.4" y2="499.4" stroke="#9ecae1" stroke-width="1"/>
<line x1="585.0" y1="500.0" x2="560.7" y2="499.7" stroke="#9ecae1" stroke-width="1"/>
<line x1="585.0" y1="500.0" x2="585.8" y2="500.8" stroke="#9ecae1" stroke-width="1"/>
<line x1="585.0" y1="500.0" x2="599.1" y2="500.5" stroke="#9ecae1" stroke-width="1"/>
<line x1="585.0" y1="500.0" x2="589.9" y2="498.6" stroke="#9ecae1" stroke-width="1"/>
<line x1="585.0" y1="500.0" x2="559.4" y2="509.7" stroke="#9ecae1" stroke-width="1"/>
<line x1="585.0" y1="500.0" x2="576.3" y2="507.6" stroke="#9ecae1" stroke-width="1"/>
<line x1="585.0" y1="500.0" x2="580.8" y2="498.5" stroke="#9ecae1" stroke-width="1"/>
<line x1="585.0" y1="500.0" x2="528.4" y2="522.7" stroke="#9ecae1" stroke-width="1"/>
<line x1="585.0" y1="500.0" x2="556.7" y2="516.5" stroke="#9ecae1" stroke-width="1"/>
<line x1="585.0" y1="500.0" x2="569.9" y2="485.1" stroke="#9ecae1" stroke-width="1"/>
<line x1="585.0" y1="500.0" x2="595.6" y2="541.3" stroke="#9ecae1" stroke-width="1"/>
<line x1="585.0" y1="500.0" x2="627.3" y2="484.7" stroke="#9ecae1" stroke-width="1"/>
<circle cx="574.9" cy="505.7" r="1.7" fill="#9ecae1"/>
<circle cx="604.3" cy="507.0" r="1.7" fill="#9ecae1"/>
<circle cx="598.6" cy="495.5" r="1.7" fill="#9ecae1"/>
<circle cx="588.0" cy="496.7" r="1.7" fill="#9ecae1"/>
<circle cx="568.7" cy="501.7" r="1.7" fill="#9ecae1"/>
<circle cx="596.5" cy="498.1" r="1.7" fill="#9ecae1"/>
<circle cx="578.3" cy="492.9" r="1.7" fill="#9ecae1"/>
<circle cx="582.3" cy="495.7" r="1.7" fill="#9ecae1"/>
<circle cx="586.8" cy="503.7" r="1.7" fill="#9ecae1"/>
<circle cx="558.8" cy="508.7" r="1.7" fill="#9ecae1"/>
<circle cx="565.7" cy="498.6" r="1.7" fill="#9ecae1"/>
<circle cx="574.2" cy="514.0" r="1.7" fill="#9ecae1"/>
<circle cx="594.1" cy="501.2" r="1.7" fill="#9ecae1"/>
<circle cx="572.4" cy="491.6" r="1.7" fill="#9ecae1"/>
<circle cx="581.3" cy="503.2" r="1.7" fill="#9ecae1"/>
<circle cx="586.2" cy="505.8" r="1.7" fill="#9ecae1"/>
<circle cx="586.2" cy="515.8" r="1.7" fill="#9ecae1"/>
<circle cx="598.2" cy="513.2" r="1.7" fill="#9ecae1"/>
<circle cx="587.1" cy="497.1" r="1.7" fill="#9ecae1"/>
<circle cx="577.7" cy="509.9" r="1.7" fill="#9ecae1"/>
<circle cx="597.3" cy="496.9" r="1.7" fill="#9ecae1"/>
<circle cx="588.8" cy="496.1" r="1.7" fill="#9ecae1"/>
<circle cx="579.4" cy="499.4" r="1.7" fill="#9ecae1"/>
<circle cx="560.7" cy="499.7" r="1.7" fill="#9ecae1"/>
<circle cx="585.8" cy="500.8" r="1.7" fill="#9ecae1"/>
<circle cx="599.1" cy="500.5" r="1.7" fill="#9ecae1"/>
<circle cx="589.9" cy="498.6" r="1.7" fill="#9ecae1"/>
<circle cx="559.4" cy="509.7" r="1.7" fill="#9ecae1"/>
<circle cx="576.3" cy="507.6" r="1.7" fill="#9ecae1"/>
<circle cx="580.8" cy="498.5" r="1.7" fill="#9ecae1"/>
<circle cx="528.4" cy="522.7" r="1.7" fill="#9ecae1"/>
<circle cx="556.7" cy="516.5" r="1.7" fill="#9ecae1"/>
<circle cx="569.9" cy="485.1" r="1.7" fill="#9ecae1"/>
<circle cx="595.6" cy="541.3" r="1.7" fill="#9ecae1"/>
<circle cx="627.3" cy="484.7" r="1.7" fill="#9ecae1"/>
<ellipse cx="601.5" cy="498.5" rx="18.0" ry="16.0" transform="rotate(-70 601.5 498.5)" fill="#2c7bb6" fill-opacity="0.35" stroke="#2c7bb6" stroke-width="1"/>
<line x1="601.5" y1="498.5" x2="595.8" y2="504.6" stroke="#2c7bb6" stroke-width="1"/>
<line x1="601.5" y1="498.5" x2="597.7" y2="502.3" stroke="#2c7bb6" stroke-width="1"/>
<line x1="601.5" y1="498.5" x2="591.9" y2="488.8" stroke="#2c7bb6" stroke-width="1"/>
<line x1="601.5" y1="498.5" x2="597.3" y2="499.9" stroke="#2c7bb6" stroke-width="1"/>
<line x1="601.5" y1="498.5" x2="598.3" y2="504.9" stroke="#2c7bb6" stroke-width="1"/>
<line x1="601.5" y1="498.5" x2="618.2" y2="504.6" stroke="#2c7bb6" stroke-width="1"/>
<line x1="601.5" y1="498.5" x2="602.3" y2="496.2" stroke="#2c7bb6" stroke-width="1"/>
<line x1="601.5" y1="498.5" x2="596.8" y2="489.3" stroke="#2c7bb6" stroke-width="1"/>
<line x1="601.5" y1="498.5" x2="603.6" y2="504.4" stroke="#2c7bb6" stroke-width="1"/>
<line x1="601.5" y1="498.5" x2="593.5" y2="499.9" stroke="#2c7bb6" stroke-width="1"/>
<line x1="601.5" y1="498.5" x2="590.7" y2="499.6" stroke="#2c7bb6" stroke-width="1"/>
<line x1="601.5" y1="498.5" x2="613.3" y2="492.9" stroke="#2c7bb6" stroke-width="1"/>
<line x1="601.5" y1="498.5" x2="606.8" y2="477.8" stroke="#2c7bb6" stroke-width="1"/>
<line x1="601.5" y1="498.5" x2="599.5" y2="499.7" stroke="#2c7bb6" stroke-width="1"/>
<line x1="601.5" y1="498.5" x2="603.1" y2="494.5" stroke="#2c7bb6" stroke-width="1"/>
<line x1="601.5" y1="498.5" x2="601.6" y2="491.7" stroke="#2c7bb6" stroke-width="1"/>
<line x1="601.5" y1="498.5" x2="608.3" y2="513.3" stroke="#2c7bb6" stroke-width="1"/>
<line x1="601.5" y1="498.5" x2="608.0" y2="505.1" stroke="#2c7bb6" stroke-width="1"/>
<line x1="601.5" y1="498.5" x2="601.5" y2="501.4" stroke="#2c7bb6" stroke-width="1"/>
<line x1="601.5" y1="498.5" x2="590.3" y2="508.7" stroke="#2c7bb6" stroke-width="1"/>
<line x1="601.5" y1="498.5" x2="606.6" y2="497.0" stroke="#2c7bb6" stroke-width="1"/>
<line x1="601.5" y1="498.5" x2="601.8" y2="500.6" stroke="#2c7bb6" stroke-width="1"/>
<line x1="601.5" y1="498.5" x2="596.7" y2="512.6" stroke="#2c7bb6" stroke-width="1"/>
<line x1="601.5" y1="498.5" x2="592.6" y2="501.1" stroke="#2c7bb6" stroke-width="1"/>
<line x1="601.5" y1="498.5" x2="599.4" y2="494.7" stroke="#2c7bb6" stroke-width="1"/>
<line x1="601.5" y1="498.5" x2="596.4" y2="504.2" stroke="#2c7bb6" stroke-width="1"/>
<line x1="601.5" y1="498.5" x2="598.4" y2="500.8" stroke="#2c7bb6" stroke-width="1"/>
<line x1="601.5" y1="498.5" x2="598.7" y2="496.9" stroke="#2c7bb6" stroke-width="1"/>
<line x1="601.5" y1="498.5" x2="614.6" y2="495.4" stroke="#2c7bb6" stroke-width="1"/>
<line x1="601.5" y1="498.5" x2="602.0" y2="490.0" stroke="#2c7bb6" stroke-width="1"/>
<line x1="601.5" y1="498.5" x2="602.3" y2="504.4" stroke="#2c7bb6" stroke-width="1"/>
<line x1="601.5" y1="498.5" x2="610.2" y2="503.5" stroke="#2c7bb6" stroke-width="1"/>
<line x1="601.5" y1="498.5" x2="605.2" y2="498.0" stroke="#2c7bb6" stroke-width="1"/>
<line x1="601.5" y1="498.5" x2="601.0" y2="503.3" stroke="#2c7bb6" stroke-width="1"/>
<line x1="601.5" y1="498.5" x2="588.4" y2="503.2" stroke="#2c7bb6" stroke-width="1"/>
<line x1="601.5" y1="498.5" x2="594.4" y2="494.2" stroke="#2c7bb6" stroke-width="1"/>
<line x1="601.5" y1="498.5" x2="605.7" y2="505.3" stroke="#2c7bb6" stroke-width="1"/>
<line x1="601.5" y1="498.5" x2="606.2" y2="486.6" stroke="#2c7bb6" stroke-width="1"/>
<line x1="601.5" y1="498.5" x2="605.5" y2="503.7" stroke="#2c7bb6" stroke-width="1"/>
<line x1="601.5" y1="498.5" x2="607.7" y2="492.5" stroke="#2c7bb6" stroke-width="1"/>
<line x1="601.5" y1="498.5" x2="595.8" y2="503.9" stroke="#2c7bb6" stroke-width="1"/>
<line x1="601.5" y1="498.5" x2="596.9" y2="488.0" stroke="#2c7bb6" stroke-width="1"/>
<line x1="601.5" y1="498.5" x2="609.9" y2="501.0" stroke="#2c7bb6" stroke-width="1"/>
<line x1="601.5" y1="498.5" x2="600.0" y2="489.1" stroke="#2c7bb6" stroke-width="1"/>
<line x1="601.5" y1="498.5" x2="599.2" y2="500.2" stroke="#2c7bb6" stroke-width="1"/>
<line x1="601.5" y1="498.5" x2="598.9" y2="507.1" stroke="#2c7bb6" stroke-width="1"/>
<line x1="601.5" y1="498.5" x2="603.3" y2="506.5" stroke="#2c7bb6" stroke-width="1"/>
<line x1="601.5" y1="498.5" x2="594.3" y2="505.1" stroke="#2c7bb6" stroke-width="1"/>
<line x1="601.5" y1="498.5" x2="600.1" y2="503.2" stroke="#2c7bb6" stroke-width="1"/>
<line x1="601.5" y1="498.5" x2="601.1" y2="519.5" stroke="#2c7bb6" stroke-width="1"/>
<line x1="601.5" y1="498.5" x2="590.6" y2="480.7" stroke="#2c7bb6" stroke-width="1"/>
<line x1="601.5" y1="498.5" x2="619.7" y2="483.2" stroke="#2c7bb6" stroke-width="1"/>
<line x1="601.5" y1="498.5" x2="579.3" y2="519.2" stroke="#2c7bb6" stroke-width="1"/>
<circle cx="595.8" cy="504.6" r="1.7" fill="#2c7bb6"/>
<circle cx="597.7" cy="502.3" r="1.7" fill="#2c7bb6"/>
<circle cx="591.9" cy="488.8" r="1.7" fill="#2c7bb6"/>
<circle cx="597.3" cy="499.9" r="1.7" fill="#2c7bb6"/>
<circle cx="598.3" cy="504.9" r="1.7" fill="#2c7bb6"/>
<circle cx="618.2" cy="504.6" r="1.7" fill="#2c7bb6"/>
<circle cx="602.3" cy="496.2" r="1.7" fill="#2c7bb6"/>
<circle cx="596.8" cy="489.3" r="1.7" fill="#2c7bb6"/>
<circle cx="603.6" cy="504.4" r="1.7" fill="#2c7bb6"/>
<circle cx="593.5" cy="499.9" r="1.7" fill="#2c7bb6"/>
<circle cx="590.7" cy="499.6" r="1.7" fill="#2c7bb6"/>
<circle cx="613.3" cy="492.9" r="1.7" fill="#2c7bb6"/>
<circle cx="606.8" cy="477.8" r="1.7" fill="#2c7bb6"/>
<circle cx="599.5" cy="499.7" r="1.7" fill="#2c7bb6"/>
<circle cx="603.1" cy="494.5" r="1.7" fill="#2c7bb6"/>
<circle cx="601.6" cy="491.7" r="1.7" fill="#2c7bb6"/>
<circle cx="608.3" cy="513.3" r="1.7" fill="#2c7bb6"/>
<circle cx="608.0" cy="505.1" r="1.7" fill="#2c7bb6"/>
<circle cx="601.5" cy="501.4" r="1.7" fill="#2c7bb6"/>
<circle cx="590.3" cy="508.7" r="1.7" fill="#2c7bb6"/>
<circle cx="606.6" cy="497.0" r="1.7" fill="#2c7bb6"/>
<circle cx="601.8" cy="500.6" r="1.7" fill="#2c7bb6"/>
<circle cx="596.7" cy="512.6" r="1.7" fill="#2c7bb6"/>
<circle cx="592.6" cy="501.1" r="1.7" fill="#2c7bb6"/>
<circle cx="599.4" cy="494.7" r="1.7" fill="#2c7bb6"/>
<circle cx="596.4" cy="504.2" r="1.7" fill="#2c7bb6"/>
<circle cx="598.4" cy="500.8" r="1.7" fill="#2c7bb6"/>
<circle cx="598.7" cy="496.9" r="1.7" fill="#2c7bb6"/>
<circle cx="614.6" cy="495.4" r="1.7" fill="#2c7bb6"/>
<circle cx="602.0" cy="490.0" r="1.7" fill="#2c7bb6"/>
<circle cx="602.3" cy="504.4" r="1.7" fill="#2c7bb6"/>
<circle cx="610.2" cy="503.5" r="1.7" fill="#2c7bb6"/>
<circle cx="605.2" cy="498.0" r="1.7" fill="#2c7bb6"/>
<circle cx="601.0" cy="503.3" r="1.7" fill="#2c7bb6"/>
<circle cx="588.4" cy="503.2" r="1.7" fill="#2c7bb6"/>
<circle cx="594.4" cy="494.2" r="1.7" fill="#2c7bb6"/>
<circle cx="605.7" cy="505.3" r="1.7" fill="#2c7bb6"/>
<circle cx="606.2" cy="486.6" r="1.7" fill="#2c7bb6"/>
<circle cx="605.5" cy="503.7" r="1.7" fill="#2c7bb6"/>
<circle cx="607.7" cy="492.5" r="1.7" fill="#2c7bb6"/>
<circle cx="595.8" cy="503.9" r="1.7" fill="#2c7bb6"/>
<circle cx="596.9" cy="488.0" r="1.7" fill="#2c7bb6"/>
<circle cx="609.9" cy="501.0" r="1.7" fill="#2c7bb6"/>
<circle cx="600.0" cy="489.1" r="1.7" fill="#2c7bb6"/>
<circle cx="599.2" cy="500.2" r="1.7" fill="#2c7bb6"/>
<circle cx="598.9" cy="507.1" r="1.7" fill="#2c7bb6"/>
<circle cx="603.3" cy="506.5" r="1.7" fill="#2c7bb6"/>
<circle cx="594.3" cy="505.1" r="1.7" fill="#2c7bb6"/>
<circle cx="600.1" cy="503.2" r="1.7" fill="#2c7bb6"/>
<circle cx="601.1" cy="519.5" r="1.7" fill="#2c7bb6"/>
<circle cx="590.6" cy="480.7" r="1.7" fill="#2c7bb6"/>
<circle cx="619.7" cy="483.2" r="1.7" fill="#2c7bb6"/>
<circle cx="579.3" cy="519.2" r="1.7" fill="#2c7bb6"/>
<ellipse cx="625.0" cy="506.0" rx="24.0" ry="15.0" transform="rotate(-25 625.0 506.0)" fill="#fdae61" fill-opacity="0.3" stroke="#fdae61" stroke-width="1"/>
<line x1="625.0" y1="506.0" x2="614.1" y2="513.9" stroke="#fdae61" stroke-width="1"/>
<line x1="625.0" y1="506.0" x2="633.3" y2="498.3" stroke="#fdae61" stroke-width="1"/>
<line x1="625.0" y1="506.0" x2="611.8" y2="511.7" stroke="#fdae61" stroke-width="1"/>
<line x1="625.0" y1="506.0" x2="632.8" y2="510.5" stroke="#fdae61" stroke-width="1"/>
<line x1="625.0" y1="506.0" x2="609.4" y2="503.6" stroke="#fdae61" stroke-width="1"/>
<line x1="625.0" y1="506.0" x2="633.3" y2="505.7" stroke="#fdae61" stroke-width="1"/>
<line x1="625.0" y1="506.0" x2="642.8" y2="505.0" stroke="#fdae61" stroke-width="1"/>
<line x1="625.0" y1="506.0" x2="623.2" y2="504.8" stroke="#fdae61" stroke-width="1"/>
<line x1="625.0" y1="506.0" x2="649.3" y2="492.5" stroke="#fdae61" stroke-width="1"/>
<line x1="625.0" y1="506.0" x2="614.1" y2="502.6" stroke="#fdae61" stroke-width="1"/>
<line x1="625.0" y1="506.0" x2="626.3" y2="506.5" stroke="#fdae61" stroke-width="1"/>
<line x1="625.0" y1="506.0" x2="621.4" y2="507.2" stroke="#fdae61" stroke-width="1"/>
<line x1="625.0" y1="506.0" x2="629.6" y2="509.0" stroke="#fdae61" stroke-width="1"/>
<line x1="625.0" y1="506.0" x2="636.3" y2="502.3" stroke="#fdae61" stroke-width="1"/>
<line x1="625.0" y1="506.0" x2="609.5" y2="518.5" stroke="#fdae61" stroke-width="1"/>
<line x1="625.0" y1="506.0" x2="610.6" y2="511.4" stroke="#fdae61" stroke-width="1"/>
<line x1="625.0" y1="506.0" x2="610.6" y2="512.7" stroke="#fdae61" stroke-width="1"/>
<line x1="625.0" y1="506.0" x2="618.0" y2="510.9" stroke="#fdae61" stroke-width="1"/>
<line x1="625.0" y1="506.0" x2="657.2" y2="490.6" stroke="#fdae61" stroke-width="1"/>
<line x1="625.0" y1="506.0" x2="629.5" y2="494.1" stroke="#fdae61" stroke-width="1"/>
<line x1="625.0" y1="506.0" x2="624.1" y2="511.4" stroke="#fdae61" stroke-width="1"/>
<line x1="625.0" y1="506.0" x2="625.1" y2="508.7" stroke="#fdae61" stroke-width="1"/>
<line x1="625.0" y1="506.0" x2="623.1" y2="499.4" stroke="#fdae61" stroke-width="1"/>
<line x1="625.0" y1="506.0" x2="628.2" y2="498.5" stroke="#fdae61" stroke-width="1"/>
<line x1="625.0" y1="506.0" x2="641.9" y2="494.4" stroke="#fdae61" stroke-width="1"/>
<line x1="625.0" y1="506.0" x2="631.7" y2="502.9" stroke="#fdae61" stroke-width="1"/>
<line x1="625.0" y1="506.0" x2="632.6" y2="498.0" stroke="#fdae61" stroke-width="1"/>
<line x1="625.0" y1="506.0" x2="634.4" y2="500.7" stroke="#fdae61" stroke-width="1"/>
<line x1="625.0" y1="506.0" x2="639.1" y2="504.1" stroke="#fdae61" stroke-width="1"/>
<line x1="625.0" y1="506.0" x2="624.2" y2="500.6" stroke="#fdae61" stroke-width="1"/>
<line x1="625.0" y1="506.0" x2="633.9" y2="505.4" stroke="#fdae61" stroke-width="1"/>
<line x1="625.0" y1="506.0" x2="640.0" y2="496.2" stroke="#fdae61" stroke-width="1"/>
<line x1="625.0" y1="506.0" x2="631.9" y2="506.6" stroke="#fdae61" stroke-width="1"/>
<line x1="625.0" y1="506.0" x2="628.4" y2="506.0" stroke="#fdae61" stroke-width="1"/>
<line x1="625.0" y1="506.0" x2="625.1" y2="501.5" stroke="#fdae61" stroke-width="1"/>
<line x1="625.0" y1="506.0" x2="613.9" y2="508.2" stroke="#fdae61" stroke-width="1"/>
<line x1="625.0" y1="506.0" x2="635.1" y2="512.5" stroke="#fdae61" stroke-width="1"/>
<line x1="625.0" y1="506.0" x2="637.6" y2="508.0" stroke="#fdae61" stroke-width="1"/>
<line x1="625.0" y1="506.0" x2="634.6" y2="506.7" stroke="#fdae61" stroke-width="1"/>
<line x1="625.0" y1="506.0" x2="629.0" y2="509.9" stroke="#fdae61" stroke-width="1"/>
<line x1="625.0" y1="506.0" x2="653.9" y2="488.5" stroke="#fdae61" stroke-width="1"/>
<line x1="625.0" y1="506.0" x2="657.7" y2="504.0" stroke="#fdae61" stroke-width="1"/>
<line x1="625.0" y1="506.0" x2="649.1" y2="513.1" stroke="#fdae61" stroke-width="1"/>
<line x1="625.0" y1="506.0" x2="643.4" y2="486.6" stroke="#fdae61" stroke-width="1"/>
<line x1="625.0" y1="506.0" x2="601.7" y2="519.2" stroke="#fdae61" stroke-width="1"/>
<line x1="625.0" y1="506.0" x2="619.7" y2="526.4" stroke="#fdae61" stroke-width="1"/>
<circle cx="614.1" cy="513.9" r="1.7" fill="#fdae61"/>
<circle cx="633.3" cy="498.3" r="1.7" fill="#fdae61"/>
<circle cx="611.8" cy="511.7" r="1.7" fill="#fdae61"/>
<circle cx="632.8" cy="510.5" r="1.7" fill="#fdae61"/>
<circle cx="609.4" cy="503.6" r="1.7" fill="#fdae61"/>
<circle cx="633.3" cy="505.7" r="1.7" fill="#fdae61"/>
<circle cx="642.8" cy="505.0" r="1.7" fill="#fdae61"/>
<circle cx="623.2" cy="504.8" r="1.7" fill="#fdae61"/>
<circle cx="649.3" cy="492.5" r="1.7" fill="#fdae61"/>
<circle cx="614.1" cy="502.6" r="1.7" fill="#fdae61"/>
<circle cx="626.3" cy="506.5" r="1.7" fill="#fdae61"/>
<circle cx="621.4" cy="507.2" r="1.7" fill="#fdae61"/>
<circle cx="629.6" cy="509.0" r="1.7" fill="#fdae61"/>
<circle cx="636.3" cy="502.3" r="1.7" fill="#fdae61"/>
<circle cx="609.5" cy="518.5" r="1.7" fill="#fdae61"/>
<circle cx="610.6" cy="511.4" r="1.7" fill="#fdae61"/>
<circle cx="610.6" cy="512.7" r="1.7" fill="#fdae61"/>
<circle cx="618.0" cy="510.9" r="1.7" fill="#fdae61"/>
<circle cx="657.2" cy="490.6" r="1.7" fill="#fdae61"/>
<circle cx="629.5" cy="494.1" r="1.7" fill="#fdae61"/>
<circle cx="624.1" cy="511.4" r="1.7" fill="#fdae61"/>
<circle cx="625.1" cy="508.7" r="1.7" fill="#fdae61"/>
<circle cx="623.1" cy="499.4" r="1.7" fill="#fdae61"/>
<circle cx="628.2" cy="498.5" r="1.7" fill="#fdae61"/>
<circle cx="641.9" cy="494.4" r="1.7" fill="#fdae61"/>
<circle cx="631.7" cy="502.9" r="1.7" fill="#fdae61"/>
<circle cx="632.6" cy="498.0" r="1.7" fill="#fdae61"/>
<circle cx="634.4" cy="500.7" r="1.7" fill="#fdae61"/>
<circle cx="639.1" cy="504.1" r="1.7" fill="#fdae61"/>
<circle cx="624.2" cy="500.6" r="1.7" fill="#fdae61"/>
<circle cx="633.9" cy="505.4" r="1.7" fill="#fdae61"/>
<circle cx="640.0" cy="496.2" r="1.7" fill="#fdae61"/>
<circle cx="631.9" cy="506.6" r="1.7" fill="#fdae61"/>
<circle cx="628.4" cy="506.0" r="1.7" fill="#fdae61"/>
<circle cx="625.1" cy="501.5" r="1.7" fill="#fdae61"/>
<circle cx="613.9" cy="508.2" r="1.7" fill="#fdae61"/>
<circle cx="635.1" cy="512.5" r="1.7" fill="#fdae61"/>
<circle cx="637.6" cy="508.0" r="1.7" fill="#fdae61"/>
<circle cx="634.6" cy="506.7" r="1.7" fill="#fdae61"/>
<circle cx="629.0" cy="509.9" r="1.7" fill="#fdae61"/>
<circle cx="653.9" cy="488.5" r="1.7" fill="#fdae61"/>
<circle cx="657.7" cy="504.0" r="1.7" fill="#fdae61"/>
<circle cx="649.1" cy="513.1" r="1.7" fill="#fdae61"/>
<circle cx="643.4" cy="486.6" r="1.7" fill="#fdae61"/>
<circle cx="601.7" cy="519.2" r="1.7" fill="#fdae61"/>
<circle cx="619.7" cy="526.4" r="1.7" fill="#fdae61"/>
<ellipse cx="631.5" cy="507.5" rx="22.0" ry="14.0" transform="rotate(-50 631.5 507.5)" fill="#e0312a" fill-opacity="0.4" stroke="#e0312a" stroke-width="1"/>
<line x1="631.5" y1="507.5" x2="623.4" y2="519.4" stroke="#e0312a" stroke-width="1"/>
<line x1="631.5" y1="507.5" x2="627.4" y2="507.7" stroke="#e0312a" stroke-width="1"/>
<line x1="631.5" y1="507.5" x2="638.0" y2="500.4" stroke="#e0312a" stroke-width="1"/>
<line x1="631.5" y1="507.5" x2="638.5" y2="516.9" stroke="#e0312a" stroke-width="1"/>
<line x1="631.5" y1="507.5" x2="622.3" y2="506.1" stroke="#e0312a" stroke-width="1"/>
<line x1="631.5" y1="507.5" x2="620.2" y2="515.8" stroke="#e0312a" stroke-width="1"/>
<line x1="631.5" y1="507.5" x2="639.8" y2="506.0" stroke="#e0312a" stroke-width="1"/>
<line x1="631.5" y1="507.5" x2="647.7" y2="506.4" stroke="#e0312a" stroke-width="1"/>
<line x1="631.5" y1="507.5" x2="645.7" y2="497.1" stroke="#e0312a" stroke-width="1"/>
<line x1="631.5" y1="507.5" x2="643.5" y2="500.0" stroke="#e0312a" stroke-width="1"/>
<line x1="631.5" y1="507.5" x2="632.3" y2="515.0" stroke="#e0312a" stroke-width="1"/>
<line x1="631.5" y1="507.5" x2="631.4" y2="506.0" stroke="#e0312a" stroke-width="1"/>
<line x1="631.5" y1="507.5" x2="648.6" y2="495.2" stroke="#e0312a" stroke-width="1"/>
<line x1="631.5" y1="507.5" x2="628.6" y2="510.7" stroke="#e0312a" stroke-width="1"/>
<line x1="631.5" y1="507.5" x2="645.9" y2="488.4" stroke="#e0312a" stroke-width="1"/>
<line x1="631.5" y1="507.5" x2="639.9" y2="504.2" stroke="#e0312a" stroke-width="1"/>
<line x1="631.5" y1="507.5" x2="638.3" y2="505.8" stroke="#e0312a" stroke-width="1"/>
<line x1="631.5" y1="507.5" x2="626.8" y2="509.1" stroke="#e0312a" stroke-width="1"/>
<line x1="631.5" y1="507.5" x2="629.3" y2="507.1" stroke="#e0312a" stroke-width="1"/>
<line x1="631.5" y1="507.5" x2="644.9" y2="507.4" stroke="#e0312a" stroke-width="1"/>
<line x1="631.5" y1="507.5" x2="629.1" y2="516.4" stroke="#e0312a" stroke-width="1"/>
<line x1="631.5" y1="507.5" x2="622.4" y2="512.0" stroke="#e0312a" stroke-width="1"/>
<line x1="631.5" y1="507.5" x2="631.1" y2="509.6" stroke="#e0312a" stroke-width="1"/>
<line x1="631.5" y1="507.5" x2="616.5" y2="500.0" stroke="#e0312a" stroke-width="1"/>
<line x1="631.5" y1="507.5" x2="639.7" y2="495.5" stroke="#e0312a" stroke-width="1"/>
<line x1="631.5" y1="507.5" x2="631.4" y2="515.0" stroke="#e0312a" stroke-width="1"/>
<line x1="631.5" y1="507.5" x2="621.3" y2="506.0" stroke="#e0312a" stroke-width="1"/>
<line x1="631.5" y1="507.5" x2="637.3" y2="505.3" stroke="#e0312a" stroke-width="1"/>
<line x1="631.5" y1="507.5" x2="630.9" y2="517.1" stroke="#e0312a" stroke-width="1"/>
<line x1="631.5" y1="507.5" x2="629.0" y2="499.8" stroke="#e0312a" stroke-width="1"/>
<line x1="631.5" y1="507.5" x2="644.7" y2="494.9" stroke="#e0312a" stroke-width="1"/>
<line x1="631.5" y1="507.5" x2="627.0" y2="517.9" stroke="#e0312a" stroke-width="1"/>
<line x1="631.5" y1="507.5" x2="637.7" y2="510.3" stroke="#e0312a" stroke-width="1"/>
<line x1="631.5" y1="507.5" x2="628.5" y2="522.0" stroke="#e0312a" stroke-width="1"/>
<line x1="631.5" y1="507.5" x2="641.6" y2="502.9" stroke="#e0312a" stroke-width="1"/>
<line x1="631.5" y1="507.5" x2="642.5" y2="508.0" stroke="#e0312a" stroke-width="1"/>
<line x1="631.5" y1="507.5" x2="637.4" y2="502.3" stroke="#e0312a" stroke-width="1"/>
<line x1="631.5" y1="507.5" x2="632.1" y2="518.3" stroke="#e0312a" stroke-width="1"/>
<line x1="631.5" y1="507.5" x2="639.9" y2="501.0" stroke="#e0312a" stroke-width="1"/>
<line x1="631.5" y1="507.5" x2="636.6" y2="509.1" stroke="#e0312a" stroke-width="1"/>
<line x1="631.5" y1="507.5" x2="617.4" y2="528.0" stroke="#e0312a" stroke-width="1"/>
<line x1="631.5" y1="507.5" x2="617.1" y2="527.5" stroke="#e0312a" stroke-width="1"/>
<line x1="631.5" y1="507.5" x2="648.2" y2="507.0" stroke="#e0312a" stroke-width="1"/>
<line x1="631.5" y1="507.5" x2="631.1" y2="512.7" stroke="#e0312a" stroke-width="1"/>
<line x1="631.5" y1="507.5" x2="620.7" y2="498.7" stroke="#e0312a" stroke-width="1"/>
<line x1="631.5" y1="507.5" x2="636.7" y2="501.6" stroke="#e0312a" stroke-width="1"/>
<line x1="631.5" y1="507.5" x2="627.9" y2="502.9" stroke="#e0312a" stroke-width="1"/>
<line x1="631.5" y1="507.5" x2="632.2" y2="508.0" stroke="#e0312a" stroke-width="1"/>
<line x1="631.5" y1="507.5" x2="641.7" y2="498.7" stroke="#e0312a" stroke-width="1"/>
<line x1="631.5" y1="507.5" x2="652.6" y2="478.8" stroke="#e0312a" stroke-width="1"/>
<line x1="631.5" y1="507.5" x2="630.1" y2="509.1" stroke="#e0312a" stroke-width="1"/>
<line x1="631.5" y1="507.5" x2="634.2" y2="519.8" stroke="#e0312a" stroke-width="1"/>
<line x1="631.5" y1="507.5" x2="630.0" y2="497.1" stroke="#e0312a" stroke-width="1"/>
<line x1="631.5" y1="507.5" x2="638.4" y2="511.2" stroke="#e0312a" stroke-width="1"/>
<line x1="631.5" y1="507.5" x2="623.6" y2="518.8" stroke="#e0312a" stroke-width="1"/>
<line x1="631.5" y1="507.5" x2="641.9" y2="518.7" stroke="#e0312a" stroke-width="1"/>
<line x1="631.5" y1="507.5" x2="632.7" y2="502.5" stroke="#e0312a" stroke-width="1"/>
<line x1="631.5" y1="507.5" x2="637.7" y2="519.4" stroke="#e0312a" stroke-width="1"/>
<line x1="631.5" y1="507.5" x2="640.2" y2="520.3" stroke="#e0312a" stroke-width="1"/>
<line x1="631.5" y1="507.5" x2="621.0" y2="518.6" stroke="#e0312a" stroke-width="1"/>
<line x1="631.5" y1="507.5" x2="636.8" y2="479.0" stroke="#e0312a" stroke-width="1"/>
<line x1="631.5" y1="507.5" x2="639.6" y2="483.7" stroke="#e0312a" stroke-width="1"/>
<line x1="631.5" y1="507.5" x2="589.3" y2="535.9" stroke="#e0312a" stroke-width="1"/>
<line x1="631.5" y1="507.5" x2="635.3" y2="536.3" stroke="#e0312a" stroke-width="1"/>
<line x1="631.5" y1="507.5" x2="654.8" y2="495.7" stroke="#e0312a" stroke-width="1"/>
<line x1="631.5" y1="507.5" x2="641.5" y2="524.5" stroke="#e0312a" stroke-width="1"/>
<line x1="631.5" y1="507.5" x2="627.3" y2="526.4" stroke="#e0312a" stroke-width="1"/>
<circle cx="623.4" cy="519.4" r="1.7" fill="#e0312a"/>
<circle cx="627.4" cy="507.7" r="1.7" fill="#e0312a"/>
<circle cx="638.0" cy="500.4" r="1.7" fill="#e0312a"/>
<circle cx="638.5" cy="516.9" r="1.7" fill="#e0312a"/>
<circle cx="622.3" cy="506.1" r="1.7" fill="#e0312a"/>
<circle cx="620.2" cy="515.8" r="1.7" fill="#e0312a"/>
<circle cx="639.8" cy="506.0" r="1.7" fill="#e0312a"/>
<circle cx="647.7" cy="506.4" r="1.7" fill="#e0312a"/>
<circle cx="645.7" cy="497.1" r="1.7" fill="#e0312a"/>
<circle cx="643.5" cy="500.0" r="1.7" fill="#e0312a"/>
<circle cx="632.3" cy="515.0" r="1.7" fill="#e0312a"/>
<circle cx="631.4" cy="506.0" r="1.7" fill="#e0312a"/>
<circle cx="648.6" cy="495.2" r="1.7" fill="#e0312a"/>
<circle cx="628.6" cy="510.7" r="1.7" fill="#e0312a"/>
<circle cx="645.9" cy="488.4" r="1.7" fill="#e0312a"/>
<circle cx="639.9" cy="504.2" r="1.7" fill="#e0312a"/>
<circle cx="638.3" cy="505.8" r="1.7" fill="#e0312a"/>
<circle cx="626.8" cy="509.1" r="1.7" fill="#e0312a"/>
<circle cx="629.3" cy="507.1" r="1.7" fill="#e0312a"/>
<circle cx="644.9" cy="507.4" r="1.7" fill="#e0312a"/>
<circle cx="629.1" cy="516.4" r="1.7" fill="#e0312a"/>
<circle cx="622.4" cy="512.0" r="1.7" fill="#e0312a"/>
<circle cx="631.1" cy="509.6" r="1.7" fill="#e0312a"/>
<circle cx="616.5" cy="500.0" r="1.7" fill="#e0312a"/>
<circle cx="639.7" cy="495.5" r="1.7" fill="#e0312a"/>
<circle cx="631.4" cy="515.0" r="1.7" fill="#e0312a"/>
<circle cx="621.3" cy="506.0" r="1.7" fill="#e0312a"/>
<circle cx="637.3" cy="505.3" r="1.7" fill="#e0312a"/>
<circle cx="630.9" cy="517.1" r="1.7" fill="#e0312a"/>
<circle cx="629.0" cy="499.8" r="1.7" fill="#e0312a"/>
<circle cx="644.7" cy="494.9" r="1.7" fill="#e0312a"/>
<circle cx="627.0" cy="517.9" r="1.7" fill="#e0312a"/>
<circle cx="637.7" cy="510.3" r="1.7" fill="#e0312a"/>
<circle cx="628.5" cy="522.0" r="1.7" fill="#e0312a"/>
<circle cx="641.6" cy="502.9" r="1.7" fill="#e0312a"/>
<circle cx="642.5" cy="508.0" r="1.7" fill="#e0312a"/>
<circle cx="637.4" cy="502.3" r="1.7" fill="#e0312a"/>
<circle cx="632.1" cy="518.3" r="1.7" fill="#e0312a"/>
<circle cx="639.9" cy="501.0" r="1.7" fill="#e0312a"/>
<circle cx="636.6" cy="509.1" r="1.7" fill="#e0312a"/>
<circle cx="617.4" cy="528.0" r="1.7" fill="#e0312a"/>
<circle cx="617.1" cy="527.5" r="1.7" fill="#e0312a"/>
<circle cx="648.2" cy="507.0" r="1.7" fill="#e0312a"/>
<circle cx="631.1" cy="512.7" r="1.7" fill="#e0312a"/>
<circle cx="620.7" cy="498.7" r="1.7" fill="#e0312a"/>
<circle cx="636.7" cy="501.6" r="1.7" fill="#e0312a"/>
<circle cx="627.9" cy="502.9" r="1.7" fill="#e0312a"/>
<circle cx="632.2" cy="508.0" r="1.7" fill="#e0312a"/>
<circle cx="641.7" cy="498.7" r="1.7" fill="#e0312a"/>
<circle cx="652.6" cy="478.8" r="1.7" fill="#e0312a"/>
<circle cx="630.1" cy="509.1" r="1.7" fill="#e0312a"/>
<circle cx="634.2" cy="519.8" r="1.7" fill="#e0312a"/>
<circle cx="630.0" cy="497.1" r="1.7" fill="#e0312a"/>
<circle cx="638.4" cy="511.2" r="1.7" fill="#e0312a"/>
<circle cx="623.6" cy="518.8" r="1.7" fill="#e0312a"/>
<circle cx="641.9" cy="518.7" r="1.7" fill="#e0312a"/>
<circle cx="632.7" cy="502.5" r="1.7" fill="#e0312a"/>
<circle cx="637.7" cy="519.4" r="1.7" fill="#e0312a"/>
<circle cx="640.2" cy="520.3" r="1.7" fill="#e0312a"/>
<circle cx="621.0" cy="518.6" r="1.7" fill="#e0312a"/>
<circle cx="636.8" cy="479.0" r="1.7" fill="#e0312a"/>
<circle cx="639.6" cy="483.7" r="1.7" fill="#e0312a"/>
<circle cx="589.3" cy="535.9" r="1.7" fill="#e0312a"/>
<circle cx="635.3" cy="536.3" r="1.7" fill="#e0312a"/>
<circle cx="654.8" cy="495.7" r="1.7" fill="#e0312a"/>
<circle cx="641.5" cy="524.5" r="1.7" fill="#e0312a"/>
<circle cx="627.3" cy="526.4" r="1.7" fill="#e0312a"/>
<rect x="2.0" y="407.5" width="103.9" height="15.0" fill="#fff" stroke="none" stroke-width="1"/>
<text x="2.0" y="420.4" font-size="13.8" font-weight="bold" fill="#000" stroke="#000" stroke-width="0.25">(d)</text>
<text x="23.3" y="420.4" font-size="13.5" fill="#000" stroke="#000" stroke-width="0.25" textLength="81.1" lengthAdjust="spacingAndGlyphs">EORTC 22033</text>
<rect x="160.0" y="407.5" width="10.5" height="5.2" fill="#fff" stroke="none" stroke-width="1"/>
<text x="161.0" y="411.0" font-size="3.6" fill="#333" stroke="#333" stroke-width="0.25" textLength="7.5" lengthAdjust="spacingAndGlyphs">d = 5</text>
<rect x="172.3" y="407.5" width="71.5" height="15.0" fill="#fff" stroke="none" stroke-width="1"/>
<text x="174.0" y="420.4" font-size="13.8" font-weight="bold" fill="#000" stroke="#000" stroke-width="0.25">(e)</text>
<text x="194.5" y="420.4" font-size="13.5" fill="#000" stroke="#000" stroke-width="0.25" textLength="47.8" lengthAdjust="spacingAndGlyphs">AGlioma</text>
<rect x="331.5" y="407.5" width="10.5" height="5.2" fill="#fff" stroke="none" stroke-width="1"/>
<text x="332.5" y="411.0" font-size="3.6" fill="#333" stroke="#333" stroke-width="0.25" textLength="7.5" lengthAdjust="spacingAndGlyphs">d = 5</text>
<rect x="343.6" y="407.5" width="64.8" height="15.0" fill="#fff" stroke="none" stroke-width="1"/>
<text x="346.4" y="420.4" font-size="13.8" font-weight="bold" fill="#000" stroke="#000" stroke-width="0.25">(f)</text>
<text x="364.1" y="420.4" font-size="13.5" fill="#000" stroke="#000" stroke-width="0.25" textLength="42.8" lengthAdjust="spacingAndGlyphs">TCGA-1</text>
<rect x="502.3" y="407.5" width="10.5" height="5.2" fill="#fff" stroke="none" stroke-width="1"/>
<text x="503.3" y="411.0" font-size="3.6" fill="#333" stroke="#333" stroke-width="0.25" textLength="7.5" lengthAdjust="spacingAndGlyphs">d = 5</text>
<rect x="514.5" y="407.5" width="70.7" height="15.0" fill="#fff" stroke="none" stroke-width="1"/>
<text x="517.0" y="420.4" font-size="13.8" font-weight="bold" fill="#000" stroke="#000" stroke-width="0.25">(g)</text>
<text x="539.9" y="420.4" font-size="13.5" fill="#000" stroke="#000" stroke-width="0.25" textLength="43.8" lengthAdjust="spacingAndGlyphs">TCGA-2</text>
<rect x="672.5" y="407.5" width="10.5" height="5.2" fill="#fff" stroke="none" stroke-width="1"/>
<text x="673.5" y="411.0" font-size="3.6" fill="#333" stroke="#333" stroke-width="0.25" textLength="7.5" lengthAdjust="spacingAndGlyphs">d = 5</text>
<rect x="0.0" y="0.7" width="685.0" height="1.5" fill="#1e1e1e" stroke="none" stroke-width="1"/>
<rect x="0.0" y="0.0" width="2.4" height="609.0" fill="#555" stroke="none" stroke-width="1"/>
<rect x="683.0" y="0.0" width="2.0" height="609.0" fill="#555" stroke="none" stroke-width="1"/>
<rect x="0.0" y="607.3" width="685.0" height="1.7" fill="#111" stroke="none" stroke-width="1"/>
<rect x="255.5" y="0.0" width="2.6" height="407.0" fill="#555" stroke="none" stroke-width="1"/>
<rect x="0.0" y="202.0" width="257.0" height="2.6" fill="#555" stroke="none" stroke-width="1"/>
<rect x="0.0" y="405.2" width="685.0" height="2.4" fill="#3d3d3d" stroke="none" stroke-width="1"/>
<rect x="170.3" y="406.0" width="2.2" height="203.0" fill="#3d3d3d" stroke="none" stroke-width="1"/>
<rect x="341.3" y="406.0" width="2.2" height="203.0" fill="#3d3d3d" stroke="none" stroke-width="1"/>
<rect x="512.9" y="406.0" width="2.2" height="203.0" fill="#3d3d3d" stroke="none" stroke-width="1"/>
<rect x="44.7" y="567.5" width="291.7" height="33.6" fill="#fff" stroke="#000" stroke-width="1.2"/>
<text x="52.7" y="582.3" font-size="9.6" font-weight="bold" fill="#2c7bb6" stroke="#2c7bb6" stroke-width="0.25" textLength="115.3" lengthAdjust="spacingAndGlyphs">grade II codeleted (CD.II)</text>
<text x="52.7" y="596.3" font-size="9.6" font-weight="bold" fill="#a6cee3" stroke="#a6cee3" stroke-width="0.25" textLength="121.0" lengthAdjust="spacingAndGlyphs">grade III codeleted (CD.III)</text>
<text x="189.3" y="582.3" font-size="9.6" font-weight="bold" fill="#fdae61" stroke="#fdae61" stroke-width="0.25" textLength="132.1" lengthAdjust="spacingAndGlyphs">grade II non-codeleted (N.II)</text>
<text x="189.3" y="596.3" font-size="9.6" font-weight="bold" fill="#d7191c" stroke="#d7191c" stroke-width="0.25" textLength="136.7" lengthAdjust="spacingAndGlyphs">grade III non-codeleted (N.III)</text>
</svg>
</body></html>
